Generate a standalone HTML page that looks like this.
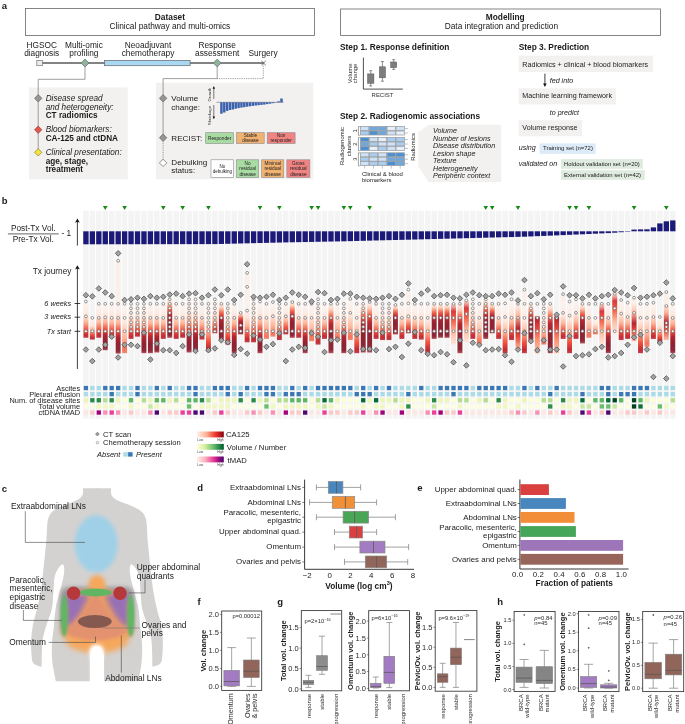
<!DOCTYPE html>
<html lang="en">
<head>
<meta charset="utf-8">
<title>Figure 1</title>
<style>
html,body{margin:0;padding:0;background:#fff;}
body{width:685px;height:724px;overflow:hidden;}
svg{display:block;font-family:'Liberation Sans', Arial, sans-serif;}
</style>
</head>
<body>
<svg width="685" height="724" viewBox="0 0 685 724" font-family="Liberation Sans, Arial, sans-serif">
<defs>
<linearGradient id="gn" x1="0" y1="0" x2="0" y2="1">
<stop offset="0" stop-color="#fff5f0" stop-opacity="0.5"/><stop offset="0.38" stop-color="#fee7dd"/><stop offset="0.58" stop-color="#fcb79d"/><stop offset="0.8" stop-color="#ee4f3c"/><stop offset="0.93" stop-color="#c22c35"/><stop offset="1" stop-color="#c4414b"/>
</linearGradient>
<linearGradient id="gd" x1="0" y1="0" x2="0" y2="1">
<stop offset="0" stop-color="#fff5f0" stop-opacity="0.5"/><stop offset="0.25" stop-color="#fee7dd"/><stop offset="0.42" stop-color="#fcb196"/><stop offset="0.56" stop-color="#ee4f3c"/><stop offset="0.68" stop-color="#b02631"/><stop offset="0.82" stop-color="#8f2231"/><stop offset="0.95" stop-color="#8d2838"/><stop offset="1" stop-color="#b5505a"/>
</linearGradient>
<linearGradient id="gD" x1="0" y1="0" x2="0" y2="1">
<stop offset="0" stop-color="#fff5f0" stop-opacity="0.6"/><stop offset="0.14" stop-color="#fdd0bb"/><stop offset="0.28" stop-color="#f0634a"/><stop offset="0.42" stop-color="#b52a33"/><stop offset="0.6" stop-color="#93222f"/><stop offset="0.93" stop-color="#8d2838"/><stop offset="1" stop-color="#b5505a"/>
</linearGradient>
<linearGradient id="gl" x1="0" y1="0" x2="0" y2="1">
<stop offset="0" stop-color="#fff5f0" stop-opacity="0.5"/><stop offset="0.4" stop-color="#fee7dd"/><stop offset="0.7" stop-color="#fcb59b"/><stop offset="0.92" stop-color="#f4735a"/><stop offset="1" stop-color="#f08a72"/>
</linearGradient>
<linearGradient id="gr" x1="0" y1="0" x2="0" y2="1">
<stop offset="0" stop-color="#fde4d8" stop-opacity="0.7"/><stop offset="0.2" stop-color="#d8393a"/><stop offset="0.45" stop-color="#f26a50"/><stop offset="0.7" stop-color="#fcbba1"/><stop offset="1" stop-color="#fee6dc"/>
</linearGradient>
<linearGradient id="gR" x1="0" y1="0" x2="0" y2="1">
<stop offset="0" stop-color="#a3212f"/><stop offset="0.3" stop-color="#e0413a"/><stop offset="0.6" stop-color="#fb8a6a"/><stop offset="1" stop-color="#fcc5ae"/>
</linearGradient>
<linearGradient id="gm" x1="0" y1="0" x2="0" y2="1">
<stop offset="0" stop-color="#fff5f0" stop-opacity="0.6"/><stop offset="0.3" stop-color="#fcae91"/><stop offset="0.55" stop-color="#b5252f"/><stop offset="0.75" stop-color="#e8503f"/><stop offset="1" stop-color="#fcbfa8"/>
</linearGradient>
<linearGradient id="cbRed" x1="0" y1="0" x2="1" y2="0">
<stop offset="0" stop-color="#fff0ea"/><stop offset="0.35" stop-color="#fcb398"/><stop offset="0.65" stop-color="#ef4533"/><stop offset="0.85" stop-color="#c4161c"/><stop offset="1" stop-color="#7a0a12"/>
</linearGradient>
<linearGradient id="cbGrn" x1="0" y1="0" x2="1" y2="0">
<stop offset="0" stop-color="#ffffe0"/><stop offset="0.3" stop-color="#d5ee9f"/><stop offset="0.6" stop-color="#6fc070"/><stop offset="0.85" stop-color="#1f8643"/><stop offset="1" stop-color="#00552e"/>
</linearGradient>
<linearGradient id="cbPur" x1="0" y1="0" x2="1" y2="0">
<stop offset="0" stop-color="#fff0ec"/><stop offset="0.3" stop-color="#fbb4bd"/><stop offset="0.6" stop-color="#ea3f98"/><stop offset="0.82" stop-color="#9a0a80"/><stop offset="1" stop-color="#4a0a6e"/>
</linearGradient>
<filter id="blur2" x="-30%" y="-30%" width="160%" height="160%"><feGaussianBlur stdDeviation="2.2"/></filter>
<filter id="blur3" x="-40%" y="-40%" width="180%" height="180%"><feGaussianBlur stdDeviation="3.5"/></filter>
<filter id="blur5" x="-50%" y="-50%" width="200%" height="200%"><feGaussianBlur stdDeviation="5.5"/></filter>
<filter id="blur1b" x="-30%" y="-30%" width="160%" height="160%"><feGaussianBlur stdDeviation="1.5"/></filter>
<filter id="blur2b" x="-40%" y="-40%" width="180%" height="180%"><feGaussianBlur stdDeviation="3"/></filter>
<filter id="blur1" x="-30%" y="-30%" width="160%" height="160%"><feGaussianBlur stdDeviation="0.9"/></filter>
</defs>
<rect x="0" y="0" width="685" height="724" fill="#ffffff"/>
<g fill="#1a1a1a">
<text x="1.80" y="8.80" font-size="9.5" font-weight="bold">a</text>
<rect x="25.40" y="8.40" width="289.00" height="27.00" fill="#fff" stroke="#666" stroke-width="0.8"/>
<text x="169.90" y="20.20" font-size="8.33" text-anchor="middle" font-weight="bold">Dataset</text>
<text x="169.90" y="28.90" font-size="8.33" text-anchor="middle">Clinical pathway and multi-omics</text>
<text x="41.70" y="47.80" font-size="8.3" text-anchor="middle">HGSOC</text>
<text x="41.70" y="56.40" font-size="8.3" text-anchor="middle">diagnosis</text>
<text x="83.90" y="47.80" font-size="8.3" text-anchor="middle">Multi-omic</text>
<text x="83.90" y="56.40" font-size="8.3" text-anchor="middle">profiling</text>
<text x="148.00" y="47.80" font-size="8.3" text-anchor="middle">Neoadjuvant</text>
<text x="148.00" y="56.40" font-size="8.3" text-anchor="middle">chemotherapy</text>
<text x="217.20" y="47.80" font-size="8.3" text-anchor="middle">Response</text>
<text x="217.20" y="56.40" font-size="8.3" text-anchor="middle">assessment</text>
<text x="263.10" y="56.40" font-size="8.3" text-anchor="middle">Surgery</text>
<line x1="42.00" y1="63.00" x2="263.60" y2="63.00" stroke="#5a5a5a" stroke-width="1.3" />
<rect x="36.80" y="60.40" width="5.60" height="5.30" fill="#ececec" stroke="#777" stroke-width="0.7"/>
<rect x="104.60" y="60.40" width="85.50" height="5.30" fill="#a9d8f2" stroke="#666" stroke-width="0.7"/>
<path d="M85 66.5V79.3H38.2V152.3" fill="none" stroke="#777" stroke-width="0.7"/>
<path d="M217.2 66.5V78.6H163.1V137.7" fill="none" stroke="#777" stroke-width="0.7"/>
<path d="M217.2 78.6H263.3V64" fill="none" stroke="#666" stroke-width="0.7" stroke-dasharray="0.9 0.9"/>
<path d="M85.00 59.10L88.90 63.00L85.00 66.90L81.10 63.00Z" fill="#8fb39c" stroke="#5f6f66" stroke-width="0.7"/>
<path d="M217.20 59.10L221.10 63.00L217.20 66.90L213.30 63.00Z" fill="#8fb39c" stroke="#5f6f66" stroke-width="0.7"/>
<path d="M261.4 60.8L265.8 65.2M265.8 60.8L261.4 65.2" fill="none" stroke="#444" stroke-width="0.7"/>
<rect x="29.00" y="87.50" width="98.80" height="91.80" fill="#f3f1f0"/>
<line x1="38.20" y1="87.50" x2="38.20" y2="152.30" stroke="#777" stroke-width="0.7" />
<path d="M38.20 94.60L41.90 98.30L38.20 102.00L34.50 98.30Z" fill="#959595" stroke="#666" stroke-width="0.7"/>
<path d="M38.20 126.00L41.90 129.70L38.20 133.40L34.50 129.70Z" fill="#e2574c" stroke="#8a4a44" stroke-width="0.7"/>
<path d="M38.20 148.60L41.90 152.30L38.20 156.00L34.50 152.30Z" fill="#f2e23a" stroke="#8a8440" stroke-width="0.7"/>
<text x="45.70" y="101.20" font-size="8.2" font-style="italic">Disease spread</text>
<text x="45.70" y="109.50" font-size="8.2" font-style="italic">and heterogeneity:</text>
<text x="45.70" y="118.30" font-size="8.2" font-weight="bold">CT radiomics</text>
<text x="45.70" y="132.10" font-size="8.2" font-style="italic">Blood biomarkers:</text>
<text x="45.70" y="141.40" font-size="8.2" font-weight="bold">CA-125 and ctDNA</text>
<text x="45.70" y="155.20" font-size="8.2" font-style="italic">Clinical presentation:</text>
<text x="45.70" y="164.00" font-size="8.2" font-weight="bold">age, stage,</text>
<text x="45.70" y="172.20" font-size="8.2" font-weight="bold">treatment</text>
<rect x="156.00" y="82.80" width="157.20" height="96.50" fill="#f3f1f0"/>
<line x1="163.10" y1="82.80" x2="163.10" y2="137.70" stroke="#777" stroke-width="0.7" />
<line x1="163.10" y1="137.70" x2="163.10" y2="162.90" stroke="#666" stroke-width="0.7" stroke-dasharray="0.9 0.9"/>
<path d="M163.10 94.60L166.80 98.30L163.10 102.00L159.40 98.30Z" fill="#959595" stroke="#666" stroke-width="0.7"/>
<path d="M163.10 134.00L166.80 137.70L163.10 141.40L159.40 137.70Z" fill="#959595" stroke="#666" stroke-width="0.7"/>
<path d="M163.10 159.20L166.80 162.90L163.10 166.60L159.40 162.90Z" fill="#ffffff" stroke="#666" stroke-width="0.7"/>
<text x="171.30" y="101.30" font-size="8.1">Volume</text>
<text x="171.30" y="110.10" font-size="8.1">change:</text>
<text x="171.30" y="141.00" font-size="8.1">RECIST:</text>
<text x="171.30" y="164.90" font-size="8.1">Debulking</text>
<text x="171.30" y="173.40" font-size="8.1">status:</text>
<line x1="213.80" y1="87.50" x2="213.80" y2="99.00" stroke="#222" stroke-width="0.6" />
<path d="M212.6 88.8L213.8 86.0L215.0 88.8Z" fill="#111"/>
<line x1="213.80" y1="105.00" x2="213.80" y2="117.60" stroke="#222" stroke-width="0.6" />
<path d="M212.6 116.4L213.8 119.2L215.0 116.4Z" fill="#111"/>
<text x="211.40" y="101.60" font-size="4.3" fill="#333" transform="rotate(-90 211.40 101.60)">Growth</text>
<text x="211.40" y="125.20" font-size="4.3" fill="#333" transform="rotate(-90 211.40 125.20)">Shrinkage</text>
<line x1="216.50" y1="102.30" x2="283.60" y2="102.30" stroke="#555" stroke-width="0.5" />
<rect x="220.20" y="102.30" width="2.45" height="11.40" fill="#3b62ad"/>
<rect x="223.06" y="102.30" width="2.45" height="10.20" fill="#3b62ad"/>
<rect x="225.92" y="102.30" width="2.45" height="8.60" fill="#3b62ad"/>
<rect x="228.78" y="102.30" width="2.45" height="7.70" fill="#3b62ad"/>
<rect x="231.64" y="102.30" width="2.45" height="7.20" fill="#3b62ad"/>
<rect x="234.50" y="102.30" width="2.45" height="6.40" fill="#3b62ad"/>
<rect x="237.36" y="102.30" width="2.45" height="5.80" fill="#3b62ad"/>
<rect x="240.22" y="102.30" width="2.45" height="5.30" fill="#3b62ad"/>
<rect x="243.08" y="102.30" width="2.45" height="4.90" fill="#3b62ad"/>
<rect x="245.94" y="102.30" width="2.45" height="4.40" fill="#3b62ad"/>
<rect x="248.80" y="102.30" width="2.45" height="4.00" fill="#3b62ad"/>
<rect x="251.66" y="102.30" width="2.45" height="3.60" fill="#3b62ad"/>
<rect x="254.52" y="102.30" width="2.45" height="3.20" fill="#3b62ad"/>
<rect x="257.38" y="102.30" width="2.45" height="2.90" fill="#3b62ad"/>
<rect x="260.24" y="102.30" width="2.45" height="2.60" fill="#3b62ad"/>
<rect x="263.10" y="102.30" width="2.45" height="2.30" fill="#3b62ad"/>
<rect x="265.96" y="102.30" width="2.45" height="1.80" fill="#3b62ad"/>
<rect x="268.82" y="102.30" width="2.45" height="1.40" fill="#3b62ad"/>
<rect x="271.68" y="102.30" width="2.45" height="0.90" fill="#3b62ad"/>
<rect x="274.54" y="102.30" width="2.45" height="0.30" fill="#3b62ad"/>
<rect x="277.40" y="101.30" width="2.45" height="1.00" fill="#3b62ad"/>
<rect x="280.26" y="98.50" width="2.45" height="3.80" fill="#3b62ad"/>
<rect x="205.70" y="132.70" width="27.90" height="10.80" fill="#a9dca3" stroke="#8a8a8a" stroke-width="0.6"/>
<text x="219.65" y="139.77" font-size="4.76" text-anchor="middle" fill="#222">Responder</text>
<rect x="236.60" y="132.70" width="27.60" height="10.80" fill="#f1b170" stroke="#8a8a8a" stroke-width="0.6"/>
<text x="250.40" y="137.12" font-size="4.76" text-anchor="middle" fill="#222">Stable</text>
<text x="250.40" y="142.42" font-size="4.76" text-anchor="middle" fill="#222">disease</text>
<rect x="267.20" y="132.70" width="27.90" height="10.80" fill="#f08482" stroke="#8a8a8a" stroke-width="0.6"/>
<text x="281.15" y="137.12" font-size="4.76" text-anchor="middle" fill="#222">Non</text>
<text x="281.15" y="142.42" font-size="4.76" text-anchor="middle" fill="#222">responder</text>
<rect x="211.00" y="159.80" width="22.60" height="17.60" fill="#ffffff" stroke="#8a8a8a" stroke-width="0.6"/>
<text x="222.30" y="167.53" font-size="4.5" text-anchor="middle" fill="#222">No</text>
<text x="222.30" y="172.83" font-size="4.5" text-anchor="middle" fill="#222">debulking</text>
<rect x="236.60" y="159.80" width="22.10" height="17.60" fill="#a9dca3" stroke="#8a8a8a" stroke-width="0.6"/>
<text x="247.65" y="164.97" font-size="4.76" text-anchor="middle" fill="#222">No</text>
<text x="247.65" y="170.27" font-size="4.76" text-anchor="middle" fill="#222">residual</text>
<text x="247.65" y="175.57" font-size="4.76" text-anchor="middle" fill="#222">disease</text>
<rect x="261.70" y="159.80" width="22.10" height="17.60" fill="#f1b170" stroke="#8a8a8a" stroke-width="0.6"/>
<text x="272.75" y="164.97" font-size="4.76" text-anchor="middle" fill="#222">Minimal</text>
<text x="272.75" y="170.27" font-size="4.76" text-anchor="middle" fill="#222">residual</text>
<text x="272.75" y="175.57" font-size="4.76" text-anchor="middle" fill="#222">disease</text>
<rect x="286.80" y="159.80" width="23.10" height="17.60" fill="#f08482" stroke="#8a8a8a" stroke-width="0.6"/>
<text x="298.35" y="164.97" font-size="4.76" text-anchor="middle" fill="#222">Gross</text>
<text x="298.35" y="170.27" font-size="4.76" text-anchor="middle" fill="#222">residual</text>
<text x="298.35" y="175.57" font-size="4.76" text-anchor="middle" fill="#222">disease</text>
<rect x="340.60" y="9.00" width="320.00" height="26.40" fill="#fff" stroke="#666" stroke-width="0.8"/>
<text x="505.20" y="20.20" font-size="8.33" text-anchor="middle" font-weight="bold">Modelling</text>
<text x="501.40" y="28.70" font-size="8.33" text-anchor="middle">Data integration and prediction</text>
<text x="340.00" y="50.00" font-size="8.36" font-weight="bold">Step 1. Response definition</text>
<path d="M363.4 57.6V89.1H402.8" fill="none" stroke="#222" stroke-width="0.8"/>
<text x="352.20" y="73.40" font-size="5.95" text-anchor="middle" fill="#333" transform="rotate(-90 352.20 73.40)">Volume</text>
<text x="357.20" y="73.40" font-size="5.95" text-anchor="middle" fill="#333" transform="rotate(-90 357.20 73.40)">change</text>
<text x="382.50" y="97.00" font-size="5.95" text-anchor="middle" fill="#333">RECIST</text>
<line x1="370.75" y1="70.70" x2="370.75" y2="86.00" stroke="#444" stroke-width="0.6" />
<line x1="369.25" y1="70.70" x2="372.25" y2="70.70" stroke="#444" stroke-width="0.6" />
<line x1="369.25" y1="86.00" x2="372.25" y2="86.00" stroke="#444" stroke-width="0.6" />
<rect x="367.60" y="73.90" width="6.30" height="9.40" fill="#7d7d7d" stroke="#555" stroke-width="0.5"/>
<line x1="382.40" y1="61.50" x2="382.40" y2="81.20" stroke="#444" stroke-width="0.6" />
<line x1="380.90" y1="61.50" x2="383.90" y2="61.50" stroke="#444" stroke-width="0.6" />
<line x1="380.90" y1="81.20" x2="383.90" y2="81.20" stroke="#444" stroke-width="0.6" />
<rect x="379.40" y="66.80" width="6.00" height="11.00" fill="#7d7d7d" stroke="#555" stroke-width="0.5"/>
<line x1="393.70" y1="59.70" x2="393.70" y2="69.40" stroke="#444" stroke-width="0.6" />
<line x1="392.20" y1="59.70" x2="395.20" y2="59.70" stroke="#444" stroke-width="0.6" />
<line x1="392.20" y1="69.40" x2="395.20" y2="69.40" stroke="#444" stroke-width="0.6" />
<rect x="390.70" y="62.00" width="6.00" height="5.60" fill="#7d7d7d" stroke="#555" stroke-width="0.5"/>
<text x="340.00" y="118.70" font-size="8.36" font-weight="bold">Step 2. Radiogenomic associations</text>
<rect x="360.40" y="126.60" width="8.50" height="4.00" fill="#cfe1f4" stroke="#9a9c9f" stroke-width="0.75"/>
<rect x="369.30" y="126.60" width="8.50" height="4.00" fill="#6fa8dc" stroke="#9a9c9f" stroke-width="0.75"/>
<rect x="378.20" y="126.60" width="8.50" height="4.00" fill="#6fa8dc" stroke="#9a9c9f" stroke-width="0.75"/>
<rect x="387.10" y="126.60" width="8.50" height="4.00" fill="#e6f0fa" stroke="#9a9c9f" stroke-width="0.75"/>
<rect x="396.00" y="126.60" width="8.50" height="4.00" fill="#cfe1f4" stroke="#9a9c9f" stroke-width="0.75"/>
<rect x="360.40" y="131.00" width="8.50" height="4.00" fill="#a9cdee" stroke="#9a9c9f" stroke-width="0.75"/>
<rect x="369.30" y="131.00" width="8.50" height="4.00" fill="#4a90d4" stroke="#9a9c9f" stroke-width="0.75"/>
<rect x="378.20" y="131.00" width="8.50" height="4.00" fill="#6fa8dc" stroke="#9a9c9f" stroke-width="0.75"/>
<rect x="387.10" y="131.00" width="8.50" height="4.00" fill="#cfe1f4" stroke="#9a9c9f" stroke-width="0.75"/>
<rect x="396.00" y="131.00" width="8.50" height="4.00" fill="#e6f0fa" stroke="#9a9c9f" stroke-width="0.75"/>
<rect x="360.40" y="137.60" width="8.50" height="4.00" fill="#4a90d4" stroke="#9a9c9f" stroke-width="0.75"/>
<rect x="369.30" y="137.60" width="8.50" height="4.00" fill="#cfe1f4" stroke="#9a9c9f" stroke-width="0.75"/>
<rect x="378.20" y="137.60" width="8.50" height="4.00" fill="#e6f0fa" stroke="#9a9c9f" stroke-width="0.75"/>
<rect x="387.10" y="137.60" width="8.50" height="4.00" fill="#a9cdee" stroke="#9a9c9f" stroke-width="0.75"/>
<rect x="396.00" y="137.60" width="8.50" height="4.00" fill="#a9cdee" stroke="#9a9c9f" stroke-width="0.75"/>
<rect x="360.40" y="142.00" width="8.50" height="4.00" fill="#6fa8dc" stroke="#9a9c9f" stroke-width="0.75"/>
<rect x="369.30" y="142.00" width="8.50" height="4.00" fill="#a9cdee" stroke="#9a9c9f" stroke-width="0.75"/>
<rect x="378.20" y="142.00" width="8.50" height="4.00" fill="#cfe1f4" stroke="#9a9c9f" stroke-width="0.75"/>
<rect x="387.10" y="142.00" width="8.50" height="4.00" fill="#cfe1f4" stroke="#9a9c9f" stroke-width="0.75"/>
<rect x="396.00" y="142.00" width="8.50" height="4.00" fill="#a9cdee" stroke="#9a9c9f" stroke-width="0.75"/>
<rect x="360.40" y="146.40" width="8.50" height="4.00" fill="#4a90d4" stroke="#9a9c9f" stroke-width="0.75"/>
<rect x="369.30" y="146.40" width="8.50" height="4.00" fill="#e6f0fa" stroke="#9a9c9f" stroke-width="0.75"/>
<rect x="378.20" y="146.40" width="8.50" height="4.00" fill="#a9cdee" stroke="#9a9c9f" stroke-width="0.75"/>
<rect x="387.10" y="146.40" width="8.50" height="4.00" fill="#cfe1f4" stroke="#9a9c9f" stroke-width="0.75"/>
<rect x="396.00" y="146.40" width="8.50" height="4.00" fill="#e6f0fa" stroke="#9a9c9f" stroke-width="0.75"/>
<rect x="360.40" y="152.80" width="8.50" height="4.00" fill="#cfe1f4" stroke="#9a9c9f" stroke-width="0.75"/>
<rect x="369.30" y="152.80" width="8.50" height="4.00" fill="#a9cdee" stroke="#9a9c9f" stroke-width="0.75"/>
<rect x="378.20" y="152.80" width="8.50" height="4.00" fill="#cfe1f4" stroke="#9a9c9f" stroke-width="0.75"/>
<rect x="387.10" y="152.80" width="8.50" height="4.00" fill="#4a90d4" stroke="#9a9c9f" stroke-width="0.75"/>
<rect x="396.00" y="152.80" width="8.50" height="4.00" fill="#4a90d4" stroke="#9a9c9f" stroke-width="0.75"/>
<rect x="360.40" y="157.20" width="8.50" height="4.00" fill="#a9cdee" stroke="#9a9c9f" stroke-width="0.75"/>
<rect x="369.30" y="157.20" width="8.50" height="4.00" fill="#cfe1f4" stroke="#9a9c9f" stroke-width="0.75"/>
<rect x="378.20" y="157.20" width="8.50" height="4.00" fill="#cfe1f4" stroke="#9a9c9f" stroke-width="0.75"/>
<rect x="387.10" y="157.20" width="8.50" height="4.00" fill="#6fa8dc" stroke="#9a9c9f" stroke-width="0.75"/>
<rect x="396.00" y="157.20" width="8.50" height="4.00" fill="#6fa8dc" stroke="#9a9c9f" stroke-width="0.75"/>
<rect x="360.40" y="161.60" width="8.50" height="4.00" fill="#cfe1f4" stroke="#9a9c9f" stroke-width="0.75"/>
<rect x="369.30" y="161.60" width="8.50" height="4.00" fill="#a9cdee" stroke="#9a9c9f" stroke-width="0.75"/>
<rect x="378.20" y="161.60" width="8.50" height="4.00" fill="#a9cdee" stroke="#9a9c9f" stroke-width="0.75"/>
<rect x="387.10" y="161.60" width="8.50" height="4.00" fill="#4a90d4" stroke="#9a9c9f" stroke-width="0.75"/>
<rect x="396.00" y="161.60" width="8.50" height="4.00" fill="#6fa8dc" stroke="#9a9c9f" stroke-width="0.75"/>
<path d="M359.8 126.6H358.4V135.3H359.8" fill="none" stroke="#444" stroke-width="0.5"/>
<text x="357.30" y="130.80" font-size="5.8" text-anchor="middle" fill="#333" transform="rotate(-90 357.30 130.80)">1</text>
<path d="M359.8 137.6H358.4V150.70000000000002H359.8" fill="none" stroke="#444" stroke-width="0.5"/>
<text x="357.30" y="144.00" font-size="5.8" text-anchor="middle" fill="#333" transform="rotate(-90 357.30 144.00)">2</text>
<path d="M359.8 152.8H358.4V165.9H359.8" fill="none" stroke="#444" stroke-width="0.5"/>
<text x="357.30" y="159.20" font-size="5.8" text-anchor="middle" fill="#333" transform="rotate(-90 357.30 159.20)">3</text>
<line x1="405.00" y1="128.60" x2="408.00" y2="128.60" stroke="#666" stroke-width="0.4" />
<line x1="405.00" y1="133.00" x2="408.00" y2="133.00" stroke="#666" stroke-width="0.4" />
<line x1="405.00" y1="139.60" x2="408.00" y2="139.60" stroke="#666" stroke-width="0.4" />
<line x1="405.00" y1="144.00" x2="408.00" y2="144.00" stroke="#666" stroke-width="0.4" />
<line x1="405.00" y1="148.40" x2="408.00" y2="148.40" stroke="#666" stroke-width="0.4" />
<line x1="405.00" y1="154.80" x2="408.00" y2="154.80" stroke="#666" stroke-width="0.4" />
<line x1="405.00" y1="159.20" x2="408.00" y2="159.20" stroke="#666" stroke-width="0.4" />
<line x1="405.00" y1="163.60" x2="408.00" y2="163.60" stroke="#666" stroke-width="0.4" />
<line x1="364.60" y1="166.00" x2="364.60" y2="168.60" stroke="#666" stroke-width="0.4" />
<line x1="373.50" y1="166.00" x2="373.50" y2="168.60" stroke="#666" stroke-width="0.4" />
<line x1="382.40" y1="166.00" x2="382.40" y2="168.60" stroke="#666" stroke-width="0.4" />
<line x1="391.30" y1="166.00" x2="391.30" y2="168.60" stroke="#666" stroke-width="0.4" />
<line x1="400.20" y1="166.00" x2="400.20" y2="168.60" stroke="#666" stroke-width="0.4" />
<text x="344.40" y="146.00" font-size="5.95" text-anchor="middle" fill="#222" transform="rotate(-90 344.40 146.00)">Radiogenomic</text>
<text x="350.80" y="146.00" font-size="5.95" text-anchor="middle" fill="#222" transform="rotate(-90 350.80 146.00)">clusters</text>
<text x="415.40" y="147.00" font-size="5.95" text-anchor="middle" fill="#222" transform="rotate(-90 415.40 147.00)">Radiomics</text>
<text x="362.00" y="176.30" font-size="5.95" fill="#222">Clinical &amp; blood</text>
<text x="362.00" y="182.40" font-size="5.95" fill="#222">biomarkers</text>
<path d="M418.2 132.6L428.4 124.8H501.3V182.0H428.4L418.2 166.2Z" fill="#f3f1f0"/>
<text x="433.00" y="133.40" font-size="7.15" font-style="italic">Volume</text>
<text x="433.00" y="140.83" font-size="7.15" font-style="italic">Number of lesions</text>
<text x="433.00" y="148.26" font-size="7.15" font-style="italic">Disease distribution</text>
<text x="433.00" y="155.69" font-size="7.15" font-style="italic">Lesion shape</text>
<text x="433.00" y="163.12" font-size="7.15" font-style="italic">Texture</text>
<text x="433.00" y="170.55" font-size="7.15" font-style="italic">Heterogeneity</text>
<text x="433.00" y="177.98" font-size="7.15" font-style="italic">Peripheric context</text>
<text x="518.70" y="50.00" font-size="8.36" font-weight="bold">Step 3. Prediction</text>
<rect x="518.70" y="55.70" width="134.20" height="16.30" fill="#f3f1f0"/>
<text x="522.30" y="66.90" font-size="7.15">Radiomics + clinical + blood biomarkers</text>
<line x1="544.90" y1="73.60" x2="544.90" y2="85.00" stroke="#111" stroke-width="0.8" />
<path d="M543.1 83.6L544.9 87.0L546.7 83.6Z" fill="#111"/>
<text x="549.70" y="82.60" font-size="7.15" font-style="italic">fed into</text>
<rect x="518.70" y="88.30" width="97.20" height="16.10" fill="#f3f1f0"/>
<text x="522.30" y="97.80" font-size="7.15">Machine learning framework</text>
<text x="549.70" y="114.60" font-size="7.15" font-style="italic">to predict</text>
<rect x="518.70" y="120.20" width="63.30" height="16.10" fill="#f3f1f0"/>
<text x="522.30" y="129.70" font-size="7.15">Volume response</text>
<text x="518.70" y="149.90" font-size="7.15" font-style="italic">using</text>
<rect x="539.70" y="143.40" width="55.90" height="10.50" fill="#ddebf8"/>
<text x="543.10" y="150.40" font-size="5.95">Training set (n=72)</text>
<text x="518.70" y="165.70" font-size="7.15" font-style="italic">validated on</text>
<rect x="561.00" y="159.10" width="81.90" height="9.70" fill="#e0ebe0"/>
<text x="564.00" y="165.70" font-size="5.95">Holdout validation set (n=20)</text>
<rect x="561.00" y="170.20" width="83.80" height="9.60" fill="#e0ebe0"/>
<text x="564.00" y="176.70" font-size="5.95">External validation set (n=42)</text>
<text x="1.80" y="203.80" font-size="9.5" font-weight="bold">b</text>
<rect x="83.15" y="210.80" width="5.55" height="207.80" fill="#f4f4f4"/>
<rect x="89.60" y="210.80" width="5.55" height="207.80" fill="#f4f4f4"/>
<rect x="96.05" y="210.80" width="5.55" height="207.80" fill="#f4f4f4"/>
<rect x="102.50" y="210.80" width="5.55" height="207.80" fill="#f4f4f4"/>
<rect x="108.95" y="210.80" width="5.55" height="207.80" fill="#f4f4f4"/>
<rect x="115.40" y="210.80" width="5.55" height="207.80" fill="#f4f4f4"/>
<rect x="121.84" y="210.80" width="5.55" height="207.80" fill="#f4f4f4"/>
<rect x="128.29" y="210.80" width="5.55" height="207.80" fill="#f4f4f4"/>
<rect x="134.74" y="210.80" width="5.55" height="207.80" fill="#f4f4f4"/>
<rect x="141.19" y="210.80" width="5.55" height="207.80" fill="#f4f4f4"/>
<rect x="147.64" y="210.80" width="5.55" height="207.80" fill="#f4f4f4"/>
<rect x="154.09" y="210.80" width="5.55" height="207.80" fill="#f4f4f4"/>
<rect x="160.54" y="210.80" width="5.55" height="207.80" fill="#f4f4f4"/>
<rect x="166.99" y="210.80" width="5.55" height="207.80" fill="#f4f4f4"/>
<rect x="173.44" y="210.80" width="5.55" height="207.80" fill="#f4f4f4"/>
<rect x="179.88" y="210.80" width="5.55" height="207.80" fill="#f4f4f4"/>
<rect x="186.33" y="210.80" width="5.55" height="207.80" fill="#f4f4f4"/>
<rect x="192.78" y="210.80" width="5.55" height="207.80" fill="#f4f4f4"/>
<rect x="199.23" y="210.80" width="5.55" height="207.80" fill="#f4f4f4"/>
<rect x="205.68" y="210.80" width="5.55" height="207.80" fill="#f4f4f4"/>
<rect x="212.13" y="210.80" width="5.55" height="207.80" fill="#f4f4f4"/>
<rect x="218.58" y="210.80" width="5.55" height="207.80" fill="#f4f4f4"/>
<rect x="225.03" y="210.80" width="5.55" height="207.80" fill="#f4f4f4"/>
<rect x="231.48" y="210.80" width="5.55" height="207.80" fill="#f4f4f4"/>
<rect x="237.93" y="210.80" width="5.55" height="207.80" fill="#f4f4f4"/>
<rect x="244.38" y="210.80" width="5.55" height="207.80" fill="#f4f4f4"/>
<rect x="250.82" y="210.80" width="5.55" height="207.80" fill="#f4f4f4"/>
<rect x="257.27" y="210.80" width="5.55" height="207.80" fill="#f4f4f4"/>
<rect x="263.72" y="210.80" width="5.55" height="207.80" fill="#f4f4f4"/>
<rect x="270.17" y="210.80" width="5.55" height="207.80" fill="#f4f4f4"/>
<rect x="276.62" y="210.80" width="5.55" height="207.80" fill="#f4f4f4"/>
<rect x="283.07" y="210.80" width="5.55" height="207.80" fill="#f4f4f4"/>
<rect x="289.52" y="210.80" width="5.55" height="207.80" fill="#f4f4f4"/>
<rect x="295.97" y="210.80" width="5.55" height="207.80" fill="#f4f4f4"/>
<rect x="302.42" y="210.80" width="5.55" height="207.80" fill="#f4f4f4"/>
<rect x="308.87" y="210.80" width="5.55" height="207.80" fill="#f4f4f4"/>
<rect x="315.31" y="210.80" width="5.55" height="207.80" fill="#f4f4f4"/>
<rect x="321.76" y="210.80" width="5.55" height="207.80" fill="#f4f4f4"/>
<rect x="328.21" y="210.80" width="5.55" height="207.80" fill="#f4f4f4"/>
<rect x="334.66" y="210.80" width="5.55" height="207.80" fill="#f4f4f4"/>
<rect x="341.11" y="210.80" width="5.55" height="207.80" fill="#f4f4f4"/>
<rect x="347.56" y="210.80" width="5.55" height="207.80" fill="#f4f4f4"/>
<rect x="354.01" y="210.80" width="5.55" height="207.80" fill="#f4f4f4"/>
<rect x="360.46" y="210.80" width="5.55" height="207.80" fill="#f4f4f4"/>
<rect x="366.91" y="210.80" width="5.55" height="207.80" fill="#f4f4f4"/>
<rect x="373.36" y="210.80" width="5.55" height="207.80" fill="#f4f4f4"/>
<rect x="379.80" y="210.80" width="5.55" height="207.80" fill="#f4f4f4"/>
<rect x="386.25" y="210.80" width="5.55" height="207.80" fill="#f4f4f4"/>
<rect x="392.70" y="210.80" width="5.55" height="207.80" fill="#f4f4f4"/>
<rect x="399.15" y="210.80" width="5.55" height="207.80" fill="#f4f4f4"/>
<rect x="405.60" y="210.80" width="5.55" height="207.80" fill="#f4f4f4"/>
<rect x="412.05" y="210.80" width="5.55" height="207.80" fill="#f4f4f4"/>
<rect x="418.50" y="210.80" width="5.55" height="207.80" fill="#f4f4f4"/>
<rect x="424.95" y="210.80" width="5.55" height="207.80" fill="#f4f4f4"/>
<rect x="431.40" y="210.80" width="5.55" height="207.80" fill="#f4f4f4"/>
<rect x="437.85" y="210.80" width="5.55" height="207.80" fill="#f4f4f4"/>
<rect x="444.29" y="210.80" width="5.55" height="207.80" fill="#f4f4f4"/>
<rect x="450.74" y="210.80" width="5.55" height="207.80" fill="#f4f4f4"/>
<rect x="457.19" y="210.80" width="5.55" height="207.80" fill="#f4f4f4"/>
<rect x="463.64" y="210.80" width="5.55" height="207.80" fill="#f4f4f4"/>
<rect x="470.09" y="210.80" width="5.55" height="207.80" fill="#f4f4f4"/>
<rect x="476.54" y="210.80" width="5.55" height="207.80" fill="#f4f4f4"/>
<rect x="482.99" y="210.80" width="5.55" height="207.80" fill="#f4f4f4"/>
<rect x="489.44" y="210.80" width="5.55" height="207.80" fill="#f4f4f4"/>
<rect x="495.89" y="210.80" width="5.55" height="207.80" fill="#f4f4f4"/>
<rect x="502.34" y="210.80" width="5.55" height="207.80" fill="#f4f4f4"/>
<rect x="508.78" y="210.80" width="5.55" height="207.80" fill="#f4f4f4"/>
<rect x="515.23" y="210.80" width="5.55" height="207.80" fill="#f4f4f4"/>
<rect x="521.68" y="210.80" width="5.55" height="207.80" fill="#f4f4f4"/>
<rect x="528.13" y="210.80" width="5.55" height="207.80" fill="#f4f4f4"/>
<rect x="534.58" y="210.80" width="5.55" height="207.80" fill="#f4f4f4"/>
<rect x="541.03" y="210.80" width="5.55" height="207.80" fill="#f4f4f4"/>
<rect x="547.48" y="210.80" width="5.55" height="207.80" fill="#f4f4f4"/>
<rect x="553.93" y="210.80" width="5.55" height="207.80" fill="#f4f4f4"/>
<rect x="560.38" y="210.80" width="5.55" height="207.80" fill="#f4f4f4"/>
<rect x="566.83" y="210.80" width="5.55" height="207.80" fill="#f4f4f4"/>
<rect x="573.27" y="210.80" width="5.55" height="207.80" fill="#f4f4f4"/>
<rect x="579.72" y="210.80" width="5.55" height="207.80" fill="#f4f4f4"/>
<rect x="586.17" y="210.80" width="5.55" height="207.80" fill="#f4f4f4"/>
<rect x="592.62" y="210.80" width="5.55" height="207.80" fill="#f4f4f4"/>
<rect x="599.07" y="210.80" width="5.55" height="207.80" fill="#f4f4f4"/>
<rect x="605.52" y="210.80" width="5.55" height="207.80" fill="#f4f4f4"/>
<rect x="611.97" y="210.80" width="5.55" height="207.80" fill="#f4f4f4"/>
<rect x="618.42" y="210.80" width="5.55" height="207.80" fill="#f4f4f4"/>
<rect x="624.87" y="210.80" width="5.55" height="207.80" fill="#f4f4f4"/>
<rect x="631.31" y="210.80" width="5.55" height="207.80" fill="#f4f4f4"/>
<rect x="637.76" y="210.80" width="5.55" height="207.80" fill="#f4f4f4"/>
<rect x="644.21" y="210.80" width="5.55" height="207.80" fill="#f4f4f4"/>
<rect x="650.66" y="210.80" width="5.55" height="207.80" fill="#f4f4f4"/>
<rect x="657.11" y="210.80" width="5.55" height="207.80" fill="#f4f4f4"/>
<rect x="663.56" y="210.80" width="5.55" height="207.80" fill="#f4f4f4"/>
<rect x="670.01" y="210.80" width="5.55" height="207.80" fill="#f4f4f4"/>
<path d="M102.95 205.9H107.55L105.25 209.9Z" fill="#158a15"/>
<path d="M122.29 205.9H126.89L124.59 209.9Z" fill="#158a15"/>
<path d="M160.99 205.9H165.59L163.29 209.9Z" fill="#158a15"/>
<path d="M180.33 205.9H184.94L182.63 209.9Z" fill="#158a15"/>
<path d="M206.13 205.9H210.73L208.43 209.9Z" fill="#158a15"/>
<path d="M257.72 205.9H262.32L260.02 209.9Z" fill="#158a15"/>
<path d="M277.07 205.9H281.67L279.37 209.9Z" fill="#158a15"/>
<path d="M309.31 205.9H313.92L311.62 209.9Z" fill="#158a15"/>
<path d="M315.76 205.9H320.36L318.06 209.9Z" fill="#158a15"/>
<path d="M341.56 205.9H346.16L343.86 209.9Z" fill="#158a15"/>
<path d="M348.01 205.9H352.61L350.31 209.9Z" fill="#158a15"/>
<path d="M367.36 205.9H371.96L369.66 209.9Z" fill="#158a15"/>
<path d="M483.44 205.9H488.04L485.74 209.9Z" fill="#158a15"/>
<path d="M489.89 205.9H494.49L492.19 209.9Z" fill="#158a15"/>
<path d="M515.68 205.9H520.28L517.98 209.9Z" fill="#158a15"/>
<path d="M567.28 205.9H571.88L569.58 209.9Z" fill="#158a15"/>
<path d="M573.72 205.9H578.32L576.02 209.9Z" fill="#158a15"/>
<path d="M586.62 205.9H591.22L588.92 209.9Z" fill="#158a15"/>
<path d="M631.76 205.9H636.36L634.06 209.9Z" fill="#158a15"/>
<path d="M664.01 205.9H668.61L666.31 209.9Z" fill="#158a15"/>
<rect x="83.25" y="231.30" width="5.35" height="13.00" fill="#1b1a78"/>
<rect x="89.70" y="231.30" width="5.35" height="12.99" fill="#1b1a78"/>
<rect x="96.15" y="231.30" width="5.35" height="12.98" fill="#1b1a78"/>
<rect x="102.60" y="231.30" width="5.35" height="12.97" fill="#1b1a78"/>
<rect x="109.05" y="231.30" width="5.35" height="12.96" fill="#1b1a78"/>
<rect x="115.50" y="231.30" width="5.35" height="12.95" fill="#1b1a78"/>
<rect x="121.94" y="231.30" width="5.35" height="12.94" fill="#1b1a78"/>
<rect x="128.39" y="231.30" width="5.35" height="12.93" fill="#1b1a78"/>
<rect x="134.84" y="231.30" width="5.35" height="12.92" fill="#1b1a78"/>
<rect x="141.29" y="231.30" width="5.35" height="12.91" fill="#1b1a78"/>
<rect x="147.74" y="231.30" width="5.35" height="12.90" fill="#1b1a78"/>
<rect x="154.19" y="231.30" width="5.35" height="12.89" fill="#1b1a78"/>
<rect x="160.64" y="231.30" width="5.35" height="12.88" fill="#1b1a78"/>
<rect x="167.09" y="231.30" width="5.35" height="12.87" fill="#1b1a78"/>
<rect x="173.54" y="231.30" width="5.35" height="12.86" fill="#1b1a78"/>
<rect x="179.98" y="231.30" width="5.35" height="12.85" fill="#1b1a78"/>
<rect x="186.43" y="231.30" width="5.35" height="12.84" fill="#1b1a78"/>
<rect x="192.88" y="231.30" width="5.35" height="12.83" fill="#1b1a78"/>
<rect x="199.33" y="231.30" width="5.35" height="12.82" fill="#1b1a78"/>
<rect x="205.78" y="231.30" width="5.35" height="12.81" fill="#1b1a78"/>
<rect x="212.23" y="231.30" width="5.35" height="12.80" fill="#1b1a78"/>
<rect x="218.68" y="231.30" width="5.35" height="12.65" fill="#1b1a78"/>
<rect x="225.13" y="231.30" width="5.35" height="12.49" fill="#1b1a78"/>
<rect x="231.58" y="231.30" width="5.35" height="12.34" fill="#1b1a78"/>
<rect x="238.03" y="231.30" width="5.35" height="12.18" fill="#1b1a78"/>
<rect x="244.47" y="231.30" width="5.35" height="12.03" fill="#1b1a78"/>
<rect x="250.92" y="231.30" width="5.35" height="11.87" fill="#1b1a78"/>
<rect x="257.37" y="231.30" width="5.35" height="11.72" fill="#1b1a78"/>
<rect x="263.82" y="231.30" width="5.35" height="11.56" fill="#1b1a78"/>
<rect x="270.27" y="231.30" width="5.35" height="11.41" fill="#1b1a78"/>
<rect x="276.72" y="231.30" width="5.35" height="11.25" fill="#1b1a78"/>
<rect x="283.17" y="231.30" width="5.35" height="11.10" fill="#1b1a78"/>
<rect x="289.62" y="231.30" width="5.35" height="10.98" fill="#1b1a78"/>
<rect x="296.07" y="231.30" width="5.35" height="10.86" fill="#1b1a78"/>
<rect x="302.52" y="231.30" width="5.35" height="10.73" fill="#1b1a78"/>
<rect x="308.97" y="231.30" width="5.35" height="10.61" fill="#1b1a78"/>
<rect x="315.41" y="231.30" width="5.35" height="10.49" fill="#1b1a78"/>
<rect x="321.86" y="231.30" width="5.35" height="10.37" fill="#1b1a78"/>
<rect x="328.31" y="231.30" width="5.35" height="10.24" fill="#1b1a78"/>
<rect x="334.76" y="231.30" width="5.35" height="10.12" fill="#1b1a78"/>
<rect x="341.21" y="231.30" width="5.35" height="10.00" fill="#1b1a78"/>
<rect x="347.66" y="231.30" width="5.35" height="9.83" fill="#1b1a78"/>
<rect x="354.11" y="231.30" width="5.35" height="9.67" fill="#1b1a78"/>
<rect x="360.56" y="231.30" width="5.35" height="9.50" fill="#1b1a78"/>
<rect x="367.01" y="231.30" width="5.35" height="9.33" fill="#1b1a78"/>
<rect x="373.46" y="231.30" width="5.35" height="9.17" fill="#1b1a78"/>
<rect x="379.90" y="231.30" width="5.35" height="9.00" fill="#1b1a78"/>
<rect x="386.35" y="231.30" width="5.35" height="8.85" fill="#1b1a78"/>
<rect x="392.80" y="231.30" width="5.35" height="8.70" fill="#1b1a78"/>
<rect x="399.25" y="231.30" width="5.35" height="8.55" fill="#1b1a78"/>
<rect x="405.70" y="231.30" width="5.35" height="8.40" fill="#1b1a78"/>
<rect x="412.15" y="231.30" width="5.35" height="8.23" fill="#1b1a78"/>
<rect x="418.60" y="231.30" width="5.35" height="8.07" fill="#1b1a78"/>
<rect x="425.05" y="231.30" width="5.35" height="7.90" fill="#1b1a78"/>
<rect x="431.50" y="231.30" width="5.35" height="7.73" fill="#1b1a78"/>
<rect x="437.95" y="231.30" width="5.35" height="7.57" fill="#1b1a78"/>
<rect x="444.39" y="231.30" width="5.35" height="7.40" fill="#1b1a78"/>
<rect x="450.84" y="231.30" width="5.35" height="7.23" fill="#1b1a78"/>
<rect x="457.29" y="231.30" width="5.35" height="7.07" fill="#1b1a78"/>
<rect x="463.74" y="231.30" width="5.35" height="6.90" fill="#1b1a78"/>
<rect x="470.19" y="231.30" width="5.35" height="6.73" fill="#1b1a78"/>
<rect x="476.64" y="231.30" width="5.35" height="6.57" fill="#1b1a78"/>
<rect x="483.09" y="231.30" width="5.35" height="6.40" fill="#1b1a78"/>
<rect x="489.54" y="231.30" width="5.35" height="6.23" fill="#1b1a78"/>
<rect x="495.99" y="231.30" width="5.35" height="6.07" fill="#1b1a78"/>
<rect x="502.44" y="231.30" width="5.35" height="5.90" fill="#1b1a78"/>
<rect x="508.88" y="231.30" width="5.35" height="5.73" fill="#1b1a78"/>
<rect x="515.33" y="231.30" width="5.35" height="5.57" fill="#1b1a78"/>
<rect x="521.78" y="231.30" width="5.35" height="5.40" fill="#1b1a78"/>
<rect x="528.23" y="231.30" width="5.35" height="5.13" fill="#1b1a78"/>
<rect x="534.68" y="231.30" width="5.35" height="4.87" fill="#1b1a78"/>
<rect x="541.13" y="231.30" width="5.35" height="4.60" fill="#1b1a78"/>
<rect x="547.58" y="231.30" width="5.35" height="4.33" fill="#1b1a78"/>
<rect x="554.03" y="231.30" width="5.35" height="4.07" fill="#1b1a78"/>
<rect x="560.48" y="231.30" width="5.35" height="3.80" fill="#1b1a78"/>
<rect x="566.93" y="231.30" width="5.35" height="3.52" fill="#1b1a78"/>
<rect x="573.37" y="231.30" width="5.35" height="3.25" fill="#1b1a78"/>
<rect x="579.82" y="231.30" width="5.35" height="2.98" fill="#1b1a78"/>
<rect x="586.27" y="231.30" width="5.35" height="2.70" fill="#1b1a78"/>
<rect x="592.72" y="231.30" width="5.35" height="2.40" fill="#1b1a78"/>
<rect x="599.17" y="231.30" width="5.35" height="2.10" fill="#1b1a78"/>
<rect x="605.62" y="231.30" width="5.35" height="1.80" fill="#1b1a78"/>
<rect x="612.07" y="231.30" width="5.35" height="1.40" fill="#1b1a78"/>
<rect x="618.52" y="231.30" width="5.35" height="0.90" fill="#1b1a78"/>
<rect x="624.97" y="231.30" width="5.35" height="0.45" fill="#1b1a78"/>
<rect x="631.41" y="229.60" width="5.35" height="1.70" fill="#1b1a78"/>
<rect x="637.86" y="229.40" width="5.35" height="1.90" fill="#1b1a78"/>
<rect x="644.31" y="229.30" width="5.35" height="2.00" fill="#1b1a78"/>
<rect x="650.76" y="227.40" width="5.35" height="3.90" fill="#1b1a78"/>
<rect x="657.21" y="223.40" width="5.35" height="7.90" fill="#1b1a78"/>
<rect x="663.66" y="221.30" width="5.35" height="10.00" fill="#1b1a78"/>
<rect x="670.11" y="220.40" width="5.35" height="10.90" fill="#1b1a78"/>
<text x="33.30" y="230.90" font-size="8.3" text-anchor="middle">Post-Tx Vol.</text>
<line x1="7.90" y1="233.90" x2="58.70" y2="233.90" stroke="#222" stroke-width="0.7" />
<text x="33.30" y="242.20" font-size="8.3" text-anchor="middle">Pre-Tx Vol.</text>
<text x="61.50" y="235.80" font-size="8.3">- 1</text>
<line x1="77.40" y1="221.50" x2="77.40" y2="245.60" stroke="#111" stroke-width="0.8" />
<path d="M75.0 222.8L77.4 218.6L79.8 222.8L77.4 221.8Z" fill="#111"/>
<text x="32.70" y="273.50" font-size="8.3">Tx journey</text>
<line x1="77.40" y1="268.00" x2="77.40" y2="369.00" stroke="#111" stroke-width="0.8" />
<path d="M75.0 269.4L77.4 265.2L79.8 269.4L77.4 268.4Z" fill="#111"/>
<line x1="74.60" y1="303.50" x2="80.20" y2="303.50" stroke="#111" stroke-width="0.8" />
<text x="71.10" y="305.70" font-size="7.3" text-anchor="end" font-style="italic">6 weeks</text>
<line x1="74.60" y1="317.20" x2="80.20" y2="317.20" stroke="#111" stroke-width="0.8" />
<text x="71.10" y="319.40" font-size="7.3" text-anchor="end" font-style="italic">3 weeks</text>
<line x1="74.60" y1="331.30" x2="80.20" y2="331.30" stroke="#111" stroke-width="0.8" />
<text x="71.10" y="333.50" font-size="7.3" text-anchor="end" font-style="italic">Tx start</text>
<rect x="83.45" y="300.22" width="4.90" height="37.57" fill="url(#gn)"/>
<rect x="89.90" y="316.51" width="4.90" height="23.08" fill="url(#gn)"/>
<rect x="96.35" y="303.84" width="4.90" height="0.45" fill="#fdeee6" opacity="0.75"/>
<rect x="96.35" y="301.57" width="4.90" height="36.21" fill="url(#gn)"/>
<rect x="102.80" y="302.48" width="4.90" height="47.75" fill="url(#gd)"/>
<rect x="109.25" y="302.48" width="4.90" height="35.30" fill="url(#gn)"/>
<rect x="115.70" y="260.84" width="4.90" height="43.45" fill="#fdeee6" opacity="0.75"/>
<rect x="115.70" y="301.57" width="4.90" height="52.05" fill="url(#gd)"/>
<rect x="122.14" y="302.48" width="4.90" height="50.69" fill="url(#gl)"/>
<rect x="128.59" y="302.48" width="4.90" height="36.43" fill="url(#gn)"/>
<rect x="135.04" y="302.48" width="4.90" height="34.17" fill="url(#gn)"/>
<rect x="141.49" y="302.48" width="4.90" height="50.69" fill="url(#gd)"/>
<rect x="147.94" y="302.48" width="4.90" height="50.69" fill="url(#gd)"/>
<rect x="154.39" y="302.48" width="4.90" height="50.01" fill="url(#gd)"/>
<rect x="160.84" y="302.48" width="4.90" height="36.43" fill="url(#gn)"/>
<rect x="167.29" y="297.95" width="4.90" height="39.83" fill="url(#gD)"/>
<rect x="173.74" y="302.48" width="4.90" height="36.43" fill="url(#gn)"/>
<rect x="180.19" y="302.48" width="4.90" height="35.30" fill="url(#gn)"/>
<rect x="186.63" y="297.95" width="4.90" height="54.54" fill="url(#gd)"/>
<rect x="193.08" y="297.95" width="4.90" height="53.41" fill="url(#gd)"/>
<rect x="199.53" y="302.48" width="4.90" height="37.11" fill="url(#gn)"/>
<rect x="205.98" y="302.48" width="4.90" height="48.88" fill="url(#gn)"/>
<rect x="212.43" y="299.31" width="4.90" height="4.98" fill="#fdeee6" opacity="0.75"/>
<rect x="212.43" y="301.57" width="4.90" height="31.68" fill="url(#gn)"/>
<rect x="218.88" y="302.48" width="4.90" height="37.57" fill="url(#gD)"/>
<rect x="225.33" y="303.84" width="4.90" height="0.45" fill="#fdeee6" opacity="0.75"/>
<rect x="225.33" y="301.57" width="4.90" height="43.00" fill="url(#gn)"/>
<rect x="231.78" y="302.48" width="4.90" height="50.69" fill="url(#gd)"/>
<rect x="238.23" y="311.53" width="4.90" height="22.86" fill="url(#gD)"/>
<rect x="244.68" y="272.83" width="4.90" height="31.46" fill="#fdeee6" opacity="0.75"/>
<rect x="244.68" y="301.57" width="4.90" height="40.73" fill="url(#gn)"/>
<rect x="251.12" y="297.95" width="4.90" height="44.35" fill="url(#gn)"/>
<rect x="257.57" y="300.22" width="4.90" height="52.95" fill="url(#gd)"/>
<rect x="264.02" y="302.48" width="4.90" height="36.43" fill="url(#gl)"/>
<rect x="270.47" y="300.67" width="4.90" height="35.98" fill="url(#gl)"/>
<rect x="276.92" y="302.48" width="4.90" height="37.57" fill="url(#gn)"/>
<rect x="283.37" y="302.48" width="4.90" height="31.91" fill="url(#gn)"/>
<rect x="289.82" y="300.67" width="4.90" height="37.11" fill="url(#gD)"/>
<rect x="296.27" y="302.48" width="4.90" height="35.30" fill="url(#gn)"/>
<rect x="302.72" y="302.48" width="4.90" height="50.69" fill="url(#gd)"/>
<rect x="309.17" y="302.48" width="4.90" height="38.70" fill="url(#gl)"/>
<rect x="315.61" y="297.95" width="4.90" height="46.62" fill="url(#gn)"/>
<rect x="322.06" y="302.48" width="4.90" height="36.43" fill="url(#gn)"/>
<rect x="328.51" y="302.48" width="4.90" height="50.69" fill="url(#gD)"/>
<rect x="334.96" y="302.48" width="4.90" height="37.57" fill="url(#gl)"/>
<rect x="341.41" y="302.48" width="4.90" height="50.69" fill="url(#gd)"/>
<rect x="347.86" y="297.50" width="4.90" height="42.54" fill="url(#gl)"/>
<rect x="354.31" y="302.48" width="4.90" height="50.69" fill="url(#gn)"/>
<rect x="360.76" y="302.48" width="4.90" height="50.01" fill="url(#gD)"/>
<rect x="367.21" y="300.67" width="4.90" height="51.82" fill="url(#gD)"/>
<rect x="373.66" y="302.48" width="4.90" height="36.43" fill="url(#gn)"/>
<rect x="380.10" y="302.48" width="4.90" height="37.57" fill="url(#gn)"/>
<rect x="386.55" y="302.48" width="4.90" height="37.57" fill="url(#gn)"/>
<rect x="393.00" y="303.61" width="4.90" height="30.78" fill="url(#gD)"/>
<rect x="399.45" y="302.48" width="4.90" height="36.43" fill="url(#gn)"/>
<rect x="405.90" y="289.58" width="4.90" height="14.71" fill="#fdeee6" opacity="0.75"/>
<rect x="405.90" y="301.57" width="4.90" height="31.68" fill="url(#gn)"/>
<rect x="412.35" y="302.48" width="4.90" height="36.43" fill="url(#gn)"/>
<rect x="418.80" y="302.48" width="4.90" height="37.11" fill="url(#gn)"/>
<rect x="425.25" y="303.84" width="4.90" height="0.45" fill="#fdeee6" opacity="0.75"/>
<rect x="425.25" y="301.57" width="4.90" height="51.60" fill="url(#gn)"/>
<rect x="431.70" y="302.48" width="4.90" height="36.43" fill="url(#gD)"/>
<rect x="438.15" y="302.48" width="4.90" height="35.30" fill="url(#gD)"/>
<rect x="444.59" y="302.48" width="4.90" height="35.30" fill="url(#gD)"/>
<rect x="451.04" y="302.93" width="4.90" height="41.64" fill="url(#gr)"/>
<rect x="457.49" y="302.48" width="4.90" height="50.69" fill="url(#gD)"/>
<rect x="463.94" y="299.54" width="4.90" height="42.77" fill="url(#gr)"/>
<rect x="470.39" y="297.95" width="4.90" height="40.96" fill="url(#gn)"/>
<rect x="476.84" y="302.48" width="4.90" height="42.09" fill="url(#gl)"/>
<rect x="483.29" y="297.95" width="4.90" height="40.96" fill="url(#gD)"/>
<rect x="489.74" y="302.48" width="4.90" height="30.78" fill="url(#gD)"/>
<rect x="496.19" y="302.48" width="4.90" height="36.43" fill="url(#gn)"/>
<rect x="502.64" y="302.03" width="4.90" height="51.14" fill="url(#gn)"/>
<rect x="509.08" y="297.95" width="4.90" height="42.09" fill="url(#gn)"/>
<rect x="515.53" y="302.48" width="4.90" height="47.07" fill="url(#gm)"/>
<rect x="521.98" y="289.58" width="4.90" height="14.71" fill="#fdeee6" opacity="0.75"/>
<rect x="521.98" y="301.57" width="4.90" height="51.60" fill="url(#gn)"/>
<rect x="528.43" y="302.48" width="4.90" height="37.57" fill="url(#gD)"/>
<rect x="534.88" y="316.51" width="4.90" height="36.66" fill="url(#gR)"/>
<rect x="541.33" y="302.48" width="4.90" height="42.09" fill="url(#gl)"/>
<rect x="547.78" y="302.48" width="4.90" height="50.69" fill="url(#gD)"/>
<rect x="554.23" y="316.51" width="4.90" height="36.66" fill="url(#gR)"/>
<rect x="560.68" y="294.11" width="4.90" height="10.18" fill="#fdeee6" opacity="0.75"/>
<rect x="560.68" y="301.57" width="4.90" height="37.34" fill="url(#gn)"/>
<rect x="567.12" y="300.22" width="4.90" height="52.95" fill="url(#gn)"/>
<rect x="573.57" y="297.95" width="4.90" height="40.96" fill="url(#gn)"/>
<rect x="580.02" y="302.48" width="4.90" height="40.96" fill="url(#gD)"/>
<rect x="586.47" y="302.48" width="4.90" height="35.30" fill="url(#gl)"/>
<rect x="592.92" y="316.96" width="4.90" height="17.42" fill="url(#gl)"/>
<rect x="599.37" y="302.93" width="4.90" height="41.64" fill="url(#gr)"/>
<rect x="605.82" y="302.48" width="4.90" height="50.69" fill="url(#gd)"/>
<rect x="612.27" y="292.75" width="4.90" height="40.51" fill="url(#gr)"/>
<rect x="618.72" y="298.63" width="4.90" height="41.41" fill="url(#gn)"/>
<rect x="625.17" y="301.35" width="4.90" height="37.57" fill="url(#gn)"/>
<rect x="631.61" y="297.73" width="4.90" height="6.56" fill="#fdeee6" opacity="0.75"/>
<rect x="631.61" y="301.57" width="4.90" height="39.60" fill="url(#gm)"/>
<rect x="638.06" y="302.48" width="4.90" height="50.69" fill="url(#gn)"/>
<rect x="644.51" y="302.48" width="4.90" height="44.35" fill="url(#gl)"/>
<rect x="650.96" y="301.35" width="4.90" height="37.57" fill="url(#gn)"/>
<rect x="657.41" y="315.60" width="4.90" height="26.70" fill="url(#gn)"/>
<rect x="663.86" y="292.07" width="4.90" height="12.22" fill="#fdeee6" opacity="0.75"/>
<rect x="663.86" y="301.57" width="4.90" height="38.47" fill="url(#gm)"/>
<rect x="670.31" y="302.48" width="4.90" height="50.69" fill="url(#gd)"/>
<circle cx="85.90" cy="301.57" r="1.4" fill="#fff" stroke="#6a6a6a" stroke-width="0.7"/>
<circle cx="85.90" cy="316.28" r="1.4" fill="#fff" stroke="#6a6a6a" stroke-width="0.7"/>
<circle cx="85.90" cy="331.22" r="1.4" fill="#fff" stroke="#6a6a6a" stroke-width="0.7"/>
<path d="M85.90 292.44L88.70 295.24L85.90 298.04L83.10 295.24Z" fill="#a2a2a2" stroke="#4f4f4f" stroke-width="0.8"/>
<path d="M85.90 346.75L88.70 349.55L85.90 352.35L83.10 349.55Z" fill="#a2a2a2" stroke="#4f4f4f" stroke-width="0.8"/>
<circle cx="92.35" cy="317.87" r="1.4" fill="#fff" stroke="#6a6a6a" stroke-width="0.7"/>
<circle cx="92.35" cy="331.22" r="1.4" fill="#fff" stroke="#6a6a6a" stroke-width="0.7"/>
<path d="M92.35 293.57L95.15 296.37L92.35 299.17L89.55 296.37Z" fill="#a2a2a2" stroke="#4f4f4f" stroke-width="0.8"/>
<path d="M92.35 358.29L95.15 361.09L92.35 363.89L89.55 361.09Z" fill="#a2a2a2" stroke="#4f4f4f" stroke-width="0.8"/>
<circle cx="98.80" cy="303.84" r="1.4" fill="#fff" stroke="#6a6a6a" stroke-width="0.7"/>
<circle cx="98.80" cy="317.87" r="1.4" fill="#fff" stroke="#6a6a6a" stroke-width="0.7"/>
<circle cx="98.80" cy="331.22" r="1.4" fill="#fff" stroke="#6a6a6a" stroke-width="0.7"/>
<path d="M98.80 285.65L101.60 288.45L98.80 291.25L96.00 288.45Z" fill="#a2a2a2" stroke="#4f4f4f" stroke-width="0.8"/>
<path d="M98.80 346.75L101.60 349.55L98.80 352.35L96.00 349.55Z" fill="#a2a2a2" stroke="#4f4f4f" stroke-width="0.8"/>
<circle cx="105.25" cy="303.84" r="1.4" fill="#fff" stroke="#6a6a6a" stroke-width="0.7"/>
<circle cx="105.25" cy="317.41" r="1.4" fill="#fff" stroke="#6a6a6a" stroke-width="0.7"/>
<circle cx="105.25" cy="331.22" r="1.4" fill="#fff" stroke="#6a6a6a" stroke-width="0.7"/>
<path d="M105.25 289.72L108.05 292.52L105.25 295.32L102.45 292.52Z" fill="#a2a2a2" stroke="#4f4f4f" stroke-width="0.8"/>
<path d="M105.25 342.00L108.05 344.80L105.25 347.60L102.45 344.80Z" fill="#a2a2a2" stroke="#4f4f4f" stroke-width="0.8"/>
<circle cx="111.70" cy="303.84" r="1.4" fill="#fff" stroke="#6a6a6a" stroke-width="0.7"/>
<circle cx="111.70" cy="317.87" r="1.4" fill="#fff" stroke="#6a6a6a" stroke-width="0.7"/>
<circle cx="111.70" cy="331.22" r="1.4" fill="#fff" stroke="#6a6a6a" stroke-width="0.7"/>
<path d="M111.70 293.34L114.50 296.14L111.70 298.94L108.90 296.14Z" fill="#a2a2a2" stroke="#4f4f4f" stroke-width="0.8"/>
<path d="M111.70 333.85L114.50 336.65L111.70 339.45L108.90 336.65Z" fill="#a2a2a2" stroke="#4f4f4f" stroke-width="0.8"/>
<circle cx="118.15" cy="260.84" r="1.4" fill="#fff" stroke="#6a6a6a" stroke-width="0.7"/>
<circle cx="118.15" cy="303.84" r="1.4" fill="#fff" stroke="#6a6a6a" stroke-width="0.7"/>
<circle cx="118.15" cy="317.87" r="1.4" fill="#fff" stroke="#6a6a6a" stroke-width="0.7"/>
<circle cx="118.15" cy="331.22" r="1.4" fill="#fff" stroke="#6a6a6a" stroke-width="0.7"/>
<path d="M118.15 250.57L120.95 253.37L118.15 256.17L115.35 253.37Z" fill="#a2a2a2" stroke="#4f4f4f" stroke-width="0.8"/>
<path d="M118.15 354.67L120.95 357.47L118.15 360.27L115.35 357.47Z" fill="#a2a2a2" stroke="#4f4f4f" stroke-width="0.8"/>
<circle cx="124.59" cy="303.84" r="1.4" fill="#fff" stroke="#6a6a6a" stroke-width="0.7"/>
<circle cx="124.59" cy="317.87" r="1.4" fill="#fff" stroke="#6a6a6a" stroke-width="0.7"/>
<circle cx="124.59" cy="331.22" r="1.4" fill="#fff" stroke="#6a6a6a" stroke-width="0.7"/>
<path d="M124.59 297.19L127.39 299.99L124.59 302.79L121.79 299.99Z" fill="#a2a2a2" stroke="#4f4f4f" stroke-width="0.8"/>
<path d="M124.59 342.00L127.39 344.80L124.59 347.60L121.79 344.80Z" fill="#a2a2a2" stroke="#4f4f4f" stroke-width="0.8"/>
<circle cx="131.04" cy="303.84" r="1.4" fill="#fff" stroke="#6a6a6a" stroke-width="0.7"/>
<circle cx="131.04" cy="308.36" r="1.4" fill="#fff" stroke="#6a6a6a" stroke-width="0.7"/>
<circle cx="131.04" cy="312.89" r="1.4" fill="#fff" stroke="#6a6a6a" stroke-width="0.7"/>
<circle cx="131.04" cy="317.87" r="1.4" fill="#fff" stroke="#6a6a6a" stroke-width="0.7"/>
<circle cx="131.04" cy="322.39" r="1.4" fill="#fff" stroke="#6a6a6a" stroke-width="0.7"/>
<circle cx="131.04" cy="326.92" r="1.4" fill="#fff" stroke="#6a6a6a" stroke-width="0.7"/>
<circle cx="131.04" cy="331.22" r="1.4" fill="#fff" stroke="#6a6a6a" stroke-width="0.7"/>
<path d="M131.04 296.51L133.84 299.31L131.04 302.11L128.24 299.31Z" fill="#a2a2a2" stroke="#4f4f4f" stroke-width="0.8"/>
<path d="M131.04 342.00L133.84 344.80L131.04 347.60L128.24 344.80Z" fill="#a2a2a2" stroke="#4f4f4f" stroke-width="0.8"/>
<circle cx="137.49" cy="303.84" r="1.4" fill="#fff" stroke="#6a6a6a" stroke-width="0.7"/>
<circle cx="137.49" cy="308.36" r="1.4" fill="#fff" stroke="#6a6a6a" stroke-width="0.7"/>
<circle cx="137.49" cy="312.89" r="1.4" fill="#fff" stroke="#6a6a6a" stroke-width="0.7"/>
<circle cx="137.49" cy="317.87" r="1.4" fill="#fff" stroke="#6a6a6a" stroke-width="0.7"/>
<circle cx="137.49" cy="322.39" r="1.4" fill="#fff" stroke="#6a6a6a" stroke-width="0.7"/>
<circle cx="137.49" cy="326.92" r="1.4" fill="#fff" stroke="#6a6a6a" stroke-width="0.7"/>
<circle cx="137.49" cy="331.22" r="1.4" fill="#fff" stroke="#6a6a6a" stroke-width="0.7"/>
<path d="M137.49 294.93L140.29 297.73L137.49 300.53L134.69 297.73Z" fill="#a2a2a2" stroke="#4f4f4f" stroke-width="0.8"/>
<path d="M137.49 343.35L140.29 346.15L137.49 348.95L134.69 346.15Z" fill="#a2a2a2" stroke="#4f4f4f" stroke-width="0.8"/>
<circle cx="143.94" cy="303.84" r="1.4" fill="#fff" stroke="#6a6a6a" stroke-width="0.7"/>
<circle cx="143.94" cy="308.36" r="1.4" fill="#fff" stroke="#6a6a6a" stroke-width="0.7"/>
<circle cx="143.94" cy="312.89" r="1.4" fill="#fff" stroke="#6a6a6a" stroke-width="0.7"/>
<circle cx="143.94" cy="317.87" r="1.4" fill="#fff" stroke="#6a6a6a" stroke-width="0.7"/>
<circle cx="143.94" cy="322.39" r="1.4" fill="#fff" stroke="#6a6a6a" stroke-width="0.7"/>
<circle cx="143.94" cy="326.92" r="1.4" fill="#fff" stroke="#6a6a6a" stroke-width="0.7"/>
<circle cx="143.94" cy="331.22" r="1.4" fill="#fff" stroke="#6a6a6a" stroke-width="0.7"/>
<path d="M143.94 296.06L146.74 298.86L143.94 301.66L141.14 298.86Z" fill="#a2a2a2" stroke="#4f4f4f" stroke-width="0.8"/>
<path d="M143.94 330.00L146.74 332.80L143.94 335.60L141.14 332.80Z" fill="#a2a2a2" stroke="#4f4f4f" stroke-width="0.8"/>
<circle cx="150.39" cy="303.84" r="1.4" fill="#fff" stroke="#6a6a6a" stroke-width="0.7"/>
<circle cx="150.39" cy="317.87" r="1.4" fill="#fff" stroke="#6a6a6a" stroke-width="0.7"/>
<circle cx="150.39" cy="331.22" r="1.4" fill="#fff" stroke="#6a6a6a" stroke-width="0.7"/>
<path d="M150.39 293.34L153.19 296.14L150.39 298.94L147.59 296.14Z" fill="#a2a2a2" stroke="#4f4f4f" stroke-width="0.8"/>
<path d="M150.39 356.71L153.19 359.51L150.39 362.31L147.59 359.51Z" fill="#a2a2a2" stroke="#4f4f4f" stroke-width="0.8"/>
<circle cx="156.84" cy="303.84" r="1.4" fill="#fff" stroke="#6a6a6a" stroke-width="0.7"/>
<circle cx="156.84" cy="317.87" r="1.4" fill="#fff" stroke="#6a6a6a" stroke-width="0.7"/>
<circle cx="156.84" cy="331.22" r="1.4" fill="#fff" stroke="#6a6a6a" stroke-width="0.7"/>
<path d="M156.84 294.93L159.64 297.73L156.84 300.53L154.04 297.73Z" fill="#a2a2a2" stroke="#4f4f4f" stroke-width="0.8"/>
<path d="M156.84 340.86L159.64 343.66L156.84 346.46L154.04 343.66Z" fill="#a2a2a2" stroke="#4f4f4f" stroke-width="0.8"/>
<circle cx="163.29" cy="303.84" r="1.4" fill="#fff" stroke="#6a6a6a" stroke-width="0.7"/>
<circle cx="163.29" cy="317.87" r="1.4" fill="#fff" stroke="#6a6a6a" stroke-width="0.7"/>
<circle cx="163.29" cy="331.22" r="1.4" fill="#fff" stroke="#6a6a6a" stroke-width="0.7"/>
<path d="M163.29 294.02L166.09 296.82L163.29 299.62L160.49 296.82Z" fill="#a2a2a2" stroke="#4f4f4f" stroke-width="0.8"/>
<path d="M163.29 347.43L166.09 350.23L163.29 353.03L160.49 350.23Z" fill="#a2a2a2" stroke="#4f4f4f" stroke-width="0.8"/>
<circle cx="169.74" cy="299.31" r="1.4" fill="#fff" stroke="#6a6a6a" stroke-width="0.7"/>
<circle cx="169.74" cy="303.84" r="1.4" fill="#fff" stroke="#6a6a6a" stroke-width="0.7"/>
<circle cx="169.74" cy="308.36" r="1.4" fill="#fff" stroke="#6a6a6a" stroke-width="0.7"/>
<circle cx="169.74" cy="312.89" r="1.4" fill="#fff" stroke="#6a6a6a" stroke-width="0.7"/>
<circle cx="169.74" cy="317.87" r="1.4" fill="#fff" stroke="#6a6a6a" stroke-width="0.7"/>
<circle cx="169.74" cy="322.39" r="1.4" fill="#fff" stroke="#6a6a6a" stroke-width="0.7"/>
<circle cx="169.74" cy="326.92" r="1.4" fill="#fff" stroke="#6a6a6a" stroke-width="0.7"/>
<circle cx="169.74" cy="331.22" r="1.4" fill="#fff" stroke="#6a6a6a" stroke-width="0.7"/>
<path d="M169.74 291.76L172.54 294.56L169.74 297.36L166.94 294.56Z" fill="#a2a2a2" stroke="#4f4f4f" stroke-width="0.8"/>
<path d="M169.74 347.43L172.54 350.23L169.74 353.03L166.94 350.23Z" fill="#a2a2a2" stroke="#4f4f4f" stroke-width="0.8"/>
<circle cx="176.19" cy="303.84" r="1.4" fill="#fff" stroke="#6a6a6a" stroke-width="0.7"/>
<circle cx="176.19" cy="317.87" r="1.4" fill="#fff" stroke="#6a6a6a" stroke-width="0.7"/>
<circle cx="176.19" cy="331.22" r="1.4" fill="#fff" stroke="#6a6a6a" stroke-width="0.7"/>
<path d="M176.19 290.85L178.99 293.65L176.19 296.45L173.39 293.65Z" fill="#a2a2a2" stroke="#4f4f4f" stroke-width="0.8"/>
<path d="M176.19 350.14L178.99 352.94L176.19 355.74L173.39 352.94Z" fill="#a2a2a2" stroke="#4f4f4f" stroke-width="0.8"/>
<circle cx="182.63" cy="303.84" r="1.4" fill="#fff" stroke="#6a6a6a" stroke-width="0.7"/>
<circle cx="182.63" cy="317.87" r="1.4" fill="#fff" stroke="#6a6a6a" stroke-width="0.7"/>
<circle cx="182.63" cy="331.22" r="1.4" fill="#fff" stroke="#6a6a6a" stroke-width="0.7"/>
<path d="M182.63 293.34L185.44 296.14L182.63 298.94L179.83 296.14Z" fill="#a2a2a2" stroke="#4f4f4f" stroke-width="0.8"/>
<path d="M182.63 343.35L185.44 346.15L182.63 348.95L179.83 346.15Z" fill="#a2a2a2" stroke="#4f4f4f" stroke-width="0.8"/>
<circle cx="189.08" cy="299.31" r="1.4" fill="#fff" stroke="#6a6a6a" stroke-width="0.7"/>
<circle cx="189.08" cy="303.84" r="1.4" fill="#fff" stroke="#6a6a6a" stroke-width="0.7"/>
<circle cx="189.08" cy="308.36" r="1.4" fill="#fff" stroke="#6a6a6a" stroke-width="0.7"/>
<circle cx="189.08" cy="312.89" r="1.4" fill="#fff" stroke="#6a6a6a" stroke-width="0.7"/>
<circle cx="189.08" cy="317.87" r="1.4" fill="#fff" stroke="#6a6a6a" stroke-width="0.7"/>
<circle cx="189.08" cy="322.39" r="1.4" fill="#fff" stroke="#6a6a6a" stroke-width="0.7"/>
<circle cx="189.08" cy="326.92" r="1.4" fill="#fff" stroke="#6a6a6a" stroke-width="0.7"/>
<circle cx="189.08" cy="331.22" r="1.4" fill="#fff" stroke="#6a6a6a" stroke-width="0.7"/>
<path d="M189.08 290.85L191.88 293.65L189.08 296.45L186.28 293.65Z" fill="#a2a2a2" stroke="#4f4f4f" stroke-width="0.8"/>
<path d="M189.08 331.59L191.88 334.39L189.08 337.19L186.28 334.39Z" fill="#a2a2a2" stroke="#4f4f4f" stroke-width="0.8"/>
<circle cx="195.53" cy="299.31" r="1.4" fill="#fff" stroke="#6a6a6a" stroke-width="0.7"/>
<circle cx="195.53" cy="303.84" r="1.4" fill="#fff" stroke="#6a6a6a" stroke-width="0.7"/>
<circle cx="195.53" cy="308.36" r="1.4" fill="#fff" stroke="#6a6a6a" stroke-width="0.7"/>
<circle cx="195.53" cy="312.89" r="1.4" fill="#fff" stroke="#6a6a6a" stroke-width="0.7"/>
<circle cx="195.53" cy="317.87" r="1.4" fill="#fff" stroke="#6a6a6a" stroke-width="0.7"/>
<circle cx="195.53" cy="322.39" r="1.4" fill="#fff" stroke="#6a6a6a" stroke-width="0.7"/>
<circle cx="195.53" cy="326.92" r="1.4" fill="#fff" stroke="#6a6a6a" stroke-width="0.7"/>
<circle cx="195.53" cy="331.22" r="1.4" fill="#fff" stroke="#6a6a6a" stroke-width="0.7"/>
<path d="M195.53 290.40L198.33 293.20L195.53 296.00L192.73 293.20Z" fill="#a2a2a2" stroke="#4f4f4f" stroke-width="0.8"/>
<path d="M195.53 348.11L198.33 350.91L195.53 353.71L192.73 350.91Z" fill="#a2a2a2" stroke="#4f4f4f" stroke-width="0.8"/>
<circle cx="201.98" cy="303.84" r="1.4" fill="#fff" stroke="#6a6a6a" stroke-width="0.7"/>
<circle cx="201.98" cy="317.87" r="1.4" fill="#fff" stroke="#6a6a6a" stroke-width="0.7"/>
<circle cx="201.98" cy="331.22" r="1.4" fill="#fff" stroke="#6a6a6a" stroke-width="0.7"/>
<path d="M201.98 294.93L204.78 297.73L201.98 300.53L199.18 297.73Z" fill="#a2a2a2" stroke="#4f4f4f" stroke-width="0.8"/>
<path d="M201.98 331.59L204.78 334.39L201.98 337.19L199.18 334.39Z" fill="#a2a2a2" stroke="#4f4f4f" stroke-width="0.8"/>
<circle cx="208.43" cy="303.84" r="1.4" fill="#fff" stroke="#6a6a6a" stroke-width="0.7"/>
<circle cx="208.43" cy="308.36" r="1.4" fill="#fff" stroke="#6a6a6a" stroke-width="0.7"/>
<circle cx="208.43" cy="312.89" r="1.4" fill="#fff" stroke="#6a6a6a" stroke-width="0.7"/>
<circle cx="208.43" cy="317.87" r="1.4" fill="#fff" stroke="#6a6a6a" stroke-width="0.7"/>
<circle cx="208.43" cy="322.39" r="1.4" fill="#fff" stroke="#6a6a6a" stroke-width="0.7"/>
<circle cx="208.43" cy="326.92" r="1.4" fill="#fff" stroke="#6a6a6a" stroke-width="0.7"/>
<circle cx="208.43" cy="331.22" r="1.4" fill="#fff" stroke="#6a6a6a" stroke-width="0.7"/>
<path d="M208.43 292.44L211.23 295.24L208.43 298.04L205.63 295.24Z" fill="#a2a2a2" stroke="#4f4f4f" stroke-width="0.8"/>
<path d="M208.43 347.43L211.23 350.23L208.43 353.03L205.63 350.23Z" fill="#a2a2a2" stroke="#4f4f4f" stroke-width="0.8"/>
<circle cx="214.88" cy="299.31" r="1.4" fill="#fff" stroke="#6a6a6a" stroke-width="0.7"/>
<circle cx="214.88" cy="303.84" r="1.4" fill="#fff" stroke="#6a6a6a" stroke-width="0.7"/>
<circle cx="214.88" cy="308.36" r="1.4" fill="#fff" stroke="#6a6a6a" stroke-width="0.7"/>
<circle cx="214.88" cy="312.89" r="1.4" fill="#fff" stroke="#6a6a6a" stroke-width="0.7"/>
<circle cx="214.88" cy="317.87" r="1.4" fill="#fff" stroke="#6a6a6a" stroke-width="0.7"/>
<circle cx="214.88" cy="322.39" r="1.4" fill="#fff" stroke="#6a6a6a" stroke-width="0.7"/>
<circle cx="214.88" cy="326.92" r="1.4" fill="#fff" stroke="#6a6a6a" stroke-width="0.7"/>
<circle cx="214.88" cy="331.22" r="1.4" fill="#fff" stroke="#6a6a6a" stroke-width="0.7"/>
<path d="M214.88 286.78L217.68 289.58L214.88 292.38L212.08 289.58Z" fill="#a2a2a2" stroke="#4f4f4f" stroke-width="0.8"/>
<path d="M214.88 345.62L217.68 348.42L214.88 351.22L212.08 348.42Z" fill="#a2a2a2" stroke="#4f4f4f" stroke-width="0.8"/>
<circle cx="221.33" cy="303.84" r="1.4" fill="#fff" stroke="#6a6a6a" stroke-width="0.7"/>
<circle cx="221.33" cy="317.87" r="1.4" fill="#fff" stroke="#6a6a6a" stroke-width="0.7"/>
<circle cx="221.33" cy="331.22" r="1.4" fill="#fff" stroke="#6a6a6a" stroke-width="0.7"/>
<path d="M221.33 292.44L224.13 295.24L221.33 298.04L218.53 295.24Z" fill="#a2a2a2" stroke="#4f4f4f" stroke-width="0.8"/>
<path d="M221.33 337.47L224.13 340.27L221.33 343.07L218.53 340.27Z" fill="#a2a2a2" stroke="#4f4f4f" stroke-width="0.8"/>
<circle cx="227.78" cy="303.84" r="1.4" fill="#fff" stroke="#6a6a6a" stroke-width="0.7"/>
<circle cx="227.78" cy="308.36" r="1.4" fill="#fff" stroke="#6a6a6a" stroke-width="0.7"/>
<circle cx="227.78" cy="312.89" r="1.4" fill="#fff" stroke="#6a6a6a" stroke-width="0.7"/>
<circle cx="227.78" cy="317.87" r="1.4" fill="#fff" stroke="#6a6a6a" stroke-width="0.7"/>
<circle cx="227.78" cy="322.39" r="1.4" fill="#fff" stroke="#6a6a6a" stroke-width="0.7"/>
<circle cx="227.78" cy="326.92" r="1.4" fill="#fff" stroke="#6a6a6a" stroke-width="0.7"/>
<circle cx="227.78" cy="331.22" r="1.4" fill="#fff" stroke="#6a6a6a" stroke-width="0.7"/>
<path d="M227.78 286.78L230.58 289.58L227.78 292.38L224.98 289.58Z" fill="#a2a2a2" stroke="#4f4f4f" stroke-width="0.8"/>
<path d="M227.78 339.51L230.58 342.31L227.78 345.11L224.98 342.31Z" fill="#a2a2a2" stroke="#4f4f4f" stroke-width="0.8"/>
<circle cx="234.23" cy="303.84" r="1.4" fill="#fff" stroke="#6a6a6a" stroke-width="0.7"/>
<circle cx="234.23" cy="317.87" r="1.4" fill="#fff" stroke="#6a6a6a" stroke-width="0.7"/>
<circle cx="234.23" cy="331.22" r="1.4" fill="#fff" stroke="#6a6a6a" stroke-width="0.7"/>
<path d="M234.23 297.19L237.03 299.99L234.23 302.79L231.43 299.99Z" fill="#a2a2a2" stroke="#4f4f4f" stroke-width="0.8"/>
<path d="M234.23 352.18L237.03 354.98L234.23 357.78L231.43 354.98Z" fill="#a2a2a2" stroke="#4f4f4f" stroke-width="0.8"/>
<circle cx="240.68" cy="312.89" r="1.4" fill="#fff" stroke="#6a6a6a" stroke-width="0.7"/>
<circle cx="240.68" cy="325.33" r="1.4" fill="#fff" stroke="#6a6a6a" stroke-width="0.7"/>
<circle cx="240.68" cy="331.22" r="1.4" fill="#fff" stroke="#6a6a6a" stroke-width="0.7"/>
<path d="M240.68 291.99L243.48 294.79L240.68 297.59L237.88 294.79Z" fill="#a2a2a2" stroke="#4f4f4f" stroke-width="0.8"/>
<path d="M240.68 346.30L243.48 349.10L240.68 351.90L237.88 349.10Z" fill="#a2a2a2" stroke="#4f4f4f" stroke-width="0.8"/>
<circle cx="247.12" cy="272.83" r="1.4" fill="#fff" stroke="#6a6a6a" stroke-width="0.7"/>
<circle cx="247.12" cy="286.86" r="1.4" fill="#fff" stroke="#6a6a6a" stroke-width="0.7"/>
<circle cx="247.12" cy="310.63" r="1.4" fill="#fff" stroke="#6a6a6a" stroke-width="0.7"/>
<circle cx="247.12" cy="331.22" r="1.4" fill="#fff" stroke="#6a6a6a" stroke-width="0.7"/>
<path d="M247.12 261.44L249.93 264.24L247.12 267.04L244.32 264.24Z" fill="#a2a2a2" stroke="#4f4f4f" stroke-width="0.8"/>
<path d="M247.12 350.82L249.93 353.62L247.12 356.42L244.32 353.62Z" fill="#a2a2a2" stroke="#4f4f4f" stroke-width="0.8"/>
<circle cx="253.57" cy="299.31" r="1.4" fill="#fff" stroke="#6a6a6a" stroke-width="0.7"/>
<circle cx="253.57" cy="303.84" r="1.4" fill="#fff" stroke="#6a6a6a" stroke-width="0.7"/>
<circle cx="253.57" cy="308.36" r="1.4" fill="#fff" stroke="#6a6a6a" stroke-width="0.7"/>
<circle cx="253.57" cy="312.89" r="1.4" fill="#fff" stroke="#6a6a6a" stroke-width="0.7"/>
<circle cx="253.57" cy="317.87" r="1.4" fill="#fff" stroke="#6a6a6a" stroke-width="0.7"/>
<circle cx="253.57" cy="322.39" r="1.4" fill="#fff" stroke="#6a6a6a" stroke-width="0.7"/>
<circle cx="253.57" cy="326.92" r="1.4" fill="#fff" stroke="#6a6a6a" stroke-width="0.7"/>
<circle cx="253.57" cy="331.22" r="1.4" fill="#fff" stroke="#6a6a6a" stroke-width="0.7"/>
<path d="M253.57 294.02L256.37 296.82L253.57 299.62L250.77 296.82Z" fill="#a2a2a2" stroke="#4f4f4f" stroke-width="0.8"/>
<path d="M253.57 332.72L256.37 335.52L253.57 338.32L250.77 335.52Z" fill="#a2a2a2" stroke="#4f4f4f" stroke-width="0.8"/>
<circle cx="260.02" cy="301.57" r="1.4" fill="#fff" stroke="#6a6a6a" stroke-width="0.7"/>
<circle cx="260.02" cy="317.87" r="1.4" fill="#fff" stroke="#6a6a6a" stroke-width="0.7"/>
<circle cx="260.02" cy="331.22" r="1.4" fill="#fff" stroke="#6a6a6a" stroke-width="0.7"/>
<path d="M260.02 294.93L262.82 297.73L260.02 300.53L257.22 297.73Z" fill="#a2a2a2" stroke="#4f4f4f" stroke-width="0.8"/>
<path d="M260.02 336.79L262.82 339.59L260.02 342.39L257.22 339.59Z" fill="#a2a2a2" stroke="#4f4f4f" stroke-width="0.8"/>
<circle cx="266.47" cy="303.84" r="1.4" fill="#fff" stroke="#6a6a6a" stroke-width="0.7"/>
<circle cx="266.47" cy="317.87" r="1.4" fill="#fff" stroke="#6a6a6a" stroke-width="0.7"/>
<circle cx="266.47" cy="331.22" r="1.4" fill="#fff" stroke="#6a6a6a" stroke-width="0.7"/>
<path d="M266.47 294.02L269.27 296.82L266.47 299.62L263.67 296.82Z" fill="#a2a2a2" stroke="#4f4f4f" stroke-width="0.8"/>
<path d="M266.47 344.03L269.27 346.83L266.47 349.63L263.67 346.83Z" fill="#a2a2a2" stroke="#4f4f4f" stroke-width="0.8"/>
<circle cx="272.92" cy="302.03" r="1.4" fill="#fff" stroke="#6a6a6a" stroke-width="0.7"/>
<circle cx="272.92" cy="316.28" r="1.4" fill="#fff" stroke="#6a6a6a" stroke-width="0.7"/>
<circle cx="272.92" cy="331.22" r="1.4" fill="#fff" stroke="#6a6a6a" stroke-width="0.7"/>
<path d="M272.92 291.99L275.72 294.79L272.92 297.59L270.12 294.79Z" fill="#a2a2a2" stroke="#4f4f4f" stroke-width="0.8"/>
<path d="M272.92 341.32L275.72 344.12L272.92 346.92L270.12 344.12Z" fill="#a2a2a2" stroke="#4f4f4f" stroke-width="0.8"/>
<circle cx="279.37" cy="303.84" r="1.4" fill="#fff" stroke="#6a6a6a" stroke-width="0.7"/>
<circle cx="279.37" cy="308.36" r="1.4" fill="#fff" stroke="#6a6a6a" stroke-width="0.7"/>
<circle cx="279.37" cy="312.89" r="1.4" fill="#fff" stroke="#6a6a6a" stroke-width="0.7"/>
<circle cx="279.37" cy="317.87" r="1.4" fill="#fff" stroke="#6a6a6a" stroke-width="0.7"/>
<circle cx="279.37" cy="322.39" r="1.4" fill="#fff" stroke="#6a6a6a" stroke-width="0.7"/>
<circle cx="279.37" cy="326.92" r="1.4" fill="#fff" stroke="#6a6a6a" stroke-width="0.7"/>
<circle cx="279.37" cy="331.22" r="1.4" fill="#fff" stroke="#6a6a6a" stroke-width="0.7"/>
<path d="M279.37 297.19L282.17 299.99L279.37 302.79L276.57 299.99Z" fill="#a2a2a2" stroke="#4f4f4f" stroke-width="0.8"/>
<path d="M279.37 330.46L282.17 333.26L279.37 336.06L276.57 333.26Z" fill="#a2a2a2" stroke="#4f4f4f" stroke-width="0.8"/>
<circle cx="285.82" cy="303.84" r="1.4" fill="#fff" stroke="#6a6a6a" stroke-width="0.7"/>
<circle cx="285.82" cy="316.28" r="1.4" fill="#fff" stroke="#6a6a6a" stroke-width="0.7"/>
<circle cx="285.82" cy="331.22" r="1.4" fill="#fff" stroke="#6a6a6a" stroke-width="0.7"/>
<path d="M285.82 294.93L288.62 297.73L285.82 300.53L283.02 297.73Z" fill="#a2a2a2" stroke="#4f4f4f" stroke-width="0.8"/>
<path d="M285.82 358.29L288.62 361.09L285.82 363.89L283.02 361.09Z" fill="#a2a2a2" stroke="#4f4f4f" stroke-width="0.8"/>
<circle cx="292.27" cy="302.03" r="1.4" fill="#fff" stroke="#6a6a6a" stroke-width="0.7"/>
<circle cx="292.27" cy="316.28" r="1.4" fill="#fff" stroke="#6a6a6a" stroke-width="0.7"/>
<circle cx="292.27" cy="331.22" r="1.4" fill="#fff" stroke="#6a6a6a" stroke-width="0.7"/>
<path d="M292.27 289.72L295.07 292.52L292.27 295.32L289.47 292.52Z" fill="#a2a2a2" stroke="#4f4f4f" stroke-width="0.8"/>
<path d="M292.27 346.75L295.07 349.55L292.27 352.35L289.47 349.55Z" fill="#a2a2a2" stroke="#4f4f4f" stroke-width="0.8"/>
<circle cx="298.72" cy="303.84" r="1.4" fill="#fff" stroke="#6a6a6a" stroke-width="0.7"/>
<circle cx="298.72" cy="317.87" r="1.4" fill="#fff" stroke="#6a6a6a" stroke-width="0.7"/>
<circle cx="298.72" cy="331.22" r="1.4" fill="#fff" stroke="#6a6a6a" stroke-width="0.7"/>
<path d="M298.72 291.99L301.52 294.79L298.72 297.59L295.92 294.79Z" fill="#a2a2a2" stroke="#4f4f4f" stroke-width="0.8"/>
<path d="M298.72 344.03L301.52 346.83L298.72 349.63L295.92 346.83Z" fill="#a2a2a2" stroke="#4f4f4f" stroke-width="0.8"/>
<circle cx="305.17" cy="303.84" r="1.4" fill="#fff" stroke="#6a6a6a" stroke-width="0.7"/>
<circle cx="305.17" cy="317.87" r="1.4" fill="#fff" stroke="#6a6a6a" stroke-width="0.7"/>
<circle cx="305.17" cy="331.22" r="1.4" fill="#fff" stroke="#6a6a6a" stroke-width="0.7"/>
<path d="M305.17 294.02L307.97 296.82L305.17 299.62L302.37 296.82Z" fill="#a2a2a2" stroke="#4f4f4f" stroke-width="0.8"/>
<path d="M305.17 345.16L307.97 347.96L305.17 350.76L302.37 347.96Z" fill="#a2a2a2" stroke="#4f4f4f" stroke-width="0.8"/>
<circle cx="311.62" cy="303.84" r="1.4" fill="#fff" stroke="#6a6a6a" stroke-width="0.7"/>
<circle cx="311.62" cy="317.87" r="1.4" fill="#fff" stroke="#6a6a6a" stroke-width="0.7"/>
<circle cx="311.62" cy="331.22" r="1.4" fill="#fff" stroke="#6a6a6a" stroke-width="0.7"/>
<path d="M311.62 298.77L314.42 301.57L311.62 304.37L308.81 301.57Z" fill="#a2a2a2" stroke="#4f4f4f" stroke-width="0.8"/>
<path d="M311.62 330.46L314.42 333.26L311.62 336.06L308.81 333.26Z" fill="#a2a2a2" stroke="#4f4f4f" stroke-width="0.8"/>
<circle cx="318.06" cy="299.31" r="1.4" fill="#fff" stroke="#6a6a6a" stroke-width="0.7"/>
<circle cx="318.06" cy="303.84" r="1.4" fill="#fff" stroke="#6a6a6a" stroke-width="0.7"/>
<circle cx="318.06" cy="308.36" r="1.4" fill="#fff" stroke="#6a6a6a" stroke-width="0.7"/>
<circle cx="318.06" cy="312.89" r="1.4" fill="#fff" stroke="#6a6a6a" stroke-width="0.7"/>
<circle cx="318.06" cy="317.87" r="1.4" fill="#fff" stroke="#6a6a6a" stroke-width="0.7"/>
<circle cx="318.06" cy="322.39" r="1.4" fill="#fff" stroke="#6a6a6a" stroke-width="0.7"/>
<circle cx="318.06" cy="326.92" r="1.4" fill="#fff" stroke="#6a6a6a" stroke-width="0.7"/>
<circle cx="318.06" cy="331.22" r="1.4" fill="#fff" stroke="#6a6a6a" stroke-width="0.7"/>
<path d="M318.06 289.27L320.86 292.07L318.06 294.87L315.26 292.07Z" fill="#a2a2a2" stroke="#4f4f4f" stroke-width="0.8"/>
<path d="M318.06 333.85L320.86 336.65L318.06 339.45L315.26 336.65Z" fill="#a2a2a2" stroke="#4f4f4f" stroke-width="0.8"/>
<circle cx="324.51" cy="303.84" r="1.4" fill="#fff" stroke="#6a6a6a" stroke-width="0.7"/>
<circle cx="324.51" cy="317.87" r="1.4" fill="#fff" stroke="#6a6a6a" stroke-width="0.7"/>
<circle cx="324.51" cy="331.22" r="1.4" fill="#fff" stroke="#6a6a6a" stroke-width="0.7"/>
<path d="M324.51 290.40L327.31 293.20L324.51 296.00L321.71 293.20Z" fill="#a2a2a2" stroke="#4f4f4f" stroke-width="0.8"/>
<path d="M324.51 349.24L327.31 352.04L324.51 354.84L321.71 352.04Z" fill="#a2a2a2" stroke="#4f4f4f" stroke-width="0.8"/>
<circle cx="330.96" cy="303.84" r="1.4" fill="#fff" stroke="#6a6a6a" stroke-width="0.7"/>
<circle cx="330.96" cy="317.87" r="1.4" fill="#fff" stroke="#6a6a6a" stroke-width="0.7"/>
<circle cx="330.96" cy="331.22" r="1.4" fill="#fff" stroke="#6a6a6a" stroke-width="0.7"/>
<path d="M330.96 297.19L333.76 299.99L330.96 302.79L328.16 299.99Z" fill="#a2a2a2" stroke="#4f4f4f" stroke-width="0.8"/>
<path d="M330.96 337.47L333.76 340.27L330.96 343.07L328.16 340.27Z" fill="#a2a2a2" stroke="#4f4f4f" stroke-width="0.8"/>
<circle cx="337.41" cy="303.84" r="1.4" fill="#fff" stroke="#6a6a6a" stroke-width="0.7"/>
<circle cx="337.41" cy="317.87" r="1.4" fill="#fff" stroke="#6a6a6a" stroke-width="0.7"/>
<circle cx="337.41" cy="331.22" r="1.4" fill="#fff" stroke="#6a6a6a" stroke-width="0.7"/>
<path d="M337.41 296.06L340.21 298.86L337.41 301.66L334.61 298.86Z" fill="#a2a2a2" stroke="#4f4f4f" stroke-width="0.8"/>
<path d="M337.41 336.79L340.21 339.59L337.41 342.39L334.61 339.59Z" fill="#a2a2a2" stroke="#4f4f4f" stroke-width="0.8"/>
<circle cx="343.86" cy="303.84" r="1.4" fill="#fff" stroke="#6a6a6a" stroke-width="0.7"/>
<circle cx="343.86" cy="308.36" r="1.4" fill="#fff" stroke="#6a6a6a" stroke-width="0.7"/>
<circle cx="343.86" cy="312.89" r="1.4" fill="#fff" stroke="#6a6a6a" stroke-width="0.7"/>
<circle cx="343.86" cy="317.87" r="1.4" fill="#fff" stroke="#6a6a6a" stroke-width="0.7"/>
<circle cx="343.86" cy="322.39" r="1.4" fill="#fff" stroke="#6a6a6a" stroke-width="0.7"/>
<circle cx="343.86" cy="326.92" r="1.4" fill="#fff" stroke="#6a6a6a" stroke-width="0.7"/>
<circle cx="343.86" cy="331.22" r="1.4" fill="#fff" stroke="#6a6a6a" stroke-width="0.7"/>
<path d="M343.86 290.85L346.66 293.65L343.86 296.45L341.06 293.65Z" fill="#a2a2a2" stroke="#4f4f4f" stroke-width="0.8"/>
<path d="M343.86 330.00L346.66 332.80L343.86 335.60L341.06 332.80Z" fill="#a2a2a2" stroke="#4f4f4f" stroke-width="0.8"/>
<circle cx="350.31" cy="298.86" r="1.4" fill="#fff" stroke="#6a6a6a" stroke-width="0.7"/>
<circle cx="350.31" cy="312.89" r="1.4" fill="#fff" stroke="#6a6a6a" stroke-width="0.7"/>
<circle cx="350.31" cy="331.22" r="1.4" fill="#fff" stroke="#6a6a6a" stroke-width="0.7"/>
<path d="M350.31 290.85L353.11 293.65L350.31 296.45L347.51 293.65Z" fill="#a2a2a2" stroke="#4f4f4f" stroke-width="0.8"/>
<path d="M350.31 348.56L353.11 351.36L350.31 354.16L347.51 351.36Z" fill="#a2a2a2" stroke="#4f4f4f" stroke-width="0.8"/>
<circle cx="356.76" cy="303.84" r="1.4" fill="#fff" stroke="#6a6a6a" stroke-width="0.7"/>
<circle cx="356.76" cy="317.87" r="1.4" fill="#fff" stroke="#6a6a6a" stroke-width="0.7"/>
<circle cx="356.76" cy="331.22" r="1.4" fill="#fff" stroke="#6a6a6a" stroke-width="0.7"/>
<path d="M356.76 294.02L359.56 296.82L356.76 299.62L353.96 296.82Z" fill="#a2a2a2" stroke="#4f4f4f" stroke-width="0.8"/>
<path d="M356.76 331.59L359.56 334.39L356.76 337.19L353.96 334.39Z" fill="#a2a2a2" stroke="#4f4f4f" stroke-width="0.8"/>
<circle cx="363.21" cy="303.84" r="1.4" fill="#fff" stroke="#6a6a6a" stroke-width="0.7"/>
<circle cx="363.21" cy="308.36" r="1.4" fill="#fff" stroke="#6a6a6a" stroke-width="0.7"/>
<circle cx="363.21" cy="312.89" r="1.4" fill="#fff" stroke="#6a6a6a" stroke-width="0.7"/>
<circle cx="363.21" cy="317.87" r="1.4" fill="#fff" stroke="#6a6a6a" stroke-width="0.7"/>
<circle cx="363.21" cy="322.39" r="1.4" fill="#fff" stroke="#6a6a6a" stroke-width="0.7"/>
<circle cx="363.21" cy="326.92" r="1.4" fill="#fff" stroke="#6a6a6a" stroke-width="0.7"/>
<circle cx="363.21" cy="331.22" r="1.4" fill="#fff" stroke="#6a6a6a" stroke-width="0.7"/>
<path d="M363.21 294.93L366.01 297.73L363.21 300.53L360.41 297.73Z" fill="#a2a2a2" stroke="#4f4f4f" stroke-width="0.8"/>
<path d="M363.21 346.30L366.01 349.10L363.21 351.90L360.41 349.10Z" fill="#a2a2a2" stroke="#4f4f4f" stroke-width="0.8"/>
<circle cx="369.66" cy="302.03" r="1.4" fill="#fff" stroke="#6a6a6a" stroke-width="0.7"/>
<circle cx="369.66" cy="316.28" r="1.4" fill="#fff" stroke="#6a6a6a" stroke-width="0.7"/>
<circle cx="369.66" cy="331.22" r="1.4" fill="#fff" stroke="#6a6a6a" stroke-width="0.7"/>
<path d="M369.66 295.61L372.46 298.41L369.66 301.21L366.86 298.41Z" fill="#a2a2a2" stroke="#4f4f4f" stroke-width="0.8"/>
<path d="M369.66 346.30L372.46 349.10L369.66 351.90L366.86 349.10Z" fill="#a2a2a2" stroke="#4f4f4f" stroke-width="0.8"/>
<circle cx="376.11" cy="303.84" r="1.4" fill="#fff" stroke="#6a6a6a" stroke-width="0.7"/>
<circle cx="376.11" cy="317.87" r="1.4" fill="#fff" stroke="#6a6a6a" stroke-width="0.7"/>
<circle cx="376.11" cy="331.22" r="1.4" fill="#fff" stroke="#6a6a6a" stroke-width="0.7"/>
<path d="M376.11 296.06L378.91 298.86L376.11 301.66L373.31 298.86Z" fill="#a2a2a2" stroke="#4f4f4f" stroke-width="0.8"/>
<path d="M376.11 347.43L378.91 350.23L376.11 353.03L373.31 350.23Z" fill="#a2a2a2" stroke="#4f4f4f" stroke-width="0.8"/>
<circle cx="382.55" cy="303.84" r="1.4" fill="#fff" stroke="#6a6a6a" stroke-width="0.7"/>
<circle cx="382.55" cy="308.36" r="1.4" fill="#fff" stroke="#6a6a6a" stroke-width="0.7"/>
<circle cx="382.55" cy="312.89" r="1.4" fill="#fff" stroke="#6a6a6a" stroke-width="0.7"/>
<circle cx="382.55" cy="317.87" r="1.4" fill="#fff" stroke="#6a6a6a" stroke-width="0.7"/>
<circle cx="382.55" cy="322.39" r="1.4" fill="#fff" stroke="#6a6a6a" stroke-width="0.7"/>
<circle cx="382.55" cy="326.92" r="1.4" fill="#fff" stroke="#6a6a6a" stroke-width="0.7"/>
<circle cx="382.55" cy="331.22" r="1.4" fill="#fff" stroke="#6a6a6a" stroke-width="0.7"/>
<path d="M382.55 294.93L385.35 297.73L382.55 300.53L379.75 297.73Z" fill="#a2a2a2" stroke="#4f4f4f" stroke-width="0.8"/>
<path d="M382.55 330.00L385.35 332.80L382.55 335.60L379.75 332.80Z" fill="#a2a2a2" stroke="#4f4f4f" stroke-width="0.8"/>
<circle cx="389.00" cy="303.84" r="1.4" fill="#fff" stroke="#6a6a6a" stroke-width="0.7"/>
<circle cx="389.00" cy="308.36" r="1.4" fill="#fff" stroke="#6a6a6a" stroke-width="0.7"/>
<circle cx="389.00" cy="312.89" r="1.4" fill="#fff" stroke="#6a6a6a" stroke-width="0.7"/>
<circle cx="389.00" cy="317.87" r="1.4" fill="#fff" stroke="#6a6a6a" stroke-width="0.7"/>
<circle cx="389.00" cy="322.39" r="1.4" fill="#fff" stroke="#6a6a6a" stroke-width="0.7"/>
<circle cx="389.00" cy="326.92" r="1.4" fill="#fff" stroke="#6a6a6a" stroke-width="0.7"/>
<circle cx="389.00" cy="331.22" r="1.4" fill="#fff" stroke="#6a6a6a" stroke-width="0.7"/>
<path d="M389.00 293.34L391.80 296.14L389.00 298.94L386.20 296.14Z" fill="#a2a2a2" stroke="#4f4f4f" stroke-width="0.8"/>
<path d="M389.00 346.30L391.80 349.10L389.00 351.90L386.20 349.10Z" fill="#a2a2a2" stroke="#4f4f4f" stroke-width="0.8"/>
<circle cx="395.45" cy="304.97" r="1.4" fill="#fff" stroke="#6a6a6a" stroke-width="0.7"/>
<circle cx="395.45" cy="317.87" r="1.4" fill="#fff" stroke="#6a6a6a" stroke-width="0.7"/>
<circle cx="395.45" cy="331.22" r="1.4" fill="#fff" stroke="#6a6a6a" stroke-width="0.7"/>
<path d="M395.45 296.06L398.25 298.86L395.45 301.66L392.65 298.86Z" fill="#a2a2a2" stroke="#4f4f4f" stroke-width="0.8"/>
<path d="M395.45 344.03L398.25 346.83L395.45 349.63L392.65 346.83Z" fill="#a2a2a2" stroke="#4f4f4f" stroke-width="0.8"/>
<circle cx="401.90" cy="303.84" r="1.4" fill="#fff" stroke="#6a6a6a" stroke-width="0.7"/>
<circle cx="401.90" cy="317.87" r="1.4" fill="#fff" stroke="#6a6a6a" stroke-width="0.7"/>
<circle cx="401.90" cy="331.22" r="1.4" fill="#fff" stroke="#6a6a6a" stroke-width="0.7"/>
<path d="M401.90 291.99L404.70 294.79L401.90 297.59L399.10 294.79Z" fill="#a2a2a2" stroke="#4f4f4f" stroke-width="0.8"/>
<path d="M401.90 354.22L404.70 357.02L401.90 359.82L399.10 357.02Z" fill="#a2a2a2" stroke="#4f4f4f" stroke-width="0.8"/>
<circle cx="408.35" cy="289.58" r="1.4" fill="#fff" stroke="#6a6a6a" stroke-width="0.7"/>
<circle cx="408.35" cy="303.38" r="1.4" fill="#fff" stroke="#6a6a6a" stroke-width="0.7"/>
<circle cx="408.35" cy="316.28" r="1.4" fill="#fff" stroke="#6a6a6a" stroke-width="0.7"/>
<circle cx="408.35" cy="331.22" r="1.4" fill="#fff" stroke="#6a6a6a" stroke-width="0.7"/>
<path d="M408.35 280.67L411.15 283.47L408.35 286.27L405.55 283.47Z" fill="#a2a2a2" stroke="#4f4f4f" stroke-width="0.8"/>
<path d="M408.35 340.86L411.15 343.66L408.35 346.46L405.55 343.66Z" fill="#a2a2a2" stroke="#4f4f4f" stroke-width="0.8"/>
<circle cx="414.80" cy="303.84" r="1.4" fill="#fff" stroke="#6a6a6a" stroke-width="0.7"/>
<circle cx="414.80" cy="317.87" r="1.4" fill="#fff" stroke="#6a6a6a" stroke-width="0.7"/>
<circle cx="414.80" cy="331.22" r="1.4" fill="#fff" stroke="#6a6a6a" stroke-width="0.7"/>
<path d="M414.80 297.19L417.60 299.99L414.80 302.79L412.00 299.99Z" fill="#a2a2a2" stroke="#4f4f4f" stroke-width="0.8"/>
<path d="M414.80 329.32L417.60 332.12L414.80 334.92L412.00 332.12Z" fill="#a2a2a2" stroke="#4f4f4f" stroke-width="0.8"/>
<circle cx="421.25" cy="303.84" r="1.4" fill="#fff" stroke="#6a6a6a" stroke-width="0.7"/>
<circle cx="421.25" cy="317.87" r="1.4" fill="#fff" stroke="#6a6a6a" stroke-width="0.7"/>
<circle cx="421.25" cy="331.22" r="1.4" fill="#fff" stroke="#6a6a6a" stroke-width="0.7"/>
<path d="M421.25 290.85L424.05 293.65L421.25 296.45L418.45 293.65Z" fill="#a2a2a2" stroke="#4f4f4f" stroke-width="0.8"/>
<path d="M421.25 347.43L424.05 350.23L421.25 353.03L418.45 350.23Z" fill="#a2a2a2" stroke="#4f4f4f" stroke-width="0.8"/>
<circle cx="427.70" cy="303.84" r="1.4" fill="#fff" stroke="#6a6a6a" stroke-width="0.7"/>
<circle cx="427.70" cy="317.87" r="1.4" fill="#fff" stroke="#6a6a6a" stroke-width="0.7"/>
<circle cx="427.70" cy="331.22" r="1.4" fill="#fff" stroke="#6a6a6a" stroke-width="0.7"/>
<path d="M427.70 287.23L430.50 290.03L427.70 292.83L424.90 290.03Z" fill="#a2a2a2" stroke="#4f4f4f" stroke-width="0.8"/>
<path d="M427.70 351.05L430.50 353.85L427.70 356.65L424.90 353.85Z" fill="#a2a2a2" stroke="#4f4f4f" stroke-width="0.8"/>
<circle cx="434.15" cy="303.84" r="1.4" fill="#fff" stroke="#6a6a6a" stroke-width="0.7"/>
<circle cx="434.15" cy="317.87" r="1.4" fill="#fff" stroke="#6a6a6a" stroke-width="0.7"/>
<circle cx="434.15" cy="331.22" r="1.4" fill="#fff" stroke="#6a6a6a" stroke-width="0.7"/>
<path d="M434.15 293.34L436.95 296.14L434.15 298.94L431.35 296.14Z" fill="#a2a2a2" stroke="#4f4f4f" stroke-width="0.8"/>
<path d="M434.15 352.41L436.95 355.21L434.15 358.01L431.35 355.21Z" fill="#a2a2a2" stroke="#4f4f4f" stroke-width="0.8"/>
<circle cx="440.60" cy="303.84" r="1.4" fill="#fff" stroke="#6a6a6a" stroke-width="0.7"/>
<circle cx="440.60" cy="317.87" r="1.4" fill="#fff" stroke="#6a6a6a" stroke-width="0.7"/>
<circle cx="440.60" cy="331.22" r="1.4" fill="#fff" stroke="#6a6a6a" stroke-width="0.7"/>
<path d="M440.60 292.44L443.40 295.24L440.60 298.04L437.80 295.24Z" fill="#a2a2a2" stroke="#4f4f4f" stroke-width="0.8"/>
<path d="M440.60 349.24L443.40 352.04L440.60 354.84L437.80 352.04Z" fill="#a2a2a2" stroke="#4f4f4f" stroke-width="0.8"/>
<circle cx="447.04" cy="303.84" r="1.4" fill="#fff" stroke="#6a6a6a" stroke-width="0.7"/>
<circle cx="447.04" cy="317.87" r="1.4" fill="#fff" stroke="#6a6a6a" stroke-width="0.7"/>
<circle cx="447.04" cy="331.22" r="1.4" fill="#fff" stroke="#6a6a6a" stroke-width="0.7"/>
<path d="M447.04 291.99L449.84 294.79L447.04 297.59L444.24 294.79Z" fill="#a2a2a2" stroke="#4f4f4f" stroke-width="0.8"/>
<path d="M447.04 351.50L449.84 354.30L447.04 357.10L444.24 354.30Z" fill="#a2a2a2" stroke="#4f4f4f" stroke-width="0.8"/>
<circle cx="453.49" cy="303.84" r="1.4" fill="#fff" stroke="#6a6a6a" stroke-width="0.7"/>
<circle cx="453.49" cy="317.87" r="1.4" fill="#fff" stroke="#6a6a6a" stroke-width="0.7"/>
<circle cx="453.49" cy="331.22" r="1.4" fill="#fff" stroke="#6a6a6a" stroke-width="0.7"/>
<path d="M453.49 294.93L456.29 297.73L453.49 300.53L450.69 297.73Z" fill="#a2a2a2" stroke="#4f4f4f" stroke-width="0.8"/>
<path d="M453.49 359.42L456.29 362.22L453.49 365.02L450.69 362.22Z" fill="#a2a2a2" stroke="#4f4f4f" stroke-width="0.8"/>
<circle cx="459.94" cy="303.84" r="1.4" fill="#fff" stroke="#6a6a6a" stroke-width="0.7"/>
<circle cx="459.94" cy="317.87" r="1.4" fill="#fff" stroke="#6a6a6a" stroke-width="0.7"/>
<circle cx="459.94" cy="331.22" r="1.4" fill="#fff" stroke="#6a6a6a" stroke-width="0.7"/>
<path d="M459.94 295.61L462.74 298.41L459.94 301.21L457.14 298.41Z" fill="#a2a2a2" stroke="#4f4f4f" stroke-width="0.8"/>
<path d="M459.94 337.47L462.74 340.27L459.94 343.07L457.14 340.27Z" fill="#a2a2a2" stroke="#4f4f4f" stroke-width="0.8"/>
<circle cx="466.39" cy="300.44" r="1.4" fill="#fff" stroke="#6a6a6a" stroke-width="0.7"/>
<circle cx="466.39" cy="314.02" r="1.4" fill="#fff" stroke="#6a6a6a" stroke-width="0.7"/>
<circle cx="466.39" cy="331.22" r="1.4" fill="#fff" stroke="#6a6a6a" stroke-width="0.7"/>
<path d="M466.39 291.99L469.19 294.79L466.39 297.59L463.59 294.79Z" fill="#a2a2a2" stroke="#4f4f4f" stroke-width="0.8"/>
<path d="M466.39 362.59L469.19 365.39L466.39 368.19L463.59 365.39Z" fill="#a2a2a2" stroke="#4f4f4f" stroke-width="0.8"/>
<circle cx="472.84" cy="299.31" r="1.4" fill="#fff" stroke="#6a6a6a" stroke-width="0.7"/>
<circle cx="472.84" cy="303.84" r="1.4" fill="#fff" stroke="#6a6a6a" stroke-width="0.7"/>
<circle cx="472.84" cy="308.36" r="1.4" fill="#fff" stroke="#6a6a6a" stroke-width="0.7"/>
<circle cx="472.84" cy="312.89" r="1.4" fill="#fff" stroke="#6a6a6a" stroke-width="0.7"/>
<circle cx="472.84" cy="317.87" r="1.4" fill="#fff" stroke="#6a6a6a" stroke-width="0.7"/>
<circle cx="472.84" cy="322.39" r="1.4" fill="#fff" stroke="#6a6a6a" stroke-width="0.7"/>
<circle cx="472.84" cy="326.92" r="1.4" fill="#fff" stroke="#6a6a6a" stroke-width="0.7"/>
<circle cx="472.84" cy="331.22" r="1.4" fill="#fff" stroke="#6a6a6a" stroke-width="0.7"/>
<path d="M472.84 289.72L475.64 292.52L472.84 295.32L470.04 292.52Z" fill="#a2a2a2" stroke="#4f4f4f" stroke-width="0.8"/>
<path d="M472.84 339.96L475.64 342.76L472.84 345.56L470.04 342.76Z" fill="#a2a2a2" stroke="#4f4f4f" stroke-width="0.8"/>
<circle cx="479.29" cy="303.84" r="1.4" fill="#fff" stroke="#6a6a6a" stroke-width="0.7"/>
<circle cx="479.29" cy="317.87" r="1.4" fill="#fff" stroke="#6a6a6a" stroke-width="0.7"/>
<circle cx="479.29" cy="331.22" r="1.4" fill="#fff" stroke="#6a6a6a" stroke-width="0.7"/>
<path d="M479.29 292.44L482.09 295.24L479.29 298.04L476.49 295.24Z" fill="#a2a2a2" stroke="#4f4f4f" stroke-width="0.8"/>
<path d="M479.29 342.00L482.09 344.80L479.29 347.60L476.49 344.80Z" fill="#a2a2a2" stroke="#4f4f4f" stroke-width="0.8"/>
<circle cx="485.74" cy="299.31" r="1.4" fill="#fff" stroke="#6a6a6a" stroke-width="0.7"/>
<circle cx="485.74" cy="303.84" r="1.4" fill="#fff" stroke="#6a6a6a" stroke-width="0.7"/>
<circle cx="485.74" cy="308.36" r="1.4" fill="#fff" stroke="#6a6a6a" stroke-width="0.7"/>
<circle cx="485.74" cy="312.89" r="1.4" fill="#fff" stroke="#6a6a6a" stroke-width="0.7"/>
<circle cx="485.74" cy="317.87" r="1.4" fill="#fff" stroke="#6a6a6a" stroke-width="0.7"/>
<circle cx="485.74" cy="322.39" r="1.4" fill="#fff" stroke="#6a6a6a" stroke-width="0.7"/>
<circle cx="485.74" cy="326.92" r="1.4" fill="#fff" stroke="#6a6a6a" stroke-width="0.7"/>
<circle cx="485.74" cy="331.22" r="1.4" fill="#fff" stroke="#6a6a6a" stroke-width="0.7"/>
<path d="M485.74 293.34L488.54 296.14L485.74 298.94L482.94 296.14Z" fill="#a2a2a2" stroke="#4f4f4f" stroke-width="0.8"/>
<path d="M485.74 347.43L488.54 350.23L485.74 353.03L482.94 350.23Z" fill="#a2a2a2" stroke="#4f4f4f" stroke-width="0.8"/>
<circle cx="492.19" cy="303.84" r="1.4" fill="#fff" stroke="#6a6a6a" stroke-width="0.7"/>
<circle cx="492.19" cy="317.87" r="1.4" fill="#fff" stroke="#6a6a6a" stroke-width="0.7"/>
<circle cx="492.19" cy="331.22" r="1.4" fill="#fff" stroke="#6a6a6a" stroke-width="0.7"/>
<path d="M492.19 293.34L494.99 296.14L492.19 298.94L489.39 296.14Z" fill="#a2a2a2" stroke="#4f4f4f" stroke-width="0.8"/>
<path d="M492.19 346.75L494.99 349.55L492.19 352.35L489.39 349.55Z" fill="#a2a2a2" stroke="#4f4f4f" stroke-width="0.8"/>
<circle cx="498.64" cy="303.84" r="1.4" fill="#fff" stroke="#6a6a6a" stroke-width="0.7"/>
<circle cx="498.64" cy="317.87" r="1.4" fill="#fff" stroke="#6a6a6a" stroke-width="0.7"/>
<circle cx="498.64" cy="331.22" r="1.4" fill="#fff" stroke="#6a6a6a" stroke-width="0.7"/>
<path d="M498.64 290.85L501.44 293.65L498.64 296.45L495.84 293.65Z" fill="#a2a2a2" stroke="#4f4f4f" stroke-width="0.8"/>
<path d="M498.64 346.30L501.44 349.10L498.64 351.90L495.84 349.10Z" fill="#a2a2a2" stroke="#4f4f4f" stroke-width="0.8"/>
<circle cx="505.09" cy="303.38" r="1.4" fill="#fff" stroke="#6a6a6a" stroke-width="0.7"/>
<circle cx="505.09" cy="316.96" r="1.4" fill="#fff" stroke="#6a6a6a" stroke-width="0.7"/>
<circle cx="505.09" cy="331.22" r="1.4" fill="#fff" stroke="#6a6a6a" stroke-width="0.7"/>
<path d="M505.09 291.99L507.89 294.79L505.09 297.59L502.29 294.79Z" fill="#a2a2a2" stroke="#4f4f4f" stroke-width="0.8"/>
<path d="M505.09 352.41L507.89 355.21L505.09 358.01L502.29 355.21Z" fill="#a2a2a2" stroke="#4f4f4f" stroke-width="0.8"/>
<circle cx="511.53" cy="299.31" r="1.4" fill="#fff" stroke="#6a6a6a" stroke-width="0.7"/>
<circle cx="511.53" cy="317.87" r="1.4" fill="#fff" stroke="#6a6a6a" stroke-width="0.7"/>
<circle cx="511.53" cy="331.22" r="1.4" fill="#fff" stroke="#6a6a6a" stroke-width="0.7"/>
<path d="M511.53 289.72L514.33 292.52L511.53 295.32L508.73 292.52Z" fill="#a2a2a2" stroke="#4f4f4f" stroke-width="0.8"/>
<path d="M511.53 358.97L514.33 361.77L511.53 364.57L508.73 361.77Z" fill="#a2a2a2" stroke="#4f4f4f" stroke-width="0.8"/>
<circle cx="517.98" cy="303.84" r="1.4" fill="#fff" stroke="#6a6a6a" stroke-width="0.7"/>
<circle cx="517.98" cy="317.87" r="1.4" fill="#fff" stroke="#6a6a6a" stroke-width="0.7"/>
<circle cx="517.98" cy="331.22" r="1.4" fill="#fff" stroke="#6a6a6a" stroke-width="0.7"/>
<path d="M517.98 297.64L520.78 300.44L517.98 303.24L515.18 300.44Z" fill="#a2a2a2" stroke="#4f4f4f" stroke-width="0.8"/>
<path d="M517.98 346.75L520.78 349.55L517.98 352.35L515.18 349.55Z" fill="#a2a2a2" stroke="#4f4f4f" stroke-width="0.8"/>
<circle cx="524.43" cy="289.58" r="1.4" fill="#fff" stroke="#6a6a6a" stroke-width="0.7"/>
<circle cx="524.43" cy="303.84" r="1.4" fill="#fff" stroke="#6a6a6a" stroke-width="0.7"/>
<circle cx="524.43" cy="317.87" r="1.4" fill="#fff" stroke="#6a6a6a" stroke-width="0.7"/>
<circle cx="524.43" cy="331.22" r="1.4" fill="#fff" stroke="#6a6a6a" stroke-width="0.7"/>
<path d="M524.43 277.28L527.23 280.08L524.43 282.88L521.63 280.08Z" fill="#a2a2a2" stroke="#4f4f4f" stroke-width="0.8"/>
<path d="M524.43 330.46L527.23 333.26L524.43 336.06L521.63 333.26Z" fill="#a2a2a2" stroke="#4f4f4f" stroke-width="0.8"/>
<circle cx="530.88" cy="303.84" r="1.4" fill="#fff" stroke="#6a6a6a" stroke-width="0.7"/>
<circle cx="530.88" cy="308.36" r="1.4" fill="#fff" stroke="#6a6a6a" stroke-width="0.7"/>
<circle cx="530.88" cy="312.89" r="1.4" fill="#fff" stroke="#6a6a6a" stroke-width="0.7"/>
<circle cx="530.88" cy="317.87" r="1.4" fill="#fff" stroke="#6a6a6a" stroke-width="0.7"/>
<circle cx="530.88" cy="322.39" r="1.4" fill="#fff" stroke="#6a6a6a" stroke-width="0.7"/>
<circle cx="530.88" cy="326.92" r="1.4" fill="#fff" stroke="#6a6a6a" stroke-width="0.7"/>
<circle cx="530.88" cy="331.22" r="1.4" fill="#fff" stroke="#6a6a6a" stroke-width="0.7"/>
<path d="M530.88 293.34L533.68 296.14L530.88 298.94L528.08 296.14Z" fill="#a2a2a2" stroke="#4f4f4f" stroke-width="0.8"/>
<path d="M530.88 338.38L533.68 341.18L530.88 343.98L528.08 341.18Z" fill="#a2a2a2" stroke="#4f4f4f" stroke-width="0.8"/>
<circle cx="537.33" cy="303.84" r="1.4" fill="#fff" stroke="#6a6a6a" stroke-width="0.7"/>
<circle cx="537.33" cy="317.87" r="1.4" fill="#fff" stroke="#6a6a6a" stroke-width="0.7"/>
<circle cx="537.33" cy="331.22" r="1.4" fill="#fff" stroke="#6a6a6a" stroke-width="0.7"/>
<path d="M537.33 290.40L540.13 293.20L537.33 296.00L534.53 293.20Z" fill="#a2a2a2" stroke="#4f4f4f" stroke-width="0.8"/>
<path d="M537.33 347.43L540.13 350.23L537.33 353.03L534.53 350.23Z" fill="#a2a2a2" stroke="#4f4f4f" stroke-width="0.8"/>
<circle cx="543.78" cy="303.84" r="1.4" fill="#fff" stroke="#6a6a6a" stroke-width="0.7"/>
<circle cx="543.78" cy="308.36" r="1.4" fill="#fff" stroke="#6a6a6a" stroke-width="0.7"/>
<circle cx="543.78" cy="312.89" r="1.4" fill="#fff" stroke="#6a6a6a" stroke-width="0.7"/>
<circle cx="543.78" cy="317.87" r="1.4" fill="#fff" stroke="#6a6a6a" stroke-width="0.7"/>
<circle cx="543.78" cy="322.39" r="1.4" fill="#fff" stroke="#6a6a6a" stroke-width="0.7"/>
<circle cx="543.78" cy="326.92" r="1.4" fill="#fff" stroke="#6a6a6a" stroke-width="0.7"/>
<circle cx="543.78" cy="331.22" r="1.4" fill="#fff" stroke="#6a6a6a" stroke-width="0.7"/>
<path d="M543.78 296.51L546.58 299.31L543.78 302.11L540.98 299.31Z" fill="#a2a2a2" stroke="#4f4f4f" stroke-width="0.8"/>
<path d="M543.78 337.47L546.58 340.27L543.78 343.07L540.98 340.27Z" fill="#a2a2a2" stroke="#4f4f4f" stroke-width="0.8"/>
<circle cx="550.23" cy="303.84" r="1.4" fill="#fff" stroke="#6a6a6a" stroke-width="0.7"/>
<circle cx="550.23" cy="317.87" r="1.4" fill="#fff" stroke="#6a6a6a" stroke-width="0.7"/>
<circle cx="550.23" cy="331.22" r="1.4" fill="#fff" stroke="#6a6a6a" stroke-width="0.7"/>
<path d="M550.23 291.99L553.03 294.79L550.23 297.59L547.43 294.79Z" fill="#a2a2a2" stroke="#4f4f4f" stroke-width="0.8"/>
<path d="M550.23 346.75L553.03 349.55L550.23 352.35L547.43 349.55Z" fill="#a2a2a2" stroke="#4f4f4f" stroke-width="0.8"/>
<circle cx="556.68" cy="317.87" r="1.4" fill="#fff" stroke="#6a6a6a" stroke-width="0.7"/>
<circle cx="556.68" cy="331.22" r="1.4" fill="#fff" stroke="#6a6a6a" stroke-width="0.7"/>
<path d="M556.68 311.90L559.48 314.70L556.68 317.50L553.88 314.70Z" fill="#a2a2a2" stroke="#4f4f4f" stroke-width="0.8"/>
<path d="M556.68 346.75L559.48 349.55L556.68 352.35L553.88 349.55Z" fill="#a2a2a2" stroke="#4f4f4f" stroke-width="0.8"/>
<circle cx="563.13" cy="294.11" r="1.4" fill="#fff" stroke="#6a6a6a" stroke-width="0.7"/>
<circle cx="563.13" cy="312.89" r="1.4" fill="#fff" stroke="#6a6a6a" stroke-width="0.7"/>
<circle cx="563.13" cy="331.22" r="1.4" fill="#fff" stroke="#6a6a6a" stroke-width="0.7"/>
<path d="M563.13 283.61L565.93 286.41L563.13 289.21L560.33 286.41Z" fill="#a2a2a2" stroke="#4f4f4f" stroke-width="0.8"/>
<path d="M563.13 363.72L565.93 366.52L563.13 369.32L560.33 366.52Z" fill="#a2a2a2" stroke="#4f4f4f" stroke-width="0.8"/>
<circle cx="569.58" cy="301.57" r="1.4" fill="#fff" stroke="#6a6a6a" stroke-width="0.7"/>
<circle cx="569.58" cy="315.60" r="1.4" fill="#fff" stroke="#6a6a6a" stroke-width="0.7"/>
<circle cx="569.58" cy="331.22" r="1.4" fill="#fff" stroke="#6a6a6a" stroke-width="0.7"/>
<path d="M569.58 292.44L572.38 295.24L569.58 298.04L566.78 295.24Z" fill="#a2a2a2" stroke="#4f4f4f" stroke-width="0.8"/>
<path d="M569.58 333.40L572.38 336.20L569.58 339.00L566.78 336.20Z" fill="#a2a2a2" stroke="#4f4f4f" stroke-width="0.8"/>
<circle cx="576.02" cy="299.31" r="1.4" fill="#fff" stroke="#6a6a6a" stroke-width="0.7"/>
<circle cx="576.02" cy="312.89" r="1.4" fill="#fff" stroke="#6a6a6a" stroke-width="0.7"/>
<circle cx="576.02" cy="331.22" r="1.4" fill="#fff" stroke="#6a6a6a" stroke-width="0.7"/>
<path d="M576.02 292.44L578.82 295.24L576.02 298.04L573.22 295.24Z" fill="#a2a2a2" stroke="#4f4f4f" stroke-width="0.8"/>
<path d="M576.02 353.31L578.82 356.11L576.02 358.91L573.22 356.11Z" fill="#a2a2a2" stroke="#4f4f4f" stroke-width="0.8"/>
<circle cx="582.47" cy="303.84" r="1.4" fill="#fff" stroke="#6a6a6a" stroke-width="0.7"/>
<circle cx="582.47" cy="317.87" r="1.4" fill="#fff" stroke="#6a6a6a" stroke-width="0.7"/>
<circle cx="582.47" cy="331.22" r="1.4" fill="#fff" stroke="#6a6a6a" stroke-width="0.7"/>
<path d="M582.47 295.61L585.27 298.41L582.47 301.21L579.67 298.41Z" fill="#a2a2a2" stroke="#4f4f4f" stroke-width="0.8"/>
<path d="M582.47 352.41L585.27 355.21L582.47 358.01L579.67 355.21Z" fill="#a2a2a2" stroke="#4f4f4f" stroke-width="0.8"/>
<circle cx="588.92" cy="303.84" r="1.4" fill="#fff" stroke="#6a6a6a" stroke-width="0.7"/>
<circle cx="588.92" cy="317.87" r="1.4" fill="#fff" stroke="#6a6a6a" stroke-width="0.7"/>
<circle cx="588.92" cy="331.22" r="1.4" fill="#fff" stroke="#6a6a6a" stroke-width="0.7"/>
<path d="M588.92 291.99L591.72 294.79L588.92 297.59L586.12 294.79Z" fill="#a2a2a2" stroke="#4f4f4f" stroke-width="0.8"/>
<path d="M588.92 351.50L591.72 354.30L588.92 357.10L586.12 354.30Z" fill="#a2a2a2" stroke="#4f4f4f" stroke-width="0.8"/>
<circle cx="595.37" cy="303.84" r="1.4" fill="#fff" stroke="#6a6a6a" stroke-width="0.7"/>
<circle cx="595.37" cy="317.87" r="1.4" fill="#fff" stroke="#6a6a6a" stroke-width="0.7"/>
<circle cx="595.37" cy="331.22" r="1.4" fill="#fff" stroke="#6a6a6a" stroke-width="0.7"/>
<path d="M595.37 295.61L598.17 298.41L595.37 301.21L592.57 298.41Z" fill="#a2a2a2" stroke="#4f4f4f" stroke-width="0.8"/>
<path d="M595.37 346.30L598.17 349.10L595.37 351.90L592.57 349.10Z" fill="#a2a2a2" stroke="#4f4f4f" stroke-width="0.8"/>
<circle cx="601.82" cy="303.84" r="1.4" fill="#fff" stroke="#6a6a6a" stroke-width="0.7"/>
<circle cx="601.82" cy="317.87" r="1.4" fill="#fff" stroke="#6a6a6a" stroke-width="0.7"/>
<circle cx="601.82" cy="331.22" r="1.4" fill="#fff" stroke="#6a6a6a" stroke-width="0.7"/>
<path d="M601.82 293.34L604.62 296.14L601.82 298.94L599.02 296.14Z" fill="#a2a2a2" stroke="#4f4f4f" stroke-width="0.8"/>
<path d="M601.82 344.03L604.62 346.83L601.82 349.63L599.02 346.83Z" fill="#a2a2a2" stroke="#4f4f4f" stroke-width="0.8"/>
<circle cx="608.27" cy="303.84" r="1.4" fill="#fff" stroke="#6a6a6a" stroke-width="0.7"/>
<circle cx="608.27" cy="317.87" r="1.4" fill="#fff" stroke="#6a6a6a" stroke-width="0.7"/>
<circle cx="608.27" cy="331.22" r="1.4" fill="#fff" stroke="#6a6a6a" stroke-width="0.7"/>
<path d="M608.27 291.99L611.07 294.79L608.27 297.59L605.47 294.79Z" fill="#a2a2a2" stroke="#4f4f4f" stroke-width="0.8"/>
<path d="M608.27 354.67L611.07 357.47L608.27 360.27L605.47 357.47Z" fill="#a2a2a2" stroke="#4f4f4f" stroke-width="0.8"/>
<circle cx="614.72" cy="293.65" r="1.4" fill="#fff" stroke="#6a6a6a" stroke-width="0.7"/>
<circle cx="614.72" cy="308.36" r="1.4" fill="#fff" stroke="#6a6a6a" stroke-width="0.7"/>
<circle cx="614.72" cy="331.22" r="1.4" fill="#fff" stroke="#6a6a6a" stroke-width="0.7"/>
<path d="M614.72 287.23L617.52 290.03L614.72 292.83L611.92 290.03Z" fill="#a2a2a2" stroke="#4f4f4f" stroke-width="0.8"/>
<path d="M614.72 353.31L617.52 356.11L614.72 358.91L611.92 356.11Z" fill="#a2a2a2" stroke="#4f4f4f" stroke-width="0.8"/>
<circle cx="621.17" cy="299.99" r="1.4" fill="#fff" stroke="#6a6a6a" stroke-width="0.7"/>
<circle cx="621.17" cy="313.57" r="1.4" fill="#fff" stroke="#6a6a6a" stroke-width="0.7"/>
<circle cx="621.17" cy="331.22" r="1.4" fill="#fff" stroke="#6a6a6a" stroke-width="0.7"/>
<path d="M621.17 289.72L623.97 292.52L621.17 295.32L618.37 292.52Z" fill="#a2a2a2" stroke="#4f4f4f" stroke-width="0.8"/>
<path d="M621.17 350.14L623.97 352.94L621.17 355.74L618.37 352.94Z" fill="#a2a2a2" stroke="#4f4f4f" stroke-width="0.8"/>
<circle cx="627.62" cy="302.71" r="1.4" fill="#fff" stroke="#6a6a6a" stroke-width="0.7"/>
<circle cx="627.62" cy="316.96" r="1.4" fill="#fff" stroke="#6a6a6a" stroke-width="0.7"/>
<circle cx="627.62" cy="331.22" r="1.4" fill="#fff" stroke="#6a6a6a" stroke-width="0.7"/>
<path d="M627.62 292.44L630.42 295.24L627.62 298.04L624.82 295.24Z" fill="#a2a2a2" stroke="#4f4f4f" stroke-width="0.8"/>
<path d="M627.62 342.00L630.42 344.80L627.62 347.60L624.82 344.80Z" fill="#a2a2a2" stroke="#4f4f4f" stroke-width="0.8"/>
<circle cx="634.06" cy="297.73" r="1.4" fill="#fff" stroke="#6a6a6a" stroke-width="0.7"/>
<circle cx="634.06" cy="312.89" r="1.4" fill="#fff" stroke="#6a6a6a" stroke-width="0.7"/>
<circle cx="634.06" cy="331.22" r="1.4" fill="#fff" stroke="#6a6a6a" stroke-width="0.7"/>
<path d="M634.06 285.20L636.86 288.00L634.06 290.80L631.26 288.00Z" fill="#a2a2a2" stroke="#4f4f4f" stroke-width="0.8"/>
<path d="M634.06 334.53L636.86 337.33L634.06 340.13L631.26 337.33Z" fill="#a2a2a2" stroke="#4f4f4f" stroke-width="0.8"/>
<circle cx="640.51" cy="303.84" r="1.4" fill="#fff" stroke="#6a6a6a" stroke-width="0.7"/>
<circle cx="640.51" cy="317.87" r="1.4" fill="#fff" stroke="#6a6a6a" stroke-width="0.7"/>
<circle cx="640.51" cy="331.22" r="1.4" fill="#fff" stroke="#6a6a6a" stroke-width="0.7"/>
<path d="M640.51 294.93L643.31 297.73L640.51 300.53L637.71 297.73Z" fill="#a2a2a2" stroke="#4f4f4f" stroke-width="0.8"/>
<path d="M640.51 332.04L643.31 334.84L640.51 337.64L637.71 334.84Z" fill="#a2a2a2" stroke="#4f4f4f" stroke-width="0.8"/>
<circle cx="646.96" cy="303.84" r="1.4" fill="#fff" stroke="#6a6a6a" stroke-width="0.7"/>
<circle cx="646.96" cy="317.87" r="1.4" fill="#fff" stroke="#6a6a6a" stroke-width="0.7"/>
<circle cx="646.96" cy="331.22" r="1.4" fill="#fff" stroke="#6a6a6a" stroke-width="0.7"/>
<path d="M646.96 294.02L649.76 296.82L646.96 299.62L644.16 296.82Z" fill="#a2a2a2" stroke="#4f4f4f" stroke-width="0.8"/>
<path d="M646.96 346.75L649.76 349.55L646.96 352.35L644.16 349.55Z" fill="#a2a2a2" stroke="#4f4f4f" stroke-width="0.8"/>
<circle cx="653.41" cy="302.71" r="1.4" fill="#fff" stroke="#6a6a6a" stroke-width="0.7"/>
<circle cx="653.41" cy="316.96" r="1.4" fill="#fff" stroke="#6a6a6a" stroke-width="0.7"/>
<circle cx="653.41" cy="331.22" r="1.4" fill="#fff" stroke="#6a6a6a" stroke-width="0.7"/>
<path d="M653.41 292.44L656.21 295.24L653.41 298.04L650.61 295.24Z" fill="#a2a2a2" stroke="#4f4f4f" stroke-width="0.8"/>
<path d="M653.41 374.13L656.21 376.93L653.41 379.73L650.61 376.93Z" fill="#a2a2a2" stroke="#4f4f4f" stroke-width="0.8"/>
<circle cx="659.86" cy="316.96" r="1.4" fill="#fff" stroke="#6a6a6a" stroke-width="0.7"/>
<circle cx="659.86" cy="331.22" r="1.4" fill="#fff" stroke="#6a6a6a" stroke-width="0.7"/>
<path d="M659.86 290.85L662.66 293.65L659.86 296.45L657.06 293.65Z" fill="#a2a2a2" stroke="#4f4f4f" stroke-width="0.8"/>
<path d="M659.86 339.96L662.66 342.76L659.86 345.56L657.06 342.76Z" fill="#a2a2a2" stroke="#4f4f4f" stroke-width="0.8"/>
<circle cx="666.31" cy="292.07" r="1.4" fill="#fff" stroke="#6a6a6a" stroke-width="0.7"/>
<circle cx="666.31" cy="306.10" r="1.4" fill="#fff" stroke="#6a6a6a" stroke-width="0.7"/>
<circle cx="666.31" cy="323.07" r="1.4" fill="#fff" stroke="#6a6a6a" stroke-width="0.7"/>
<circle cx="666.31" cy="326.92" r="1.4" fill="#fff" stroke="#6a6a6a" stroke-width="0.7"/>
<circle cx="666.31" cy="331.22" r="1.4" fill="#fff" stroke="#6a6a6a" stroke-width="0.7"/>
<path d="M666.31 279.77L669.11 282.57L666.31 285.37L663.51 282.57Z" fill="#a2a2a2" stroke="#4f4f4f" stroke-width="0.8"/>
<path d="M666.31 375.71L669.11 378.51L666.31 381.31L663.51 378.51Z" fill="#a2a2a2" stroke="#4f4f4f" stroke-width="0.8"/>
<circle cx="672.76" cy="303.84" r="1.4" fill="#fff" stroke="#6a6a6a" stroke-width="0.7"/>
<circle cx="672.76" cy="317.87" r="1.4" fill="#fff" stroke="#6a6a6a" stroke-width="0.7"/>
<circle cx="672.76" cy="331.22" r="1.4" fill="#fff" stroke="#6a6a6a" stroke-width="0.7"/>
<path d="M672.76 295.61L675.56 298.41L672.76 301.21L669.96 298.41Z" fill="#a2a2a2" stroke="#4f4f4f" stroke-width="0.8"/>
<path d="M672.76 353.31L675.56 356.11L672.76 358.91L669.96 356.11Z" fill="#a2a2a2" stroke="#4f4f4f" stroke-width="0.8"/>
<rect x="83.75" y="385.90" width="4.30" height="4.30" fill="#3a78b5"/>
<rect x="90.20" y="385.90" width="4.30" height="4.30" fill="#abdbe6"/>
<rect x="96.65" y="385.90" width="4.30" height="4.30" fill="#abdbe6"/>
<rect x="103.10" y="385.90" width="4.30" height="4.30" fill="#3a78b5"/>
<rect x="109.55" y="385.90" width="4.30" height="4.30" fill="#3a78b5"/>
<rect x="116.00" y="385.90" width="4.30" height="4.30" fill="#3a78b5"/>
<rect x="122.44" y="385.90" width="4.30" height="4.30" fill="#abdbe6"/>
<rect x="128.89" y="385.90" width="4.30" height="4.30" fill="#abdbe6"/>
<rect x="135.34" y="385.90" width="4.30" height="4.30" fill="#3a78b5"/>
<rect x="141.79" y="385.90" width="4.30" height="4.30" fill="#abdbe6"/>
<rect x="148.24" y="385.90" width="4.30" height="4.30" fill="#abdbe6"/>
<rect x="154.69" y="385.90" width="4.30" height="4.30" fill="#3a78b5"/>
<rect x="161.14" y="385.90" width="4.30" height="4.30" fill="#abdbe6"/>
<rect x="167.59" y="385.90" width="4.30" height="4.30" fill="#3a78b5"/>
<rect x="174.04" y="385.90" width="4.30" height="4.30" fill="#abdbe6"/>
<rect x="180.48" y="385.90" width="4.30" height="4.30" fill="#abdbe6"/>
<rect x="186.93" y="385.90" width="4.30" height="4.30" fill="#3a78b5"/>
<rect x="193.38" y="385.90" width="4.30" height="4.30" fill="#3a78b5"/>
<rect x="199.83" y="385.90" width="4.30" height="4.30" fill="#abdbe6"/>
<rect x="206.28" y="385.90" width="4.30" height="4.30" fill="#abdbe6"/>
<rect x="212.73" y="385.90" width="4.30" height="4.30" fill="#3a78b5"/>
<rect x="219.18" y="385.90" width="4.30" height="4.30" fill="#3a78b5"/>
<rect x="225.63" y="385.90" width="4.30" height="4.30" fill="#3a78b5"/>
<rect x="232.08" y="385.90" width="4.30" height="4.30" fill="#abdbe6"/>
<rect x="238.53" y="385.90" width="4.30" height="4.30" fill="#abdbe6"/>
<rect x="244.97" y="385.90" width="4.30" height="4.30" fill="#3a78b5"/>
<rect x="251.42" y="385.90" width="4.30" height="4.30" fill="#abdbe6"/>
<rect x="257.87" y="385.90" width="4.30" height="4.30" fill="#3a78b5"/>
<rect x="264.32" y="385.90" width="4.30" height="4.30" fill="#3a78b5"/>
<rect x="270.77" y="385.90" width="4.30" height="4.30" fill="#3a78b5"/>
<rect x="277.22" y="385.90" width="4.30" height="4.30" fill="#abdbe6"/>
<rect x="283.67" y="385.90" width="4.30" height="4.30" fill="#abdbe6"/>
<rect x="290.12" y="385.90" width="4.30" height="4.30" fill="#3a78b5"/>
<rect x="296.57" y="385.90" width="4.30" height="4.30" fill="#abdbe6"/>
<rect x="303.02" y="385.90" width="4.30" height="4.30" fill="#3a78b5"/>
<rect x="309.47" y="385.90" width="4.30" height="4.30" fill="#abdbe6"/>
<rect x="315.91" y="385.90" width="4.30" height="4.30" fill="#3a78b5"/>
<rect x="322.36" y="385.90" width="4.30" height="4.30" fill="#3a78b5"/>
<rect x="328.81" y="385.90" width="4.30" height="4.30" fill="#3a78b5"/>
<rect x="335.26" y="385.90" width="4.30" height="4.30" fill="#3a78b5"/>
<rect x="341.71" y="385.90" width="4.30" height="4.30" fill="#3a78b5"/>
<rect x="348.16" y="385.90" width="4.30" height="4.30" fill="#3a78b5"/>
<rect x="354.61" y="385.90" width="4.30" height="4.30" fill="#abdbe6"/>
<rect x="361.06" y="385.90" width="4.30" height="4.30" fill="#3a78b5"/>
<rect x="367.51" y="385.90" width="4.30" height="4.30" fill="#abdbe6"/>
<rect x="373.96" y="385.90" width="4.30" height="4.30" fill="#3a78b5"/>
<rect x="380.40" y="385.90" width="4.30" height="4.30" fill="#abdbe6"/>
<rect x="386.85" y="385.90" width="4.30" height="4.30" fill="#3a78b5"/>
<rect x="393.30" y="385.90" width="4.30" height="4.30" fill="#abdbe6"/>
<rect x="399.75" y="385.90" width="4.30" height="4.30" fill="#abdbe6"/>
<rect x="406.20" y="385.90" width="4.30" height="4.30" fill="#abdbe6"/>
<rect x="412.65" y="385.90" width="4.30" height="4.30" fill="#abdbe6"/>
<rect x="419.10" y="385.90" width="4.30" height="4.30" fill="#3a78b5"/>
<rect x="425.55" y="385.90" width="4.30" height="4.30" fill="#abdbe6"/>
<rect x="432.00" y="385.90" width="4.30" height="4.30" fill="#abdbe6"/>
<rect x="438.45" y="385.90" width="4.30" height="4.30" fill="#3a78b5"/>
<rect x="444.89" y="385.90" width="4.30" height="4.30" fill="#3a78b5"/>
<rect x="451.34" y="385.90" width="4.30" height="4.30" fill="#3a78b5"/>
<rect x="457.79" y="385.90" width="4.30" height="4.30" fill="#3a78b5"/>
<rect x="464.24" y="385.90" width="4.30" height="4.30" fill="#3a78b5"/>
<rect x="470.69" y="385.90" width="4.30" height="4.30" fill="#abdbe6"/>
<rect x="477.14" y="385.90" width="4.30" height="4.30" fill="#3a78b5"/>
<rect x="483.59" y="385.90" width="4.30" height="4.30" fill="#3a78b5"/>
<rect x="490.04" y="385.90" width="4.30" height="4.30" fill="#3a78b5"/>
<rect x="496.49" y="385.90" width="4.30" height="4.30" fill="#3a78b5"/>
<rect x="502.94" y="385.90" width="4.30" height="4.30" fill="#3a78b5"/>
<rect x="509.38" y="385.90" width="4.30" height="4.30" fill="#abdbe6"/>
<rect x="515.83" y="385.90" width="4.30" height="4.30" fill="#abdbe6"/>
<rect x="522.28" y="385.90" width="4.30" height="4.30" fill="#3a78b5"/>
<rect x="528.73" y="385.90" width="4.30" height="4.30" fill="#abdbe6"/>
<rect x="535.18" y="385.90" width="4.30" height="4.30" fill="#3a78b5"/>
<rect x="541.63" y="385.90" width="4.30" height="4.30" fill="#abdbe6"/>
<rect x="548.08" y="385.90" width="4.30" height="4.30" fill="#abdbe6"/>
<rect x="554.53" y="385.90" width="4.30" height="4.30" fill="#3a78b5"/>
<rect x="560.98" y="385.90" width="4.30" height="4.30" fill="#abdbe6"/>
<rect x="567.43" y="385.90" width="4.30" height="4.30" fill="#abdbe6"/>
<rect x="573.87" y="385.90" width="4.30" height="4.30" fill="#abdbe6"/>
<rect x="580.32" y="385.90" width="4.30" height="4.30" fill="#abdbe6"/>
<rect x="586.77" y="385.90" width="4.30" height="4.30" fill="#abdbe6"/>
<rect x="593.22" y="385.90" width="4.30" height="4.30" fill="#abdbe6"/>
<rect x="599.67" y="385.90" width="4.30" height="4.30" fill="#3a78b5"/>
<rect x="606.12" y="385.90" width="4.30" height="4.30" fill="#3a78b5"/>
<rect x="612.57" y="385.90" width="4.30" height="4.30" fill="#abdbe6"/>
<rect x="619.02" y="385.90" width="4.30" height="4.30" fill="#abdbe6"/>
<rect x="625.47" y="385.90" width="4.30" height="4.30" fill="#abdbe6"/>
<rect x="631.91" y="385.90" width="4.30" height="4.30" fill="#3a78b5"/>
<rect x="638.36" y="385.90" width="4.30" height="4.30" fill="#3a78b5"/>
<rect x="644.81" y="385.90" width="4.30" height="4.30" fill="#3a78b5"/>
<rect x="651.26" y="385.90" width="4.30" height="4.30" fill="#abdbe6"/>
<rect x="657.71" y="385.90" width="4.30" height="4.30" fill="#abdbe6"/>
<rect x="664.16" y="385.90" width="4.30" height="4.30" fill="#abdbe6"/>
<rect x="670.61" y="385.90" width="4.30" height="4.30" fill="#abdbe6"/>
<text x="80.10" y="390.60" font-size="7.4" text-anchor="end">Ascites</text>
<rect x="83.75" y="392.00" width="4.30" height="4.30" fill="#abdbe6"/>
<rect x="90.20" y="392.00" width="4.30" height="4.30" fill="#abdbe6"/>
<rect x="96.65" y="392.00" width="4.30" height="4.30" fill="#abdbe6"/>
<rect x="103.10" y="392.00" width="4.30" height="4.30" fill="#abdbe6"/>
<rect x="109.55" y="392.00" width="4.30" height="4.30" fill="#3a78b5"/>
<rect x="116.00" y="392.00" width="4.30" height="4.30" fill="#abdbe6"/>
<rect x="122.44" y="392.00" width="4.30" height="4.30" fill="#abdbe6"/>
<rect x="128.89" y="392.00" width="4.30" height="4.30" fill="#abdbe6"/>
<rect x="135.34" y="392.00" width="4.30" height="4.30" fill="#3a78b5"/>
<rect x="141.79" y="392.00" width="4.30" height="4.30" fill="#abdbe6"/>
<rect x="148.24" y="392.00" width="4.30" height="4.30" fill="#abdbe6"/>
<rect x="154.69" y="392.00" width="4.30" height="4.30" fill="#abdbe6"/>
<rect x="161.14" y="392.00" width="4.30" height="4.30" fill="#abdbe6"/>
<rect x="167.59" y="392.00" width="4.30" height="4.30" fill="#abdbe6"/>
<rect x="174.04" y="392.00" width="4.30" height="4.30" fill="#abdbe6"/>
<rect x="180.48" y="392.00" width="4.30" height="4.30" fill="#abdbe6"/>
<rect x="186.93" y="392.00" width="4.30" height="4.30" fill="#abdbe6"/>
<rect x="193.38" y="392.00" width="4.30" height="4.30" fill="#3a78b5"/>
<rect x="199.83" y="392.00" width="4.30" height="4.30" fill="#abdbe6"/>
<rect x="206.28" y="392.00" width="4.30" height="4.30" fill="#abdbe6"/>
<rect x="212.73" y="392.00" width="4.30" height="4.30" fill="#abdbe6"/>
<rect x="219.18" y="392.00" width="4.30" height="4.30" fill="#abdbe6"/>
<rect x="225.63" y="392.00" width="4.30" height="4.30" fill="#3a78b5"/>
<rect x="232.08" y="392.00" width="4.30" height="4.30" fill="#abdbe6"/>
<rect x="238.53" y="392.00" width="4.30" height="4.30" fill="#3a78b5"/>
<rect x="244.97" y="392.00" width="4.30" height="4.30" fill="#abdbe6"/>
<rect x="251.42" y="392.00" width="4.30" height="4.30" fill="#abdbe6"/>
<rect x="257.87" y="392.00" width="4.30" height="4.30" fill="#abdbe6"/>
<rect x="264.32" y="392.00" width="4.30" height="4.30" fill="#3a78b5"/>
<rect x="270.77" y="392.00" width="4.30" height="4.30" fill="#3a78b5"/>
<rect x="277.22" y="392.00" width="4.30" height="4.30" fill="#abdbe6"/>
<rect x="283.67" y="392.00" width="4.30" height="4.30" fill="#3a78b5"/>
<rect x="290.12" y="392.00" width="4.30" height="4.30" fill="#3a78b5"/>
<rect x="296.57" y="392.00" width="4.30" height="4.30" fill="#3a78b5"/>
<rect x="303.02" y="392.00" width="4.30" height="4.30" fill="#abdbe6"/>
<rect x="309.47" y="392.00" width="4.30" height="4.30" fill="#abdbe6"/>
<rect x="315.91" y="392.00" width="4.30" height="4.30" fill="#abdbe6"/>
<rect x="322.36" y="392.00" width="4.30" height="4.30" fill="#abdbe6"/>
<rect x="328.81" y="392.00" width="4.30" height="4.30" fill="#abdbe6"/>
<rect x="335.26" y="392.00" width="4.30" height="4.30" fill="#abdbe6"/>
<rect x="341.71" y="392.00" width="4.30" height="4.30" fill="#abdbe6"/>
<rect x="348.16" y="392.00" width="4.30" height="4.30" fill="#abdbe6"/>
<rect x="354.61" y="392.00" width="4.30" height="4.30" fill="#3a78b5"/>
<rect x="361.06" y="392.00" width="4.30" height="4.30" fill="#3a78b5"/>
<rect x="367.51" y="392.00" width="4.30" height="4.30" fill="#3a78b5"/>
<rect x="373.96" y="392.00" width="4.30" height="4.30" fill="#abdbe6"/>
<rect x="380.40" y="392.00" width="4.30" height="4.30" fill="#abdbe6"/>
<rect x="386.85" y="392.00" width="4.30" height="4.30" fill="#abdbe6"/>
<rect x="393.30" y="392.00" width="4.30" height="4.30" fill="#abdbe6"/>
<rect x="399.75" y="392.00" width="4.30" height="4.30" fill="#abdbe6"/>
<rect x="406.20" y="392.00" width="4.30" height="4.30" fill="#3a78b5"/>
<rect x="412.65" y="392.00" width="4.30" height="4.30" fill="#abdbe6"/>
<rect x="419.10" y="392.00" width="4.30" height="4.30" fill="#abdbe6"/>
<rect x="425.55" y="392.00" width="4.30" height="4.30" fill="#abdbe6"/>
<rect x="432.00" y="392.00" width="4.30" height="4.30" fill="#abdbe6"/>
<rect x="438.45" y="392.00" width="4.30" height="4.30" fill="#abdbe6"/>
<rect x="444.89" y="392.00" width="4.30" height="4.30" fill="#abdbe6"/>
<rect x="451.34" y="392.00" width="4.30" height="4.30" fill="#3a78b5"/>
<rect x="457.79" y="392.00" width="4.30" height="4.30" fill="#abdbe6"/>
<rect x="464.24" y="392.00" width="4.30" height="4.30" fill="#abdbe6"/>
<rect x="470.69" y="392.00" width="4.30" height="4.30" fill="#abdbe6"/>
<rect x="477.14" y="392.00" width="4.30" height="4.30" fill="#abdbe6"/>
<rect x="483.59" y="392.00" width="4.30" height="4.30" fill="#abdbe6"/>
<rect x="490.04" y="392.00" width="4.30" height="4.30" fill="#abdbe6"/>
<rect x="496.49" y="392.00" width="4.30" height="4.30" fill="#abdbe6"/>
<rect x="502.94" y="392.00" width="4.30" height="4.30" fill="#abdbe6"/>
<rect x="509.38" y="392.00" width="4.30" height="4.30" fill="#abdbe6"/>
<rect x="515.83" y="392.00" width="4.30" height="4.30" fill="#abdbe6"/>
<rect x="522.28" y="392.00" width="4.30" height="4.30" fill="#abdbe6"/>
<rect x="528.73" y="392.00" width="4.30" height="4.30" fill="#abdbe6"/>
<rect x="535.18" y="392.00" width="4.30" height="4.30" fill="#abdbe6"/>
<rect x="541.63" y="392.00" width="4.30" height="4.30" fill="#abdbe6"/>
<rect x="548.08" y="392.00" width="4.30" height="4.30" fill="#3a78b5"/>
<rect x="554.53" y="392.00" width="4.30" height="4.30" fill="#abdbe6"/>
<rect x="560.98" y="392.00" width="4.30" height="4.30" fill="#abdbe6"/>
<rect x="567.43" y="392.00" width="4.30" height="4.30" fill="#abdbe6"/>
<rect x="573.87" y="392.00" width="4.30" height="4.30" fill="#abdbe6"/>
<rect x="580.32" y="392.00" width="4.30" height="4.30" fill="#3a78b5"/>
<rect x="586.77" y="392.00" width="4.30" height="4.30" fill="#abdbe6"/>
<rect x="593.22" y="392.00" width="4.30" height="4.30" fill="#abdbe6"/>
<rect x="599.67" y="392.00" width="4.30" height="4.30" fill="#abdbe6"/>
<rect x="606.12" y="392.00" width="4.30" height="4.30" fill="#3a78b5"/>
<rect x="612.57" y="392.00" width="4.30" height="4.30" fill="#abdbe6"/>
<rect x="619.02" y="392.00" width="4.30" height="4.30" fill="#3a78b5"/>
<rect x="625.47" y="392.00" width="4.30" height="4.30" fill="#3a78b5"/>
<rect x="631.91" y="392.00" width="4.30" height="4.30" fill="#3a78b5"/>
<rect x="638.36" y="392.00" width="4.30" height="4.30" fill="#abdbe6"/>
<rect x="644.81" y="392.00" width="4.30" height="4.30" fill="#abdbe6"/>
<rect x="651.26" y="392.00" width="4.30" height="4.30" fill="#abdbe6"/>
<rect x="657.71" y="392.00" width="4.30" height="4.30" fill="#abdbe6"/>
<rect x="664.16" y="392.00" width="4.30" height="4.30" fill="#abdbe6"/>
<rect x="670.61" y="392.00" width="4.30" height="4.30" fill="#abdbe6"/>
<text x="80.10" y="396.70" font-size="7.4" text-anchor="end">Pleural effusion</text>
<rect x="83.75" y="398.10" width="4.30" height="4.30" fill="#edf6b4"/>
<rect x="90.20" y="398.10" width="4.30" height="4.30" fill="#2a8b47"/>
<rect x="96.65" y="398.10" width="4.30" height="4.30" fill="#2a8b47"/>
<rect x="103.10" y="398.10" width="4.30" height="4.30" fill="#b5de8c"/>
<rect x="109.55" y="398.10" width="4.30" height="4.30" fill="#2a8b47"/>
<rect x="116.00" y="398.10" width="4.30" height="4.30" fill="#edf6b4"/>
<rect x="122.44" y="398.10" width="4.30" height="4.30" fill="#fdfed8"/>
<rect x="128.89" y="398.10" width="4.30" height="4.30" fill="#5db761"/>
<rect x="135.34" y="398.10" width="4.30" height="4.30" fill="#fdfed8"/>
<rect x="141.79" y="398.10" width="4.30" height="4.30" fill="#b5de8c"/>
<rect x="148.24" y="398.10" width="4.30" height="4.30" fill="#edf6b4"/>
<rect x="154.69" y="398.10" width="4.30" height="4.30" fill="#5db761"/>
<rect x="161.14" y="398.10" width="4.30" height="4.30" fill="#5db761"/>
<rect x="167.59" y="398.10" width="4.30" height="4.30" fill="#edf6b4"/>
<rect x="174.04" y="398.10" width="4.30" height="4.30" fill="#b5de8c"/>
<rect x="180.48" y="398.10" width="4.30" height="4.30" fill="#fdfed8"/>
<rect x="186.93" y="398.10" width="4.30" height="4.30" fill="#5db761"/>
<rect x="193.38" y="398.10" width="4.30" height="4.30" fill="#5db761"/>
<rect x="199.83" y="398.10" width="4.30" height="4.30" fill="#2a8b47"/>
<rect x="206.28" y="398.10" width="4.30" height="4.30" fill="#b5de8c"/>
<rect x="212.73" y="398.10" width="4.30" height="4.30" fill="#fdfed8"/>
<rect x="219.18" y="398.10" width="4.30" height="4.30" fill="#edf6b4"/>
<rect x="225.63" y="398.10" width="4.30" height="4.30" fill="#edf6b4"/>
<rect x="232.08" y="398.10" width="4.30" height="4.30" fill="#edf6b4"/>
<rect x="238.53" y="398.10" width="4.30" height="4.30" fill="#2a8b47"/>
<rect x="244.97" y="398.10" width="4.30" height="4.30" fill="#fdfed8"/>
<rect x="251.42" y="398.10" width="4.30" height="4.30" fill="#2a8b47"/>
<rect x="257.87" y="398.10" width="4.30" height="4.30" fill="#edf6b4"/>
<rect x="264.32" y="398.10" width="4.30" height="4.30" fill="#b5de8c"/>
<rect x="270.77" y="398.10" width="4.30" height="4.30" fill="#fdfed8"/>
<rect x="277.22" y="398.10" width="4.30" height="4.30" fill="#b5de8c"/>
<rect x="283.67" y="398.10" width="4.30" height="4.30" fill="#b5de8c"/>
<rect x="290.12" y="398.10" width="4.30" height="4.30" fill="#5db761"/>
<rect x="296.57" y="398.10" width="4.30" height="4.30" fill="#5db761"/>
<rect x="303.02" y="398.10" width="4.30" height="4.30" fill="#5db761"/>
<rect x="309.47" y="398.10" width="4.30" height="4.30" fill="#fdfed8"/>
<rect x="315.91" y="398.10" width="4.30" height="4.30" fill="#b5de8c"/>
<rect x="322.36" y="398.10" width="4.30" height="4.30" fill="#046a38"/>
<rect x="328.81" y="398.10" width="4.30" height="4.30" fill="#5db761"/>
<rect x="335.26" y="398.10" width="4.30" height="4.30" fill="#edf6b4"/>
<rect x="341.71" y="398.10" width="4.30" height="4.30" fill="#fdfed8"/>
<rect x="348.16" y="398.10" width="4.30" height="4.30" fill="#fdfed8"/>
<rect x="354.61" y="398.10" width="4.30" height="4.30" fill="#fdfed8"/>
<rect x="361.06" y="398.10" width="4.30" height="4.30" fill="#046a38"/>
<rect x="367.51" y="398.10" width="4.30" height="4.30" fill="#edf6b4"/>
<rect x="373.96" y="398.10" width="4.30" height="4.30" fill="#046a38"/>
<rect x="380.40" y="398.10" width="4.30" height="4.30" fill="#edf6b4"/>
<rect x="386.85" y="398.10" width="4.30" height="4.30" fill="#edf6b4"/>
<rect x="393.30" y="398.10" width="4.30" height="4.30" fill="#b5de8c"/>
<rect x="399.75" y="398.10" width="4.30" height="4.30" fill="#edf6b4"/>
<rect x="406.20" y="398.10" width="4.30" height="4.30" fill="#edf6b4"/>
<rect x="412.65" y="398.10" width="4.30" height="4.30" fill="#fdfed8"/>
<rect x="419.10" y="398.10" width="4.30" height="4.30" fill="#fdfed8"/>
<rect x="425.55" y="398.10" width="4.30" height="4.30" fill="#edf6b4"/>
<rect x="432.00" y="398.10" width="4.30" height="4.30" fill="#2a8b47"/>
<rect x="438.45" y="398.10" width="4.30" height="4.30" fill="#edf6b4"/>
<rect x="444.89" y="398.10" width="4.30" height="4.30" fill="#edf6b4"/>
<rect x="451.34" y="398.10" width="4.30" height="4.30" fill="#fdfed8"/>
<rect x="457.79" y="398.10" width="4.30" height="4.30" fill="#b5de8c"/>
<rect x="464.24" y="398.10" width="4.30" height="4.30" fill="#b5de8c"/>
<rect x="470.69" y="398.10" width="4.30" height="4.30" fill="#fdfed8"/>
<rect x="477.14" y="398.10" width="4.30" height="4.30" fill="#edf6b4"/>
<rect x="483.59" y="398.10" width="4.30" height="4.30" fill="#b5de8c"/>
<rect x="490.04" y="398.10" width="4.30" height="4.30" fill="#fdfed8"/>
<rect x="496.49" y="398.10" width="4.30" height="4.30" fill="#2a8b47"/>
<rect x="502.94" y="398.10" width="4.30" height="4.30" fill="#edf6b4"/>
<rect x="509.38" y="398.10" width="4.30" height="4.30" fill="#fdfed8"/>
<rect x="515.83" y="398.10" width="4.30" height="4.30" fill="#fdfed8"/>
<rect x="522.28" y="398.10" width="4.30" height="4.30" fill="#edf6b4"/>
<rect x="528.73" y="398.10" width="4.30" height="4.30" fill="#fdfed8"/>
<rect x="535.18" y="398.10" width="4.30" height="4.30" fill="#fdfed8"/>
<rect x="541.63" y="398.10" width="4.30" height="4.30" fill="#b5de8c"/>
<rect x="548.08" y="398.10" width="4.30" height="4.30" fill="#b5de8c"/>
<rect x="554.53" y="398.10" width="4.30" height="4.30" fill="#fdfed8"/>
<rect x="560.98" y="398.10" width="4.30" height="4.30" fill="#2a8b47"/>
<rect x="567.43" y="398.10" width="4.30" height="4.30" fill="#edf6b4"/>
<rect x="573.87" y="398.10" width="4.30" height="4.30" fill="#edf6b4"/>
<rect x="580.32" y="398.10" width="4.30" height="4.30" fill="#046a38"/>
<rect x="586.77" y="398.10" width="4.30" height="4.30" fill="#fdfed8"/>
<rect x="593.22" y="398.10" width="4.30" height="4.30" fill="#5db761"/>
<rect x="599.67" y="398.10" width="4.30" height="4.30" fill="#5db761"/>
<rect x="606.12" y="398.10" width="4.30" height="4.30" fill="#046a38"/>
<rect x="612.57" y="398.10" width="4.30" height="4.30" fill="#00441f"/>
<rect x="619.02" y="398.10" width="4.30" height="4.30" fill="#5db761"/>
<rect x="625.47" y="398.10" width="4.30" height="4.30" fill="#fdfed8"/>
<rect x="631.91" y="398.10" width="4.30" height="4.30" fill="#00441f"/>
<rect x="638.36" y="398.10" width="4.30" height="4.30" fill="#5db761"/>
<rect x="644.81" y="398.10" width="4.30" height="4.30" fill="#edf6b4"/>
<rect x="651.26" y="398.10" width="4.30" height="4.30" fill="#fdfed8"/>
<rect x="657.71" y="398.10" width="4.30" height="4.30" fill="#fdfed8"/>
<rect x="664.16" y="398.10" width="4.30" height="4.30" fill="#fdfed8"/>
<rect x="670.61" y="398.10" width="4.30" height="4.30" fill="#b5de8c"/>
<text x="80.10" y="402.80" font-size="7.4" text-anchor="end">Num. of disease sites</text>
<rect x="83.75" y="404.30" width="4.30" height="4.30" fill="#fdfee0"/>
<rect x="90.20" y="404.30" width="4.30" height="4.30" fill="#fdfee0"/>
<rect x="96.65" y="404.30" width="4.30" height="4.30" fill="#f1f8bb"/>
<rect x="103.10" y="404.30" width="4.30" height="4.30" fill="#f1f8bb"/>
<rect x="109.55" y="404.30" width="4.30" height="4.30" fill="#f1f8bb"/>
<rect x="116.00" y="404.30" width="4.30" height="4.30" fill="#fdfee0"/>
<rect x="122.44" y="404.30" width="4.30" height="4.30" fill="#fdfee0"/>
<rect x="128.89" y="404.30" width="4.30" height="4.30" fill="#f1f8bb"/>
<rect x="135.34" y="404.30" width="4.30" height="4.30" fill="#fdfee0"/>
<rect x="141.79" y="404.30" width="4.30" height="4.30" fill="#fdfee0"/>
<rect x="148.24" y="404.30" width="4.30" height="4.30" fill="#c9e79c"/>
<rect x="154.69" y="404.30" width="4.30" height="4.30" fill="#f1f8bb"/>
<rect x="161.14" y="404.30" width="4.30" height="4.30" fill="#fdfee0"/>
<rect x="167.59" y="404.30" width="4.30" height="4.30" fill="#fdfee0"/>
<rect x="174.04" y="404.30" width="4.30" height="4.30" fill="#fdfee0"/>
<rect x="180.48" y="404.30" width="4.30" height="4.30" fill="#fdfee0"/>
<rect x="186.93" y="404.30" width="4.30" height="4.30" fill="#6cbe6c"/>
<rect x="193.38" y="404.30" width="4.30" height="4.30" fill="#fdfee0"/>
<rect x="199.83" y="404.30" width="4.30" height="4.30" fill="#f1f8bb"/>
<rect x="206.28" y="404.30" width="4.30" height="4.30" fill="#f1f8bb"/>
<rect x="212.73" y="404.30" width="4.30" height="4.30" fill="#f1f8bb"/>
<rect x="219.18" y="404.30" width="4.30" height="4.30" fill="#f1f8bb"/>
<rect x="225.63" y="404.30" width="4.30" height="4.30" fill="#f1f8bb"/>
<rect x="232.08" y="404.30" width="4.30" height="4.30" fill="#fdfee0"/>
<rect x="238.53" y="404.30" width="4.30" height="4.30" fill="#fdfee0"/>
<rect x="244.97" y="404.30" width="4.30" height="4.30" fill="#fdfee0"/>
<rect x="251.42" y="404.30" width="4.30" height="4.30" fill="#fdfee0"/>
<rect x="257.87" y="404.30" width="4.30" height="4.30" fill="#fdfee0"/>
<rect x="264.32" y="404.30" width="4.30" height="4.30" fill="#6cbe6c"/>
<rect x="270.77" y="404.30" width="4.30" height="4.30" fill="#f1f8bb"/>
<rect x="277.22" y="404.30" width="4.30" height="4.30" fill="#fdfee0"/>
<rect x="283.67" y="404.30" width="4.30" height="4.30" fill="#f1f8bb"/>
<rect x="290.12" y="404.30" width="4.30" height="4.30" fill="#f1f8bb"/>
<rect x="296.57" y="404.30" width="4.30" height="4.30" fill="#f1f8bb"/>
<rect x="303.02" y="404.30" width="4.30" height="4.30" fill="#f1f8bb"/>
<rect x="309.47" y="404.30" width="4.30" height="4.30" fill="#fdfee0"/>
<rect x="315.91" y="404.30" width="4.30" height="4.30" fill="#f1f8bb"/>
<rect x="322.36" y="404.30" width="4.30" height="4.30" fill="#c9e79c"/>
<rect x="328.81" y="404.30" width="4.30" height="4.30" fill="#f1f8bb"/>
<rect x="335.26" y="404.30" width="4.30" height="4.30" fill="#fdfee0"/>
<rect x="341.71" y="404.30" width="4.30" height="4.30" fill="#fdfee0"/>
<rect x="348.16" y="404.30" width="4.30" height="4.30" fill="#fdfee0"/>
<rect x="354.61" y="404.30" width="4.30" height="4.30" fill="#fdfee0"/>
<rect x="361.06" y="404.30" width="4.30" height="4.30" fill="#f1f8bb"/>
<rect x="367.51" y="404.30" width="4.30" height="4.30" fill="#fdfee0"/>
<rect x="373.96" y="404.30" width="4.30" height="4.30" fill="#f1f8bb"/>
<rect x="380.40" y="404.30" width="4.30" height="4.30" fill="#f1f8bb"/>
<rect x="386.85" y="404.30" width="4.30" height="4.30" fill="#fdfee0"/>
<rect x="393.30" y="404.30" width="4.30" height="4.30" fill="#fdfee0"/>
<rect x="399.75" y="404.30" width="4.30" height="4.30" fill="#f1f8bb"/>
<rect x="406.20" y="404.30" width="4.30" height="4.30" fill="#2f8f49"/>
<rect x="412.65" y="404.30" width="4.30" height="4.30" fill="#fdfee0"/>
<rect x="419.10" y="404.30" width="4.30" height="4.30" fill="#fdfee0"/>
<rect x="425.55" y="404.30" width="4.30" height="4.30" fill="#fdfee0"/>
<rect x="432.00" y="404.30" width="4.30" height="4.30" fill="#c9e79c"/>
<rect x="438.45" y="404.30" width="4.30" height="4.30" fill="#fdfee0"/>
<rect x="444.89" y="404.30" width="4.30" height="4.30" fill="#fdfee0"/>
<rect x="451.34" y="404.30" width="4.30" height="4.30" fill="#fdfee0"/>
<rect x="457.79" y="404.30" width="4.30" height="4.30" fill="#f1f8bb"/>
<rect x="464.24" y="404.30" width="4.30" height="4.30" fill="#fdfee0"/>
<rect x="470.69" y="404.30" width="4.30" height="4.30" fill="#fdfee0"/>
<rect x="477.14" y="404.30" width="4.30" height="4.30" fill="#fdfee0"/>
<rect x="483.59" y="404.30" width="4.30" height="4.30" fill="#fdfee0"/>
<rect x="490.04" y="404.30" width="4.30" height="4.30" fill="#fdfee0"/>
<rect x="496.49" y="404.30" width="4.30" height="4.30" fill="#f1f8bb"/>
<rect x="502.94" y="404.30" width="4.30" height="4.30" fill="#f1f8bb"/>
<rect x="509.38" y="404.30" width="4.30" height="4.30" fill="#fdfee0"/>
<rect x="515.83" y="404.30" width="4.30" height="4.30" fill="#f1f8bb"/>
<rect x="522.28" y="404.30" width="4.30" height="4.30" fill="#fdfee0"/>
<rect x="528.73" y="404.30" width="4.30" height="4.30" fill="#fdfee0"/>
<rect x="535.18" y="404.30" width="4.30" height="4.30" fill="#fdfee0"/>
<rect x="541.63" y="404.30" width="4.30" height="4.30" fill="#fdfee0"/>
<rect x="548.08" y="404.30" width="4.30" height="4.30" fill="#2f8f49"/>
<rect x="554.53" y="404.30" width="4.30" height="4.30" fill="#fdfee0"/>
<rect x="560.98" y="404.30" width="4.30" height="4.30" fill="#f1f8bb"/>
<rect x="567.43" y="404.30" width="4.30" height="4.30" fill="#f1f8bb"/>
<rect x="573.87" y="404.30" width="4.30" height="4.30" fill="#fdfee0"/>
<rect x="580.32" y="404.30" width="4.30" height="4.30" fill="#c9e79c"/>
<rect x="586.77" y="404.30" width="4.30" height="4.30" fill="#c9e79c"/>
<rect x="593.22" y="404.30" width="4.30" height="4.30" fill="#fdfee0"/>
<rect x="599.67" y="404.30" width="4.30" height="4.30" fill="#6cbe6c"/>
<rect x="606.12" y="404.30" width="4.30" height="4.30" fill="#6cbe6c"/>
<rect x="612.57" y="404.30" width="4.30" height="4.30" fill="#c9e79c"/>
<rect x="619.02" y="404.30" width="4.30" height="4.30" fill="#fdfee0"/>
<rect x="625.47" y="404.30" width="4.30" height="4.30" fill="#fdfee0"/>
<rect x="631.91" y="404.30" width="4.30" height="4.30" fill="#00441f"/>
<rect x="638.36" y="404.30" width="4.30" height="4.30" fill="#0d7038"/>
<rect x="644.81" y="404.30" width="4.30" height="4.30" fill="#fdfee0"/>
<rect x="651.26" y="404.30" width="4.30" height="4.30" fill="#fdfee0"/>
<rect x="657.71" y="404.30" width="4.30" height="4.30" fill="#6cbe6c"/>
<rect x="664.16" y="404.30" width="4.30" height="4.30" fill="#f1f8bb"/>
<rect x="670.61" y="404.30" width="4.30" height="4.30" fill="#fdfee0"/>
<text x="80.10" y="409.00" font-size="7.4" text-anchor="end">Total volume</text>
<rect x="83.75" y="410.40" width="4.30" height="4.30" fill="#fee7e3"/>
<rect x="90.20" y="410.40" width="4.30" height="4.30" fill="#fcc9c6"/>
<rect x="96.65" y="410.40" width="4.30" height="4.30" fill="#a3007d"/>
<rect x="103.10" y="410.40" width="4.30" height="4.30" fill="#f98fb2"/>
<rect x="109.55" y="410.40" width="4.30" height="4.30" fill="#ea3f9b"/>
<rect x="116.00" y="410.40" width="4.30" height="4.30" fill="#f98fb2"/>
<rect x="122.44" y="410.40" width="4.30" height="4.30" fill="#fee7e3"/>
<rect x="128.89" y="410.40" width="4.30" height="4.30" fill="#fcc9c6"/>
<rect x="135.34" y="410.40" width="4.30" height="4.30" fill="#fee7e3"/>
<rect x="141.79" y="410.40" width="4.30" height="4.30" fill="#fee7e3"/>
<rect x="148.24" y="410.40" width="4.30" height="4.30" fill="#f98fb2"/>
<rect x="154.69" y="410.40" width="4.30" height="4.30" fill="#4f0770"/>
<rect x="161.14" y="410.40" width="4.30" height="4.30" fill="#fee7e3"/>
<rect x="167.59" y="410.40" width="4.30" height="4.30" fill="#fcc9c6"/>
<rect x="174.04" y="410.40" width="4.30" height="4.30" fill="#fcc9c6"/>
<rect x="180.48" y="410.40" width="4.30" height="4.30" fill="#ea3f9b"/>
<rect x="186.93" y="410.40" width="4.30" height="4.30" fill="#ea3f9b"/>
<rect x="193.38" y="410.40" width="4.30" height="4.30" fill="#4f0770"/>
<rect x="199.83" y="410.40" width="4.30" height="4.30" fill="#4f0770"/>
<rect x="206.28" y="410.40" width="4.30" height="4.30" fill="#fee7e3"/>
<rect x="212.73" y="410.40" width="4.30" height="4.30" fill="#fcc9c6"/>
<rect x="219.18" y="410.40" width="4.30" height="4.30" fill="#ea3f9b"/>
<rect x="225.63" y="410.40" width="4.30" height="4.30" fill="#fcc9c6"/>
<rect x="232.08" y="410.40" width="4.30" height="4.30" fill="#fee7e3"/>
<rect x="238.53" y="410.40" width="4.30" height="4.30" fill="#fee7e3"/>
<rect x="244.97" y="410.40" width="4.30" height="4.30" fill="#fcc9c6"/>
<rect x="251.42" y="410.40" width="4.30" height="4.30" fill="#f98fb2"/>
<rect x="257.87" y="410.40" width="4.30" height="4.30" fill="#fcc9c6"/>
<rect x="264.32" y="410.40" width="4.30" height="4.30" fill="#fee7e3"/>
<rect x="270.77" y="410.40" width="4.30" height="4.30" fill="#f98fb2"/>
<rect x="277.22" y="410.40" width="4.30" height="4.30" fill="#fee7e3"/>
<rect x="283.67" y="410.40" width="4.30" height="4.30" fill="#a3007d"/>
<rect x="290.12" y="410.40" width="4.30" height="4.30" fill="#fcc9c6"/>
<rect x="296.57" y="410.40" width="4.30" height="4.30" fill="#fcc9c6"/>
<rect x="303.02" y="410.40" width="4.30" height="4.30" fill="#4f0770"/>
<rect x="309.47" y="410.40" width="4.30" height="4.30" fill="#fee7e3"/>
<rect x="315.91" y="410.40" width="4.30" height="4.30" fill="#fee7e3"/>
<rect x="322.36" y="410.40" width="4.30" height="4.30" fill="#ea3f9b"/>
<rect x="328.81" y="410.40" width="4.30" height="4.30" fill="#fcc9c6"/>
<rect x="335.26" y="410.40" width="4.30" height="4.30" fill="#fcc9c6"/>
<rect x="341.71" y="410.40" width="4.30" height="4.30" fill="#fee7e3"/>
<rect x="348.16" y="410.40" width="4.30" height="4.30" fill="#fcc9c6"/>
<rect x="354.61" y="410.40" width="4.30" height="4.30" fill="#fcc9c6"/>
<rect x="361.06" y="410.40" width="4.30" height="4.30" fill="#ea3f9b"/>
<rect x="367.51" y="410.40" width="4.30" height="4.30" fill="#fee7e3"/>
<rect x="373.96" y="410.40" width="4.30" height="4.30" fill="#f98fb2"/>
<rect x="380.40" y="410.40" width="4.30" height="4.30" fill="#a3007d"/>
<rect x="386.85" y="410.40" width="4.30" height="4.30" fill="#fee7e3"/>
<rect x="393.30" y="410.40" width="4.30" height="4.30" fill="#fee7e3"/>
<rect x="399.75" y="410.40" width="4.30" height="4.30" fill="#a3007d"/>
<rect x="406.20" y="410.40" width="4.30" height="4.30" fill="#fee7e3"/>
<rect x="412.65" y="410.40" width="4.30" height="4.30" fill="#fee7e3"/>
<rect x="419.10" y="410.40" width="4.30" height="4.30" fill="#fee7e3"/>
<rect x="425.55" y="410.40" width="4.30" height="4.30" fill="#f98fb2"/>
<rect x="432.00" y="410.40" width="4.30" height="4.30" fill="#ea3f9b"/>
<rect x="438.45" y="410.40" width="4.30" height="4.30" fill="#a3007d"/>
<rect x="444.89" y="410.40" width="4.30" height="4.30" fill="#fcc9c6"/>
<rect x="451.34" y="410.40" width="4.30" height="4.30" fill="#fcc9c6"/>
<rect x="457.79" y="410.40" width="4.30" height="4.30" fill="#ea3f9b"/>
<rect x="464.24" y="410.40" width="4.30" height="4.30" fill="#fee7e3"/>
<rect x="470.69" y="410.40" width="4.30" height="4.30" fill="#fee7e3"/>
<rect x="477.14" y="410.40" width="4.30" height="4.30" fill="#fee7e3"/>
<rect x="483.59" y="410.40" width="4.30" height="4.30" fill="#fee7e3"/>
<rect x="490.04" y="410.40" width="4.30" height="4.30" fill="#fee7e3"/>
<rect x="496.49" y="410.40" width="4.30" height="4.30" fill="#fee7e3"/>
<rect x="502.94" y="410.40" width="4.30" height="4.30" fill="#fee7e3"/>
<rect x="509.38" y="410.40" width="4.30" height="4.30" fill="#fcc9c6"/>
<rect x="515.83" y="410.40" width="4.30" height="4.30" fill="#f98fb2"/>
<rect x="522.28" y="410.40" width="4.30" height="4.30" fill="#fcc9c6"/>
<rect x="528.73" y="410.40" width="4.30" height="4.30" fill="#fee7e3"/>
<rect x="535.18" y="410.40" width="4.30" height="4.30" fill="#f98fb2"/>
<rect x="541.63" y="410.40" width="4.30" height="4.30" fill="#fee7e3"/>
<rect x="548.08" y="410.40" width="4.30" height="4.30" fill="#fcc9c6"/>
<rect x="554.53" y="410.40" width="4.30" height="4.30" fill="#fee7e3"/>
<rect x="560.98" y="410.40" width="4.30" height="4.30" fill="#ea3f9b"/>
<rect x="567.43" y="410.40" width="4.30" height="4.30" fill="#fcc9c6"/>
<rect x="573.87" y="410.40" width="4.30" height="4.30" fill="#fee7e3"/>
<rect x="580.32" y="410.40" width="4.30" height="4.30" fill="#4f0770"/>
<rect x="586.77" y="410.40" width="4.30" height="4.30" fill="#ea3f9b"/>
<rect x="593.22" y="410.40" width="4.30" height="4.30" fill="#fee7e3"/>
<rect x="599.67" y="410.40" width="4.30" height="4.30" fill="#fcc9c6"/>
<rect x="606.12" y="410.40" width="4.30" height="4.30" fill="#4f0770"/>
<rect x="612.57" y="410.40" width="4.30" height="4.30" fill="#fee7e3"/>
<rect x="619.02" y="410.40" width="4.30" height="4.30" fill="#fee7e3"/>
<rect x="625.47" y="410.40" width="4.30" height="4.30" fill="#fcc9c6"/>
<rect x="631.91" y="410.40" width="4.30" height="4.30" fill="#fcc9c6"/>
<rect x="638.36" y="410.40" width="4.30" height="4.30" fill="#fee7e3"/>
<rect x="644.81" y="410.40" width="4.30" height="4.30" fill="#fcc9c6"/>
<rect x="651.26" y="410.40" width="4.30" height="4.30" fill="#fee7e3"/>
<rect x="657.71" y="410.40" width="4.30" height="4.30" fill="#fcc9c6"/>
<rect x="664.16" y="410.40" width="4.30" height="4.30" fill="#fee7e3"/>
<rect x="670.61" y="410.40" width="4.30" height="4.30" fill="#fee7e3"/>
<text x="80.10" y="415.10" font-size="7.4" text-anchor="end">ctDNA tMAD</text>
<path d="M97.40 432.20L99.30 434.10L97.40 436.00L95.50 434.10Z" fill="#9a9a9a" stroke="#5a5a5a" stroke-width="0.5"/>
<circle cx="97.4" cy="442.7" r="1.2" fill="#fff" stroke="#666" stroke-width="0.5"/>
<text x="103.10" y="436.90" font-size="7.6">CT scan</text>
<text x="103.10" y="444.80" font-size="7.6">Chemotherapy session</text>
<text x="97.00" y="456.90" font-size="7.5" font-style="italic">Absent</text>
<rect x="123.30" y="452.20" width="4.50" height="4.40" fill="#abdbe6"/>
<rect x="128.10" y="452.20" width="4.50" height="4.40" fill="#3a78b5"/>
<text x="135.90" y="456.90" font-size="7.5" font-style="italic">Present</text>
<rect x="197.00" y="431.50" width="26.80" height="5.90" fill="url(#cbRed)"/>
<text x="226.00" y="437.40" font-size="7.7">CA125</text>
<text x="197.30" y="440.70" font-size="3.1" font-style="italic" fill="#333">Low</text>
<text x="223.60" y="440.70" font-size="3.1" text-anchor="end" font-style="italic" fill="#333">High</text>
<rect x="197.00" y="443.90" width="26.80" height="5.90" fill="url(#cbGrn)"/>
<text x="226.80" y="449.80" font-size="7.7">Volume / Number</text>
<text x="197.30" y="453.10" font-size="3.1" font-style="italic" fill="#333">Low</text>
<text x="223.60" y="453.10" font-size="3.1" text-anchor="end" font-style="italic" fill="#333">High</text>
<rect x="197.00" y="456.50" width="26.80" height="5.90" fill="url(#cbPur)"/>
<text x="227.60" y="462.90" font-size="7.7">tMAD</text>
<text x="197.30" y="465.70" font-size="3.1" font-style="italic" fill="#333">Low</text>
<text x="223.60" y="465.70" font-size="3.1" text-anchor="end" font-style="italic" fill="#333">High</text>
<text x="1.80" y="491.70" font-size="9.5" font-weight="bold">c</text>
<path d="M97.00 488.30 L83.00 488.30 L83.00 493.00 C82.60 498.50 76.00 500.80 70.00 503.00 C60.00 506.60 53.50 509.50 50.30 514.00 C48.30 517.00 47.40 521.00 47.10 526.40 L46.40 540.30 L44.30 561.00 L42.00 582.00 C40.00 598.00 36.50 612.00 34.00 620.00 C32.30 627.00 31.10 636.00 31.10 643.40 C31.10 650.00 31.60 657.00 32.30 660.90 C32.80 663.50 36.00 665.60 41.60 666.70 L41.80 655.00 C41.90 650.00 42.00 646.00 42.50 641.00 C43.20 636.00 44.50 631.00 47.50 622.00 C49.80 616.00 52.00 610.00 52.60 604.00 C53.20 597.00 53.60 588.00 54.20 580.00 C55.00 573.00 58.50 566.80 62.00 564.60 C63.60 563.80 64.30 566.00 64.30 569.60 C64.30 575.00 62.50 582.00 60.80 588.00 C59.00 595.00 57.00 602.00 56.00 606.00 C54.80 613.00 54.20 620.00 53.80 627.00 C52.60 636.00 51.70 642.00 51.80 650.00 C51.90 658.00 52.40 663.00 53.00 667.00 L55.80 681.30 L90.00 681.30 L90.00 655.00 C90.00 649.00 93.00 645.60 97.00 645.60 Z" fill="#d3d2d1"/>
<path d="M97.00 488.30 L111.00 488.30 L111.00 493.00 C111.40 498.50 118.00 500.80 124.00 503.00 C134.00 506.60 140.50 509.50 143.70 514.00 C145.70 517.00 146.60 521.00 146.90 526.40 L147.60 540.30 L149.70 561.00 L152.00 582.00 C154.00 598.00 157.50 612.00 160.00 620.00 C161.70 627.00 162.90 636.00 162.90 643.40 C162.90 650.00 162.40 657.00 161.70 660.90 C161.20 663.50 158.00 665.60 152.40 666.70 L152.20 655.00 C152.10 650.00 152.00 646.00 151.50 641.00 C150.80 636.00 149.50 631.00 146.50 622.00 C144.20 616.00 142.00 610.00 141.40 604.00 C140.80 597.00 140.40 588.00 139.80 580.00 C139.00 573.00 135.50 566.80 132.00 564.60 C130.40 563.80 129.70 566.00 129.70 569.60 C129.70 575.00 131.50 582.00 133.20 588.00 C135.00 595.00 137.00 602.00 138.00 606.00 C139.20 613.00 139.80 620.00 140.20 627.00 C141.40 636.00 142.30 642.00 142.20 650.00 C142.10 658.00 141.60 663.00 141.00 667.00 L138.20 681.30 L104.00 681.30 L104.00 655.00 C104.00 649.00 101.00 645.60 97.00 645.60 Z" fill="#d3d2d1"/>
<rect x="96.00" y="488.30" width="2.00" height="158.00" fill="#d3d2d1"/>
<ellipse cx="96.2" cy="543.8" rx="21.5" ry="28.5" fill="#9fd0e8" filter="url(#blur2)"/>
<rect x="60.5" y="587" width="73" height="50" rx="8" fill="#6e6a68" filter="url(#blur2)" opacity="0.55"/>
<ellipse cx="97.0" cy="629" rx="35" ry="21" fill="#f6a75b" filter="url(#blur3)"/>
<ellipse cx="97.0" cy="612" rx="33" ry="24" fill="#f2a25c" filter="url(#blur2)"/>
<ellipse cx="97.0" cy="584" rx="8.5" ry="9" fill="#f6a75b" filter="url(#blur2)"/>
<ellipse cx="97.0" cy="641" rx="30" ry="11" fill="#f6a75b" filter="url(#blur2b)"/>
<path d="M65 594 L90 594 C86 603 82 611 78 617 C74 623 70 627 65 629 Z" fill="#9670b6" filter="url(#blur2b)"/>
<path d="M65 594 L90 594 C86 603 82 611 78 617 C74 623 70 627 65 629 Z" fill="#9670b6" filter="url(#blur2b)" transform="translate(194.0,0) scale(-1,1)"/>
<path d="M96 590 C99 598 106 608 111 615 C116 621 122 627 128 629 C126 636 112 640.5 96 640.5 C80 640.5 66 636 64 629 C70 627 76 621 81 615 C86 608 93 598 96 590 Z" fill="#e39271" filter="url(#blur1b)" opacity="0.97"/>
<rect x="90.3" y="645.5" width="12.6" height="40" rx="6" fill="#ffffff" filter="url(#blur1)"/>
<rect x="89.0" y="644" width="15.2" height="16" rx="7" fill="#ffffff" filter="url(#blur2)" opacity="0.7"/>
<rect x="90.00" y="668.00" width="13.20" height="14.00" fill="#ffffff"/>
<ellipse cx="64.3" cy="615.8" rx="3.7" ry="20.8" fill="#62b563" filter="url(#blur1)"/>
<ellipse cx="130.7" cy="615.8" rx="3.7" ry="20.8" fill="#62b563" filter="url(#blur1)"/>
<ellipse cx="95.8" cy="592.5" rx="16" ry="3.9" fill="#62b563"/>
<circle cx="73.6" cy="593.3" r="6.7" fill="#b5383a"/>
<circle cx="120.0" cy="593.3" r="6.7" fill="#b5383a"/>
<ellipse cx="94.8" cy="621.6" rx="16.9" ry="6.5" fill="#85594f"/>
<path d="M25.3 511.2V542.4H84.9" fill="none" stroke="#444" stroke-width="0.6"/>
<path d="M145.0 579.8V592.9H128.9" fill="none" stroke="#444" stroke-width="0.6"/>
<path d="M23.4 610.0V620.4H61.9" fill="none" stroke="#444" stroke-width="0.6"/>
<path d="M48.8 642.4H95.5V636.5" fill="none" stroke="#444" stroke-width="0.6"/>
<path d="M139.7 628.0H103.0" fill="none" stroke="#777" stroke-width="0.6"/>
<path d="M121.3 635.5V672.6" fill="none" stroke="#444" stroke-width="0.6"/>
<text x="11.00" y="509.00" font-size="8.33">Extraabdominal LNs</text>
<text x="136.80" y="570.20" font-size="8.33">Upper abdominal</text>
<text x="136.80" y="578.90" font-size="8.33">quadrants</text>
<text x="9.60" y="582.80" font-size="8.33">Paracolic,</text>
<text x="9.60" y="591.40" font-size="8.33">mesenteric,</text>
<text x="9.60" y="599.90" font-size="8.33">epigastric</text>
<text x="9.60" y="608.50" font-size="8.33">disease</text>
<text x="9.30" y="644.60" font-size="8.33">Omentum</text>
<text x="141.60" y="627.60" font-size="8.33">Ovaries and</text>
<text x="141.60" y="636.20" font-size="8.33">pelvis</text>
<text x="105.20" y="680.80" font-size="8.33">Abdominal LNs</text>
<text x="197.30" y="491.00" font-size="9.5" font-weight="bold">d</text>
<path d="M304.6 479.6V569.3H414.0" fill="none" stroke="#222" stroke-width="0.9"/>
<line x1="316.40" y1="487.40" x2="360.60" y2="487.40" stroke="#8a8a8a" stroke-width="0.8" />
<line x1="316.40" y1="484.40" x2="316.40" y2="490.40" stroke="#8a8a8a" stroke-width="0.8" />
<line x1="360.60" y1="484.40" x2="360.60" y2="490.40" stroke="#8a8a8a" stroke-width="0.8" />
<rect x="328.30" y="481.50" width="14.60" height="11.80" fill="#4787bd" stroke="#8a8a8a" stroke-width="0.7"/>
<line x1="336.50" y1="481.50" x2="336.50" y2="493.30" stroke="#5a5a5a" stroke-width="0.8" />
<line x1="302.30" y1="487.40" x2="304.60" y2="487.40" stroke="#222" stroke-width="0.6" />
<line x1="309.50" y1="502.40" x2="376.60" y2="502.40" stroke="#8a8a8a" stroke-width="0.8" />
<line x1="309.50" y1="499.40" x2="309.50" y2="505.40" stroke="#8a8a8a" stroke-width="0.8" />
<line x1="376.60" y1="499.40" x2="376.60" y2="505.40" stroke="#8a8a8a" stroke-width="0.8" />
<rect x="332.30" y="496.50" width="22.40" height="11.80" fill="#f19036" stroke="#8a8a8a" stroke-width="0.7"/>
<line x1="345.40" y1="496.50" x2="345.40" y2="508.30" stroke="#5a5a5a" stroke-width="0.8" />
<line x1="302.30" y1="502.40" x2="304.60" y2="502.40" stroke="#222" stroke-width="0.6" />
<line x1="316.40" y1="517.20" x2="395.40" y2="517.20" stroke="#8a8a8a" stroke-width="0.8" />
<line x1="316.40" y1="514.20" x2="316.40" y2="520.20" stroke="#8a8a8a" stroke-width="0.8" />
<line x1="395.40" y1="514.20" x2="395.40" y2="520.20" stroke="#8a8a8a" stroke-width="0.8" />
<rect x="343.10" y="511.30" width="25.50" height="11.80" fill="#4aa657" stroke="#8a8a8a" stroke-width="0.7"/>
<line x1="354.60" y1="511.30" x2="354.60" y2="523.10" stroke="#5a5a5a" stroke-width="0.8" />
<line x1="302.30" y1="517.20" x2="304.60" y2="517.20" stroke="#222" stroke-width="0.6" />
<line x1="334.50" y1="532.10" x2="376.60" y2="532.10" stroke="#8a8a8a" stroke-width="0.8" />
<line x1="334.50" y1="529.10" x2="334.50" y2="535.10" stroke="#8a8a8a" stroke-width="0.8" />
<line x1="376.60" y1="529.10" x2="376.60" y2="535.10" stroke="#8a8a8a" stroke-width="0.8" />
<rect x="349.30" y="526.20" width="13.30" height="11.80" fill="#d9403f" stroke="#8a8a8a" stroke-width="0.7"/>
<line x1="356.60" y1="526.20" x2="356.60" y2="538.00" stroke="#5a5a5a" stroke-width="0.8" />
<line x1="302.30" y1="532.10" x2="304.60" y2="532.10" stroke="#222" stroke-width="0.6" />
<line x1="334.50" y1="547.10" x2="408.60" y2="547.10" stroke="#8a8a8a" stroke-width="0.8" />
<line x1="334.50" y1="544.10" x2="334.50" y2="550.10" stroke="#8a8a8a" stroke-width="0.8" />
<line x1="408.60" y1="544.10" x2="408.60" y2="550.10" stroke="#8a8a8a" stroke-width="0.8" />
<rect x="359.90" y="541.20" width="25.10" height="11.80" fill="#a37bc2" stroke="#8a8a8a" stroke-width="0.7"/>
<line x1="373.50" y1="541.20" x2="373.50" y2="553.00" stroke="#5a5a5a" stroke-width="0.8" />
<line x1="302.30" y1="547.10" x2="304.60" y2="547.10" stroke="#222" stroke-width="0.6" />
<line x1="344.50" y1="561.90" x2="407.70" y2="561.90" stroke="#8a8a8a" stroke-width="0.8" />
<line x1="344.50" y1="558.90" x2="344.50" y2="564.90" stroke="#8a8a8a" stroke-width="0.8" />
<line x1="407.70" y1="558.90" x2="407.70" y2="564.90" stroke="#8a8a8a" stroke-width="0.8" />
<rect x="365.30" y="556.00" width="21.40" height="11.80" fill="#92655a" stroke="#8a8a8a" stroke-width="0.7"/>
<line x1="376.60" y1="556.00" x2="376.60" y2="567.80" stroke="#5a5a5a" stroke-width="0.8" />
<line x1="302.30" y1="561.90" x2="304.60" y2="561.90" stroke="#222" stroke-width="0.6" />
<text x="301.00" y="489.50" font-size="7.9" text-anchor="end">Extraabdominal LNs</text>
<text x="301.00" y="504.50" font-size="7.9" text-anchor="end">Abdominal LNs</text>
<text x="301.00" y="515.00" font-size="7.9" text-anchor="end">Paracolic, mesenteric,</text>
<text x="301.00" y="523.00" font-size="7.9" text-anchor="end">epigastric</text>
<text x="301.00" y="534.20" font-size="7.9" text-anchor="end">Upper abdominal quad.</text>
<text x="301.00" y="549.30" font-size="7.9" text-anchor="end">Omentum</text>
<text x="301.00" y="564.00" font-size="7.9" text-anchor="end">Ovaries and pelvis</text>
<text x="307.14" y="577.60" font-size="7.9" text-anchor="middle">−2</text>
<text x="329.60" y="577.60" font-size="7.9" text-anchor="middle">0</text>
<text x="350.46" y="577.60" font-size="7.9" text-anchor="middle">2</text>
<text x="371.32" y="577.60" font-size="7.9" text-anchor="middle">4</text>
<text x="392.18" y="577.60" font-size="7.9" text-anchor="middle">6</text>
<text x="413.04" y="577.60" font-size="7.9" text-anchor="middle">8</text>
<text x="358.90" y="588.50" font-size="8.33" text-anchor="middle" font-weight="bold"><tspan>Volume (log cm</tspan><tspan font-size="5.6" dy="-3.2">3</tspan><tspan dy="3.2">)</tspan></text>
<text x="417.20" y="491.40" font-size="9.5" font-weight="bold">e</text>
<path d="M519.9 479.5V569.0H628.6" fill="none" stroke="#222" stroke-width="0.9"/>
<rect x="520.30" y="484.20" width="28.60" height="10.80" fill="#d9403f"/>
<line x1="517.60" y1="489.60" x2="519.90" y2="489.60" stroke="#222" stroke-width="0.6" />
<text x="516.80" y="492.00" font-size="7.9" text-anchor="end">Upper abdominal quad.</text>
<rect x="520.30" y="498.10" width="45.60" height="10.80" fill="#4787bd"/>
<line x1="517.60" y1="503.50" x2="519.90" y2="503.50" stroke="#222" stroke-width="0.6" />
<text x="516.80" y="505.90" font-size="7.9" text-anchor="end">Extraabdominal LNs</text>
<rect x="520.30" y="512.00" width="54.20" height="10.80" fill="#f28e38"/>
<line x1="517.60" y1="517.40" x2="519.90" y2="517.40" stroke="#222" stroke-width="0.6" />
<text x="516.80" y="519.80" font-size="7.9" text-anchor="end">Abdominal LNs</text>
<rect x="520.30" y="526.10" width="55.60" height="10.80" fill="#45a559"/>
<line x1="517.60" y1="531.50" x2="519.90" y2="531.50" stroke="#222" stroke-width="0.6" />
<text x="516.80" y="529.90" font-size="7.9" text-anchor="end">Paracolic, mesenteric,</text>
<text x="516.80" y="537.70" font-size="7.9" text-anchor="end">epigastric</text>
<rect x="520.30" y="540.00" width="102.80" height="10.80" fill="#9c76b8"/>
<line x1="517.60" y1="545.40" x2="519.90" y2="545.40" stroke="#222" stroke-width="0.6" />
<text x="516.80" y="547.80" font-size="7.9" text-anchor="end">Omentum</text>
<rect x="520.30" y="553.90" width="102.80" height="10.80" fill="#98655b"/>
<line x1="517.60" y1="559.30" x2="519.90" y2="559.30" stroke="#222" stroke-width="0.6" />
<text x="516.80" y="561.70" font-size="7.9" text-anchor="end">Ovaries and pelvis</text>
<text x="517.60" y="577.30" font-size="7.9" text-anchor="middle">0.0</text>
<text x="538.34" y="577.30" font-size="7.9" text-anchor="middle">0.2</text>
<text x="559.08" y="577.30" font-size="7.9" text-anchor="middle">0.4</text>
<text x="579.82" y="577.30" font-size="7.9" text-anchor="middle">0.6</text>
<text x="600.56" y="577.30" font-size="7.9" text-anchor="middle">0.8</text>
<text x="621.30" y="577.30" font-size="7.9" text-anchor="middle">1.0</text>
<text x="574.20" y="586.40" font-size="8.33" text-anchor="middle" font-weight="bold">Fraction of patients</text>
<text x="197.50" y="604.80" font-size="9.5" font-weight="bold">f</text>
<rect x="221.70" y="611.00" width="40.00" height="79.40" fill="#fff" stroke="#333" stroke-width="0.85"/>
<line x1="219.90" y1="614.60" x2="221.70" y2="614.60" stroke="#2a2a2a" stroke-width="0.5" />
<text x="219.00" y="617.30" font-size="7.5" text-anchor="end" fill="#2a2a2a">2.0</text>
<line x1="219.90" y1="632.40" x2="221.70" y2="632.40" stroke="#2a2a2a" stroke-width="0.5" />
<text x="219.00" y="635.10" font-size="7.5" text-anchor="end" fill="#2a2a2a">1.5</text>
<line x1="219.90" y1="650.40" x2="221.70" y2="650.40" stroke="#2a2a2a" stroke-width="0.5" />
<text x="219.00" y="653.10" font-size="7.5" text-anchor="end" fill="#2a2a2a">1.0</text>
<line x1="219.90" y1="668.40" x2="221.70" y2="668.40" stroke="#2a2a2a" stroke-width="0.5" />
<text x="219.00" y="671.10" font-size="7.5" text-anchor="end" fill="#2a2a2a">0.5</text>
<line x1="219.90" y1="686.40" x2="221.70" y2="686.40" stroke="#2a2a2a" stroke-width="0.5" />
<text x="219.00" y="689.10" font-size="7.5" text-anchor="end" fill="#2a2a2a">0.0</text>
<text x="205.60" y="650.70" font-size="7.5" text-anchor="middle" font-weight="bold" transform="rotate(-90 205.60 650.70)">Vol. change</text>
<line x1="231.65" y1="647.60" x2="231.65" y2="686.40" stroke="#808080" stroke-width="0.7" />
<line x1="227.31" y1="647.60" x2="235.99" y2="647.60" stroke="#808080" stroke-width="0.7" />
<line x1="227.31" y1="686.40" x2="235.99" y2="686.40" stroke="#808080" stroke-width="0.7" />
<rect x="223.90" y="670.40" width="15.50" height="15.50" fill="#a37bc2" stroke="#7d7d7d" stroke-width="0.6"/>
<line x1="223.90" y1="681.50" x2="239.40" y2="681.50" stroke="#555" stroke-width="0.7" />
<line x1="251.35" y1="638.00" x2="251.35" y2="686.40" stroke="#808080" stroke-width="0.7" />
<line x1="246.95" y1="638.00" x2="255.75" y2="638.00" stroke="#808080" stroke-width="0.7" />
<line x1="246.95" y1="686.40" x2="255.75" y2="686.40" stroke="#808080" stroke-width="0.7" />
<rect x="243.50" y="660.00" width="15.70" height="17.50" fill="#92655a" stroke="#7d7d7d" stroke-width="0.6"/>
<line x1="243.50" y1="671.30" x2="259.20" y2="671.30" stroke="#555" stroke-width="0.7" />
<text x="233.17" y="693.40" font-size="7.15" text-anchor="end" fill="#2a2a2a" transform="rotate(-90 233.17 693.40)">Omentum</text>
<text x="249.77" y="693.40" font-size="7.15" text-anchor="end" fill="#2a2a2a" transform="rotate(-90 249.77 693.40)">Ovaries</text>
<text x="257.37" y="693.40" font-size="7.15" text-anchor="end" fill="#2a2a2a" transform="rotate(-90 257.37 693.40)">&amp; pelvis</text>
<text x="260.00" y="618.20" font-size="5.8" text-anchor="end" fill="#2a2a2a">p=0.00012</text>
<text x="277.20" y="604.50" font-size="9.5" font-weight="bold">g</text>
<rect x="301.30" y="610.60" width="40.40" height="80.20" fill="#fff" stroke="#333" stroke-width="0.85"/>
<line x1="299.50" y1="627.60" x2="301.30" y2="627.60" stroke="#2a2a2a" stroke-width="0.5" />
<text x="298.60" y="630.30" font-size="7.5" text-anchor="end" fill="#2a2a2a">1.5</text>
<line x1="299.50" y1="648.10" x2="301.30" y2="648.10" stroke="#2a2a2a" stroke-width="0.5" />
<text x="298.60" y="650.80" font-size="7.5" text-anchor="end" fill="#2a2a2a">1.0</text>
<line x1="299.50" y1="668.60" x2="301.30" y2="668.60" stroke="#2a2a2a" stroke-width="0.5" />
<text x="298.60" y="671.30" font-size="7.5" text-anchor="end" fill="#2a2a2a">0.5</text>
<line x1="299.50" y1="688.90" x2="301.30" y2="688.90" stroke="#2a2a2a" stroke-width="0.5" />
<text x="298.60" y="691.60" font-size="7.5" text-anchor="end" fill="#2a2a2a">0.0</text>
<text x="286.40" y="650.70" font-size="7.5" text-anchor="middle" font-weight="bold" transform="rotate(-90 286.40 650.70)">Total vol. change</text>
<line x1="308.45" y1="675.30" x2="308.45" y2="687.40" stroke="#808080" stroke-width="0.7" />
<line x1="305.51" y1="675.30" x2="311.39" y2="675.30" stroke="#808080" stroke-width="0.7" />
<line x1="305.51" y1="687.40" x2="311.39" y2="687.40" stroke="#808080" stroke-width="0.7" />
<rect x="303.20" y="680.40" width="10.50" height="4.20" fill="#8c8c8c" stroke="#7d7d7d" stroke-width="0.6"/>
<line x1="303.20" y1="682.30" x2="313.70" y2="682.30" stroke="#555" stroke-width="0.7" />
<line x1="322.00" y1="636.20" x2="322.00" y2="674.30" stroke="#808080" stroke-width="0.7" />
<line x1="318.92" y1="636.20" x2="325.08" y2="636.20" stroke="#808080" stroke-width="0.7" />
<line x1="318.92" y1="674.30" x2="325.08" y2="674.30" stroke="#808080" stroke-width="0.7" />
<rect x="316.50" y="655.70" width="11.00" height="14.60" fill="#8c8c8c" stroke="#7d7d7d" stroke-width="0.6"/>
<line x1="316.50" y1="666.50" x2="327.50" y2="666.50" stroke="#555" stroke-width="0.7" />
<line x1="330.40" y1="614.00" x2="341.20" y2="614.00" stroke="#555" stroke-width="0.7" />
<text x="310.64" y="693.80" font-size="5.95" text-anchor="end" fill="#2a2a2a" transform="rotate(-90 310.64 693.80)">response</text>
<text x="324.14" y="693.80" font-size="5.95" text-anchor="end" fill="#2a2a2a" transform="rotate(-90 324.14 693.80)">stable</text>
<text x="337.64" y="693.80" font-size="5.95" text-anchor="end" fill="#2a2a2a" transform="rotate(-90 337.64 693.80)">progression</text>
<text x="304.50" y="623.10" font-size="5.8" fill="#2a2a2a"><tspan>p=2×10</tspan><tspan font-size="3.8" dy="-2.6">−16</tspan></text>
<rect x="368.70" y="610.60" width="40.80" height="80.20" fill="#fff" stroke="#333" stroke-width="0.85"/>
<line x1="366.90" y1="621.00" x2="368.70" y2="621.00" stroke="#2a2a2a" stroke-width="0.5" />
<text x="366.00" y="623.70" font-size="7.5" text-anchor="end" fill="#2a2a2a">2.0</text>
<line x1="366.90" y1="638.10" x2="368.70" y2="638.10" stroke="#2a2a2a" stroke-width="0.5" />
<text x="366.00" y="640.80" font-size="7.5" text-anchor="end" fill="#2a2a2a">1.5</text>
<line x1="366.90" y1="654.80" x2="368.70" y2="654.80" stroke="#2a2a2a" stroke-width="0.5" />
<text x="366.00" y="657.50" font-size="7.5" text-anchor="end" fill="#2a2a2a">1.0</text>
<line x1="366.90" y1="671.50" x2="368.70" y2="671.50" stroke="#2a2a2a" stroke-width="0.5" />
<text x="366.00" y="674.20" font-size="7.5" text-anchor="end" fill="#2a2a2a">0.5</text>
<line x1="366.90" y1="688.40" x2="368.70" y2="688.40" stroke="#2a2a2a" stroke-width="0.5" />
<text x="366.00" y="691.10" font-size="7.5" text-anchor="end" fill="#2a2a2a">0.0</text>
<text x="353.40" y="650.70" font-size="7.5" text-anchor="middle" font-weight="bold" transform="rotate(-90 353.40 650.70)">Omentum vol. change</text>
<line x1="375.80" y1="677.00" x2="375.80" y2="688.00" stroke="#808080" stroke-width="0.7" />
<line x1="372.89" y1="677.00" x2="378.71" y2="677.00" stroke="#808080" stroke-width="0.7" />
<line x1="372.89" y1="688.00" x2="378.71" y2="688.00" stroke="#808080" stroke-width="0.7" />
<rect x="370.60" y="683.30" width="10.40" height="4.30" fill="#a37bc2" stroke="#7d7d7d" stroke-width="0.6"/>
<line x1="370.60" y1="686.60" x2="381.00" y2="686.60" stroke="#555" stroke-width="0.7" />
<line x1="389.30" y1="622.50" x2="389.30" y2="687.60" stroke="#808080" stroke-width="0.7" />
<line x1="386.28" y1="622.50" x2="392.32" y2="622.50" stroke="#808080" stroke-width="0.7" />
<line x1="386.28" y1="687.60" x2="392.32" y2="687.60" stroke="#808080" stroke-width="0.7" />
<rect x="383.90" y="656.30" width="10.80" height="27.00" fill="#a37bc2" stroke="#7d7d7d" stroke-width="0.6"/>
<line x1="383.90" y1="672.40" x2="394.70" y2="672.40" stroke="#555" stroke-width="0.7" />
<text x="377.84" y="693.80" font-size="5.95" text-anchor="end" fill="#2a2a2a" transform="rotate(-90 377.84 693.80)">response</text>
<text x="391.34" y="693.80" font-size="5.95" text-anchor="end" fill="#2a2a2a" transform="rotate(-90 391.34 693.80)">stable</text>
<text x="404.84" y="693.80" font-size="5.95" text-anchor="end" fill="#2a2a2a" transform="rotate(-90 404.84 693.80)">progression</text>
<text x="371.50" y="619.70" font-size="5.8" fill="#2a2a2a"><tspan>p=6×10</tspan><tspan font-size="3.8" dy="-2.6">−16</tspan></text>
<rect x="435.20" y="610.60" width="41.70" height="80.60" fill="#fff" stroke="#333" stroke-width="0.85"/>
<line x1="433.40" y1="627.30" x2="435.20" y2="627.30" stroke="#2a2a2a" stroke-width="0.5" />
<text x="432.50" y="630.00" font-size="7.5" text-anchor="end" fill="#2a2a2a">1.5</text>
<line x1="433.40" y1="647.20" x2="435.20" y2="647.20" stroke="#2a2a2a" stroke-width="0.5" />
<text x="432.50" y="649.90" font-size="7.5" text-anchor="end" fill="#2a2a2a">1.0</text>
<line x1="433.40" y1="667.30" x2="435.20" y2="667.30" stroke="#2a2a2a" stroke-width="0.5" />
<text x="432.50" y="670.00" font-size="7.5" text-anchor="end" fill="#2a2a2a">0.5</text>
<line x1="433.40" y1="687.40" x2="435.20" y2="687.40" stroke="#2a2a2a" stroke-width="0.5" />
<text x="432.50" y="690.10" font-size="7.5" text-anchor="end" fill="#2a2a2a">0.0</text>
<text x="419.70" y="650.90" font-size="7.5" text-anchor="middle" font-weight="bold" transform="rotate(-90 419.70 650.90)">Pelvic/Ov. vol. change</text>
<line x1="442.65" y1="663.30" x2="442.65" y2="687.40" stroke="#808080" stroke-width="0.7" />
<line x1="439.71" y1="663.30" x2="445.59" y2="663.30" stroke="#808080" stroke-width="0.7" />
<line x1="439.71" y1="687.40" x2="445.59" y2="687.40" stroke="#808080" stroke-width="0.7" />
<rect x="437.40" y="673.80" width="10.50" height="8.50" fill="#92655a" stroke="#7d7d7d" stroke-width="0.6"/>
<line x1="437.40" y1="676.60" x2="447.90" y2="676.60" stroke="#555" stroke-width="0.7" />
<line x1="455.95" y1="622.50" x2="455.95" y2="687.40" stroke="#808080" stroke-width="0.7" />
<line x1="452.84" y1="622.50" x2="459.06" y2="622.50" stroke="#808080" stroke-width="0.7" />
<line x1="452.84" y1="687.40" x2="459.06" y2="687.40" stroke="#808080" stroke-width="0.7" />
<rect x="450.40" y="648.10" width="11.10" height="16.60" fill="#92655a" stroke="#7d7d7d" stroke-width="0.6"/>
<line x1="450.40" y1="657.30" x2="461.50" y2="657.30" stroke="#555" stroke-width="0.7" />
<line x1="464.00" y1="639.60" x2="474.80" y2="639.60" stroke="#555" stroke-width="0.7" />
<text x="444.74" y="694.20" font-size="5.95" text-anchor="end" fill="#2a2a2a" transform="rotate(-90 444.74 694.20)">response</text>
<text x="458.04" y="694.20" font-size="5.95" text-anchor="end" fill="#2a2a2a" transform="rotate(-90 458.04 694.20)">stable</text>
<text x="471.54" y="694.20" font-size="5.95" text-anchor="end" fill="#2a2a2a" transform="rotate(-90 471.54 694.20)">progression</text>
<text x="438.40" y="619.70" font-size="5.8" fill="#2a2a2a"><tspan>p=9.6×10</tspan><tspan font-size="3.8" dy="-2.6">−19</tspan></text>
<text x="497.20" y="605.40" font-size="9.5" font-weight="bold">h</text>
<rect x="514.10" y="611.50" width="41.00" height="79.90" fill="#fff" stroke="#333" stroke-width="0.85"/>
<line x1="512.30" y1="620.20" x2="514.10" y2="620.20" stroke="#2a2a2a" stroke-width="0.5" />
<text x="511.40" y="622.25" font-size="5.7" text-anchor="end" fill="#2a2a2a">1.5</text>
<line x1="512.30" y1="643.40" x2="514.10" y2="643.40" stroke="#2a2a2a" stroke-width="0.5" />
<text x="511.40" y="645.45" font-size="5.7" text-anchor="end" fill="#2a2a2a">1.0</text>
<line x1="512.30" y1="666.50" x2="514.10" y2="666.50" stroke="#2a2a2a" stroke-width="0.5" />
<text x="511.40" y="668.55" font-size="5.7" text-anchor="end" fill="#2a2a2a">0.5</text>
<line x1="512.30" y1="689.50" x2="514.10" y2="689.50" stroke="#2a2a2a" stroke-width="0.5" />
<text x="511.40" y="691.55" font-size="5.7" text-anchor="end" fill="#2a2a2a">0.0</text>
<text x="500.20" y="651.45" font-size="7.5" text-anchor="middle" font-weight="bold" transform="rotate(-90 500.20 651.45)">Total vol. change</text>
<line x1="524.05" y1="659.50" x2="524.05" y2="687.40" stroke="#808080" stroke-width="0.7" />
<line x1="519.54" y1="659.50" x2="528.56" y2="659.50" stroke="#808080" stroke-width="0.7" />
<line x1="519.54" y1="687.40" x2="528.56" y2="687.40" stroke="#808080" stroke-width="0.7" />
<rect x="516.00" y="667.10" width="16.10" height="15.20" fill="#858585" stroke="#7d7d7d" stroke-width="0.6"/>
<line x1="516.00" y1="678.10" x2="532.10" y2="678.10" stroke="#555" stroke-width="0.7" />
<line x1="544.35" y1="650.40" x2="544.35" y2="688.00" stroke="#808080" stroke-width="0.7" />
<line x1="539.73" y1="650.40" x2="548.97" y2="650.40" stroke="#808080" stroke-width="0.7" />
<line x1="539.73" y1="688.00" x2="548.97" y2="688.00" stroke="#808080" stroke-width="0.7" />
<rect x="536.10" y="666.70" width="16.50" height="16.90" fill="#858585" stroke="#7d7d7d" stroke-width="0.6"/>
<line x1="536.10" y1="680.40" x2="552.60" y2="680.40" stroke="#555" stroke-width="0.7" />
<path d="M524.20 614.00L525.10 614.90L524.20 615.80L523.30 614.90Z" fill="#444" stroke="#444" stroke-width="0.2"/>
<path d="M524.20 643.40L525.10 644.30L524.20 645.20L523.30 644.30Z" fill="#444" stroke="#444" stroke-width="0.2"/>
<text x="522.54" y="694.40" font-size="5.95" text-anchor="end" fill="#2a2a2a" transform="rotate(-90 522.54 694.40)">BRCA</text>
<text x="529.14" y="694.40" font-size="5.95" text-anchor="end" fill="#2a2a2a" transform="rotate(-90 529.14 694.40)">wild-type</text>
<text x="543.04" y="694.40" font-size="5.95" text-anchor="end" fill="#2a2a2a" transform="rotate(-90 543.04 694.40)">BRCA</text>
<text x="549.44" y="694.40" font-size="5.95" text-anchor="end" fill="#2a2a2a" transform="rotate(-90 549.44 694.40)">mutant</text>
<text x="534.20" y="619.70" font-size="5.95" fill="#2a2a2a"><tspan font-style="italic">p</tspan>=0.84</text>
<text x="534.20" y="625.40" font-size="5.95" fill="#2a2a2a">n=45</text>
<rect x="578.40" y="611.50" width="40.60" height="80.10" fill="#fff" stroke="#333" stroke-width="0.85"/>
<line x1="576.60" y1="613.60" x2="578.40" y2="613.60" stroke="#2a2a2a" stroke-width="0.5" />
<text x="575.70" y="615.65" font-size="5.7" text-anchor="end" fill="#2a2a2a">2.0</text>
<line x1="576.60" y1="632.20" x2="578.40" y2="632.20" stroke="#2a2a2a" stroke-width="0.5" />
<text x="575.70" y="634.25" font-size="5.7" text-anchor="end" fill="#2a2a2a">1.5</text>
<line x1="576.60" y1="650.80" x2="578.40" y2="650.80" stroke="#2a2a2a" stroke-width="0.5" />
<text x="575.70" y="652.85" font-size="5.7" text-anchor="end" fill="#2a2a2a">1.0</text>
<line x1="576.60" y1="669.40" x2="578.40" y2="669.40" stroke="#2a2a2a" stroke-width="0.5" />
<text x="575.70" y="671.45" font-size="5.7" text-anchor="end" fill="#2a2a2a">0.5</text>
<line x1="576.60" y1="688.00" x2="578.40" y2="688.00" stroke="#2a2a2a" stroke-width="0.5" />
<text x="575.70" y="690.05" font-size="5.7" text-anchor="end" fill="#2a2a2a">0.0</text>
<text x="564.70" y="651.55" font-size="7.5" text-anchor="middle" font-weight="bold" transform="rotate(-90 564.70 651.55)">Omentum vol. change</text>
<line x1="588.60" y1="664.30" x2="588.60" y2="688.00" stroke="#808080" stroke-width="0.7" />
<line x1="584.06" y1="664.30" x2="593.14" y2="664.30" stroke="#808080" stroke-width="0.7" />
<line x1="584.06" y1="688.00" x2="593.14" y2="688.00" stroke="#808080" stroke-width="0.7" />
<rect x="580.50" y="676.60" width="16.20" height="10.80" fill="#a37bc2" stroke="#7d7d7d" stroke-width="0.6"/>
<line x1="580.50" y1="683.60" x2="596.70" y2="683.60" stroke="#555" stroke-width="0.7" />
<line x1="608.70" y1="683.30" x2="608.70" y2="688.20" stroke="#808080" stroke-width="0.7" />
<line x1="604.16" y1="683.30" x2="613.24" y2="683.30" stroke="#808080" stroke-width="0.7" />
<line x1="604.16" y1="688.20" x2="613.24" y2="688.20" stroke="#808080" stroke-width="0.7" />
<rect x="600.60" y="684.80" width="16.20" height="3.20" fill="#a37bc2" stroke="#7d7d7d" stroke-width="0.6"/>
<line x1="600.60" y1="687.00" x2="616.80" y2="687.00" stroke="#555" stroke-width="0.7" />
<path d="M588.70 614.00L589.60 614.90L588.70 615.80L587.80 614.90Z" fill="#444" stroke="#444" stroke-width="0.2"/>
<path d="M588.70 627.30L589.60 628.20L588.70 629.10L587.80 628.20Z" fill="#444" stroke="#444" stroke-width="0.2"/>
<path d="M588.70 646.90L589.60 647.80L588.70 648.70L587.80 647.80Z" fill="#444" stroke="#444" stroke-width="0.2"/>
<path d="M608.80 670.00L609.70 670.90L608.80 671.80L607.90 670.90Z" fill="#444" stroke="#444" stroke-width="0.2"/>
<path d="M608.80 679.50L609.70 680.40L608.80 681.30L607.90 680.40Z" fill="#444" stroke="#444" stroke-width="0.2"/>
<text x="586.94" y="694.60" font-size="5.95" text-anchor="end" fill="#2a2a2a" transform="rotate(-90 586.94 694.60)">BRCA</text>
<text x="593.54" y="694.60" font-size="5.95" text-anchor="end" fill="#2a2a2a" transform="rotate(-90 593.54 694.60)">wild-type</text>
<text x="607.34" y="694.60" font-size="5.95" text-anchor="end" fill="#2a2a2a" transform="rotate(-90 607.34 694.60)">BRCA</text>
<text x="613.74" y="694.60" font-size="5.95" text-anchor="end" fill="#2a2a2a" transform="rotate(-90 613.74 694.60)">mutant</text>
<text x="598.60" y="619.70" font-size="5.95" fill="#2a2a2a"><tspan font-style="italic">p</tspan>=0.09</text>
<text x="598.60" y="625.40" font-size="5.95" fill="#2a2a2a">n=45</text>
<rect x="642.70" y="611.50" width="41.00" height="80.10" fill="#fff" stroke="#333" stroke-width="0.85"/>
<line x1="640.90" y1="619.40" x2="642.70" y2="619.40" stroke="#2a2a2a" stroke-width="0.5" />
<text x="640.00" y="621.45" font-size="5.7" text-anchor="end" fill="#2a2a2a">1.5</text>
<line x1="640.90" y1="642.40" x2="642.70" y2="642.40" stroke="#2a2a2a" stroke-width="0.5" />
<text x="640.00" y="644.45" font-size="5.7" text-anchor="end" fill="#2a2a2a">1.0</text>
<line x1="640.90" y1="665.40" x2="642.70" y2="665.40" stroke="#2a2a2a" stroke-width="0.5" />
<text x="640.00" y="667.45" font-size="5.7" text-anchor="end" fill="#2a2a2a">0.5</text>
<line x1="640.90" y1="688.20" x2="642.70" y2="688.20" stroke="#2a2a2a" stroke-width="0.5" />
<text x="640.00" y="690.25" font-size="5.7" text-anchor="end" fill="#2a2a2a">0.0</text>
<text x="629.60" y="651.55" font-size="7.5" text-anchor="middle" font-weight="bold" transform="rotate(-90 629.60 651.55)">Pelvic/Ov. vol. change</text>
<line x1="653.20" y1="643.10" x2="653.20" y2="688.20" stroke="#808080" stroke-width="0.7" />
<line x1="648.55" y1="643.10" x2="657.85" y2="643.10" stroke="#808080" stroke-width="0.7" />
<line x1="648.55" y1="688.20" x2="657.85" y2="688.20" stroke="#808080" stroke-width="0.7" />
<rect x="644.90" y="662.40" width="16.60" height="16.40" fill="#92655a" stroke="#7d7d7d" stroke-width="0.6"/>
<line x1="644.90" y1="674.30" x2="661.50" y2="674.30" stroke="#555" stroke-width="0.7" />
<line x1="673.60" y1="639.60" x2="673.60" y2="688.20" stroke="#808080" stroke-width="0.7" />
<line x1="669.01" y1="639.60" x2="678.19" y2="639.60" stroke="#808080" stroke-width="0.7" />
<line x1="669.01" y1="688.20" x2="678.19" y2="688.20" stroke="#808080" stroke-width="0.7" />
<rect x="665.40" y="654.20" width="16.40" height="20.70" fill="#92655a" stroke="#7d7d7d" stroke-width="0.6"/>
<line x1="665.40" y1="670.40" x2="681.80" y2="670.40" stroke="#555" stroke-width="0.7" />
<path d="M653.30 614.10L654.20 615.00L653.30 615.90L652.40 615.00Z" fill="#444" stroke="#444" stroke-width="0.2"/>
<text x="651.84" y="694.60" font-size="5.95" text-anchor="end" fill="#2a2a2a" transform="rotate(-90 651.84 694.60)">BRCA</text>
<text x="658.04" y="694.60" font-size="5.95" text-anchor="end" fill="#2a2a2a" transform="rotate(-90 658.04 694.60)">wild-type</text>
<text x="672.34" y="694.60" font-size="5.95" text-anchor="end" fill="#2a2a2a" transform="rotate(-90 672.34 694.60)">BRCA</text>
<text x="678.54" y="694.60" font-size="5.95" text-anchor="end" fill="#2a2a2a" transform="rotate(-90 678.54 694.60)">mutant</text>
<text x="663.60" y="619.40" font-size="5.95" fill="#2a2a2a"><tspan font-style="italic">p</tspan>=0.26</text>
<text x="663.60" y="625.70" font-size="5.95" fill="#2a2a2a">n=45</text>
</g>
</svg>
</body>
</html>
